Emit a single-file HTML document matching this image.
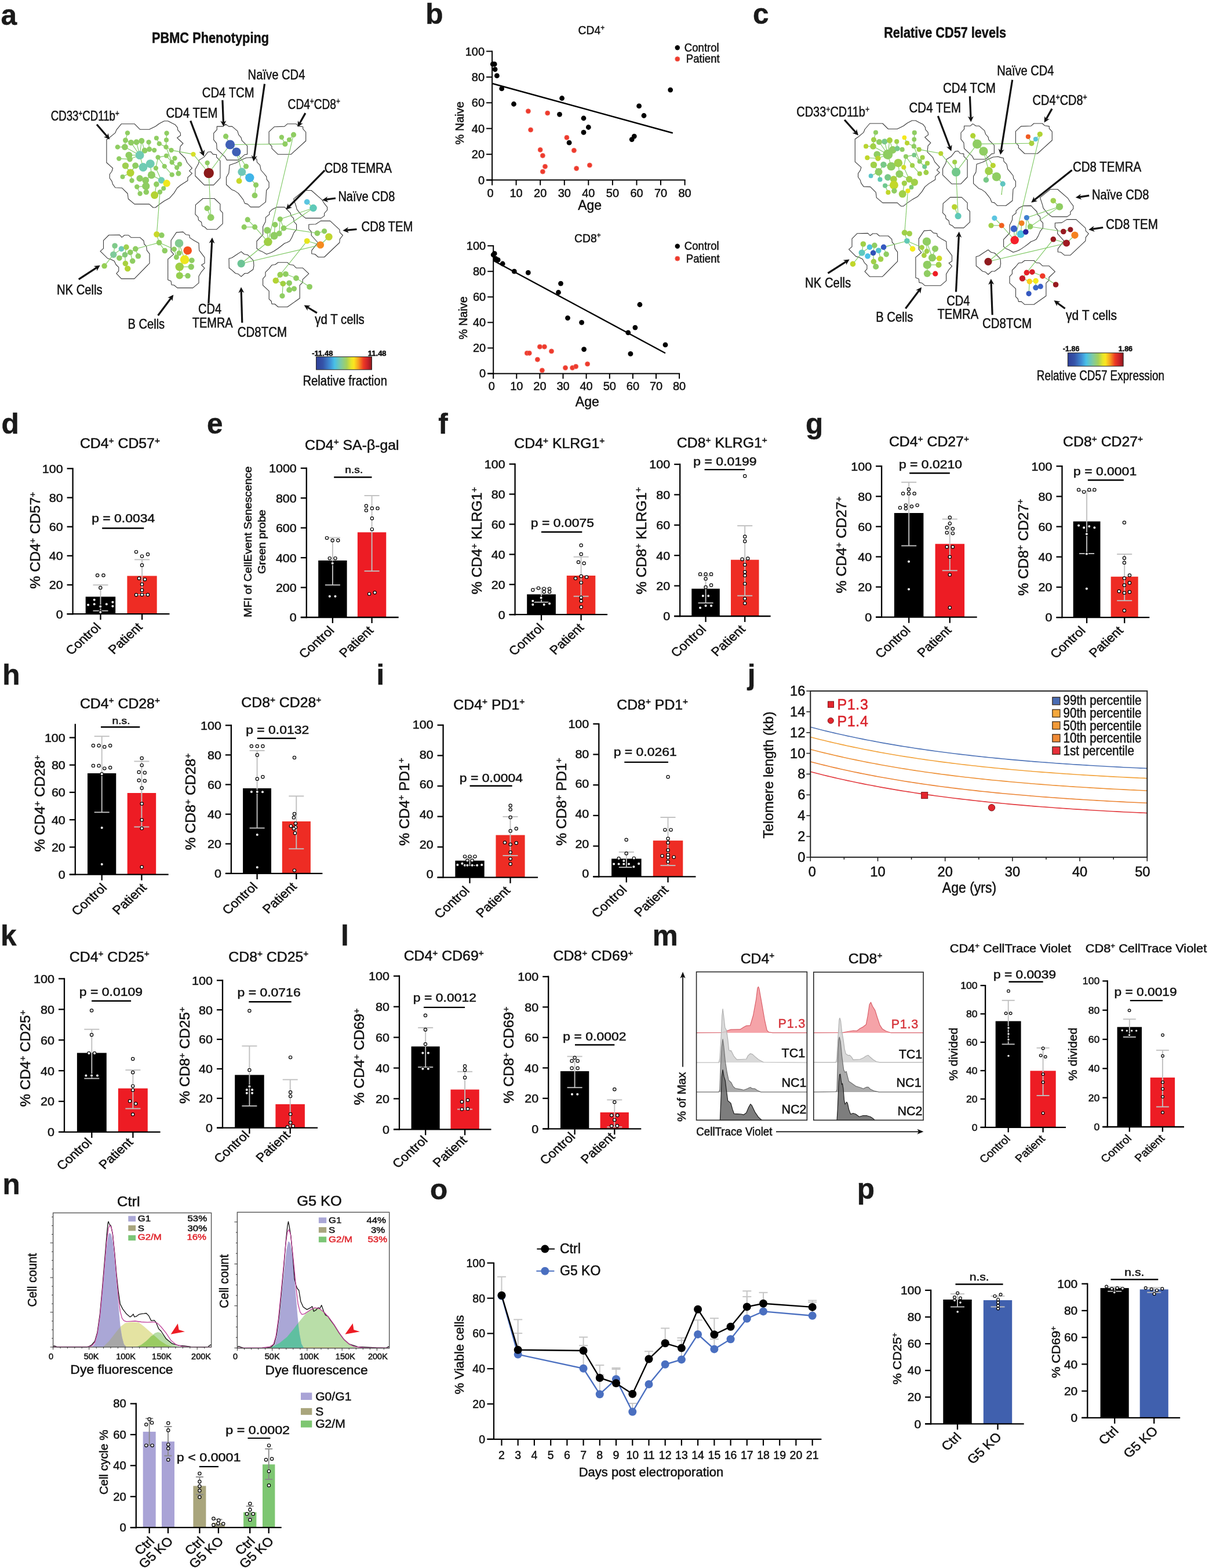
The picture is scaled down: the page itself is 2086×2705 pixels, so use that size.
<!DOCTYPE html>
<html><head><meta charset="utf-8"><title>Figure</title>
<style>
html,body{margin:0;padding:0;background:#fff}
svg{display:block}
text{font-family:"Liberation Sans",sans-serif;fill:#111;stroke:#111;stroke-width:0.5px}
</style></head><body>
<svg xmlns="http://www.w3.org/2000/svg" width="2086" height="2705" viewBox="0 0 2086 2705">
<rect width="2086" height="2705" fill="#fff"/>
<g fill="none" stroke="#3a3a3a" stroke-width="1.1" stroke-linejoin="round">
<path d="M183.9 241 L189.2 237.2 L198.9 229.2 L201 223.9 L209.5 213.7 L232 213.7 L241.6 223.3 L257.6 223.3 L268.3 218 L274.8 213.2 L283.3 208.7 L289.7 208.7 L296.1 212.1 L302.5 215.3 L306.3 220.1 L306.8 224.4 L311.1 229.2 L311.6 233.5 L305.7 237.8 L310 242 L315.9 247.4 L311.1 252.7 L310 263.4 L319.6 273 L322.9 280.5 L331.4 290.1 L326.6 294.9 L331.4 299.2 L323.9 306.2 L323.9 311.5 L312.2 319 L305.7 324.3 L300.4 332.9 L292.9 341.4 L283.3 346.8 L274.8 352.7 L268.3 358 L264.1 358 L257.6 352.1 L232 352.1 L221.3 343 L220.2 334 L210.6 324.3 L198.9 323.8 L194.6 317.9 L193 312.6 L189.2 307.2 L189.2 300.8 L193 295.5 L194.6 290.1 L183.9 280.5 Z"/>
<path d="M351.8 271.1 L358.7 262.3 L363.7 261.7 L367.4 266.1 L373.6 266.7 L373.6 271.1 L379.9 277.3 L379.9 307.2 L368.7 319.1 L352.4 319.1 L336.9 303.5 L336.9 292.3 L342.5 282.3 L343.7 276.1 Z"/>
<path d="M374.3 218.1 L384.9 218.1 L389.2 214.3 L394.8 218.1 L400.5 218.1 L409.8 226.2 L411.7 232.4 L416 237.4 L417.3 242.4 L426.6 251.7 L426.6 266.1 L422.3 266.7 L416 272.3 L411.1 276.1 L391.1 276.1 L388.6 271.1 L374.3 257.4 L373.6 247.4 L368.7 241.1 L368.7 229.9 L374.3 223.7 Z"/>
<path d="M396.1 284.8 L407.3 281 L416 276.1 L424.8 272.3 L433.5 271.7 L437.9 272.9 L442.9 274.2 L443.5 279.8 L448.5 284.8 L450.3 293.5 L454.7 298.5 L459.7 304.7 L460.3 309.7 L464.1 314.7 L464.1 323.4 L459.7 328.4 L458.4 348.4 L447.2 357.1 L432.3 357.1 L427.3 352.1 L422.3 350.9 L419.8 344.6 L416 339.7 L411.1 333.4 L404.8 329.1 L399.8 327.2 L390.5 318.5 L390.5 306 L394.8 298.5 Z"/>
<path d="M464.1 227.4 L473.4 218.7 L490.9 218.1 L495.9 213.7 L510.8 213.7 L514.6 217.4 L522.7 218.7 L522.7 222.4 L527.7 228 L527.7 243 L502.1 266.3 L479.6 266.3 L469 256.1 L469 252.4 L464.1 247.4 Z"/>
<path d="M337.5 353.4 L350 342.5 L369.9 342.5 L379.9 352.1 L379.9 362.7 L384.2 367.1 L384.2 385.8 L373.6 395.8 L357.4 395.8 L353.7 392 L348.7 389.5 L347.5 383.3 L342.5 379.6 L341.8 374.6 L336.9 369.6 Z"/>
<path d="M464.8 366.1 L469.8 361.2 L477.3 357.4 L491 357.2 L494.8 361.2 L501 367.4 L502.3 372.4 L506.6 376.7 L507.2 382.4 L511.6 387.3 L511.6 396.1 L507.2 401.1 L503.5 409.8 L499.8 416 L494.8 418.5 L491 419.8 L484.8 424.8 L479.8 428.5 L472.3 433.5 L467.3 436 L459.9 438.5 L452.4 434.1 L447.4 432.2 L443 428.5 L443 416 L453.6 404.8 L453.6 391.1 L458 382.4 L458.6 374.9 L464.8 369.9 Z"/>
<path d="M506.6 343.1 L524.7 328.5 L537.2 328.5 L555.3 344.3 L559.6 351.2 L564.6 357.4 L564.6 362.4 L559.6 368 L559.6 372.4 L554 376.4 L527.2 376.4 L519.1 369.9 L512.2 361.2 L511 356.2 Z"/>
<path d="M532.8 387.3 L544.7 386.7 L553.4 381.1 L569.6 381.1 L585.8 396.1 L586.4 401.1 L591.4 406 L586.4 412.3 L585.8 418.5 L559.6 443.5 L549 443.5 L543.4 438.5 L537.8 437.8 L537.8 432.2 L548.4 418.5 L537.2 406 L537.2 399.8 L532.8 394.8 Z"/>
<path d="M395 446 L400 444.7 L407.5 439.7 L416.2 434.1 L421.2 438.5 L427.4 439.7 L437.4 449.7 L438 458.4 L436.8 464.7 L427.4 471.5 L422.4 471.5 L416.2 477.1 L411.2 472.8 L406.2 471.5 L400 465.9 L395.3 462.2 Z"/>
<path d="M464.2 463.4 L469.2 457.2 L474.8 456.5 L479.8 452.8 L496 452.8 L499.8 456.5 L506 457.2 L511 462.2 L522.2 462.2 L532.8 472.1 L522.2 482.1 L522.2 487.1 L517.2 492.1 L517.2 514.5 L496 529.5 L479.8 529.5 L474.2 524.5 L469.2 524.5 L468 519.5 L464.2 515.8 L464.2 502.1 L453.6 492.1 L453.6 480.9 L458 475.9 L458 469.6 Z"/>
<path d="M173.1 433.3 L178.5 428.7 L178.5 414.8 L187.8 405.5 L206.3 405.2 L210.2 409.4 L214.8 405.8 L221.8 405.8 L226.4 409.8 L241.8 409.8 L248 415.5 L248.8 421 L252.6 424.8 L253.4 431.8 L258 437.9 L258 454.1 L231.8 480.9 L209.4 480.9 L200.9 471.9 L204.8 467.3 L204.8 461.1 L200.1 456.5 L197.1 450.3 L190.9 447.2 L185.5 445.7 Z"/>
<path d="M295.1 414.8 L304.4 400.9 L315.9 400.1 L320.6 404.7 L326.7 405.5 L327.5 410.1 L334.5 414.8 L343 419.4 L343.7 431.8 L353 444.1 L353 454.1 L347.6 457.2 L353 462.6 L347.6 468.8 L343 476.5 L343 488.1 L332.9 496.6 L305.9 496.6 L300.5 492 L295.9 491.2 L295.1 485 L289.7 482.7 L289.7 447.2 L299.7 438.7 L295.1 433.3 Z"/>
</g>
<g stroke="#7cc760" stroke-width="1.1">
<path d="M220 229.4 L216.5 242"/>
<path d="M216.5 242 L215.4 253.6"/>
<path d="M202.9 253.6 L215.4 253.6"/>
<path d="M216.5 242 L226.1 246.1"/>
<path d="M215.4 253.6 L241.1 267.7"/>
<path d="M226.1 246.1 L241.1 267.7"/>
<path d="M235.4 245.2 L241.1 267.7"/>
<path d="M244.3 243.1 L241.1 267.7"/>
<path d="M244.3 243.1 L249.6 259.7"/>
<path d="M256.6 245.2 L257.6 257.5"/>
<path d="M249.6 259.7 L241.1 267.7"/>
<path d="M257.6 257.5 L249.6 259.7"/>
<path d="M266.2 259.1 L257.6 257.5"/>
<path d="M222.4 267.7 L241.1 267.7"/>
<path d="M205.3 273.6 L224 274.6"/>
<path d="M224 274.6 L241.1 267.7"/>
<path d="M241.1 267.7 L247 288.5"/>
<path d="M247 288.5 L259.3 282.6"/>
<path d="M233.6 285.6 L247 288.5"/>
<path d="M216.5 285.9 L225 298.1"/>
<path d="M233.6 285.6 L225 298.1"/>
<path d="M225 298.1 L211.5 305.1"/>
<path d="M225 298.1 L227.5 311.5"/>
<path d="M259.3 282.6 L261.4 301.9"/>
<path d="M261.4 301.9 L251.2 311"/>
<path d="M251.2 311 L241.1 307.8"/>
<path d="M251.2 311 L251.8 321.1"/>
<path d="M251.8 321.1 L252.3 331.3"/>
<path d="M251.8 321.1 L236.3 322.2"/>
<path d="M236.3 322.2 L241.6 334"/>
<path d="M261.4 301.9 L278.5 311"/>
<path d="M278.5 311 L287.6 316.3"/>
<path d="M287.6 316.3 L282.2 324.9"/>
<path d="M282.2 324.9 L276 331.3"/>
<path d="M276 331.3 L266.7 336.6"/>
<path d="M269.9 317.9 L266.7 336.6"/>
<path d="M268.9 290.1 L272.6 271.4"/>
<path d="M268.9 290.1 L278.5 311"/>
<path d="M272.6 271.4 L287 268.8"/>
<path d="M272.6 271.4 L283.8 286.9"/>
<path d="M283.8 286.9 L296.7 301.4"/>
<path d="M287 268.8 L296.7 280"/>
<path d="M296.7 280 L301.5 273"/>
<path d="M296.7 280 L305.2 289.1"/>
<path d="M305.2 289.1 L310 283.2"/>
<path d="M305.2 289.1 L307.9 299.2"/>
<path d="M286.5 253.6 L295.6 259.1"/>
<path d="M286.5 253.6 L274.8 247.9"/>
<path d="M274.8 247.9 L269.9 238.3"/>
<path d="M286.5 253.6 L287 241.5"/>
<path d="M287 241.5 L287.6 229.7"/>
<path d="M286.5 253.6 L296.7 280"/>
<path d="M295.6 259.1 L333.5 266.1"/>
<path d="M333.5 266.1 L360.2 298.5"/>
<path d="M357.7 281 L360.2 298.5"/>
<path d="M360.2 298.5 L397 249.5"/>
<path d="M360.2 298.5 L363.7 375.2"/>
<path d="M389.6 235.2 L397 249.5"/>
<path d="M397 249.5 L407.9 262.1"/>
<path d="M397 249.5 L491.9 248.4"/>
<path d="M407.9 262.1 L424.5 287"/>
<path d="M407.9 262.1 L417.3 296.6"/>
<path d="M417.3 296.6 L430.8 306.6"/>
<path d="M417.3 296.6 L412.6 312.2"/>
<path d="M430.8 306.6 L441.6 319.1"/>
<path d="M441.6 319.1 L439.5 337.2"/>
<path d="M485.9 236.8 L491.9 248.4"/>
<path d="M491.9 248.4 L499 241.1"/>
<path d="M499 241.1 L506.5 232.4"/>
<path d="M357.4 359.4 L363.7 375.2"/>
<path d="M427.2 378.9 L439.7 391.7"/>
<path d="M421.2 391.7 L439.7 391.7"/>
<path d="M439.7 391.7 L462.4 417.3"/>
<path d="M462.4 417.3 L461.1 397.3"/>
<path d="M462.4 417.3 L473 406.7"/>
<path d="M473 406.7 L474.6 387.6"/>
<path d="M481.7 402.9 L483.3 378"/>
<path d="M483.3 378 L489.5 393.6"/>
<path d="M473 406.7 L481.7 402.9"/>
<path d="M481.7 402.9 L489.5 393.6"/>
<path d="M483.3 378 L540.5 358.9"/>
<path d="M489.5 393.6 L540.5 358.9"/>
<path d="M489.5 393.6 L547.4 402.3"/>
<path d="M506.5 232.4 L462.4 417.3"/>
<path d="M462.4 417.3 L416.2 454.7"/>
<path d="M547.4 402.3 L559.6 398.8"/>
<path d="M567.4 408.5 L552.8 422.5"/>
<path d="M529.7 415.8 L552.8 422.5"/>
<path d="M552.8 422.5 L416.2 454.7"/>
<path d="M529.7 415.8 L483.3 474"/>
<path d="M529.7 348.4 L540.5 358.9"/>
<path d="M483.3 474 L492.9 472.8"/>
<path d="M492.9 472.8 L511 479.9"/>
<path d="M511 479.9 L534.1 494.8"/>
<path d="M483.3 474 L475.8 484"/>
<path d="M475.8 484 L488.3 489.3"/>
<path d="M488.3 489.3 L499.1 488.3"/>
<path d="M499.1 488.3 L499.1 500.2"/>
<path d="M488.3 489.3 L487 510.5"/>
<path d="M276 331.3 L270.4 404.3"/>
<path d="M270.4 404.3 L278.9 405.8"/>
<path d="M270.4 404.3 L274.6 418.6"/>
<path d="M274.6 418.6 L233.8 429.4"/>
<path d="M274.6 418.6 L284.3 432.5"/>
<path d="M274.6 418.6 L300.5 429.9"/>
<path d="M233.8 429.4 L224.8 435.3"/>
<path d="M224.8 435.3 L215.6 439.5"/>
<path d="M215.6 439.5 L217.9 426.4"/>
<path d="M215.6 439.5 L205.9 445.2"/>
<path d="M215.6 439.5 L216.4 454.6"/>
<path d="M216.4 454.6 L220.2 463.4"/>
<path d="M224.8 435.3 L228.7 450.3"/>
<path d="M233.8 429.4 L238.4 441.8"/>
<path d="M209.4 429.4 L195.8 439.2"/>
<path d="M198.1 424 L195.8 439.2"/>
<path d="M195.8 439.2 L180.1 458.8"/>
<path d="M209.4 429.4 L217.9 426.4"/>
<path d="M300.5 429.9 L304.4 443.8"/>
<path d="M309 419.7 L309 436.7"/>
<path d="M309 419.7 L318.6 448"/>
<path d="M309 436.7 L304.4 443.8"/>
<path d="M318.6 448 L323.7 432.2"/>
<path d="M318.6 448 L309.8 460.3"/>
<path d="M318.6 448 L330.9 449.2"/>
<path d="M309.8 460.3 L329.8 460.3"/>
<path d="M309.8 460.3 L309.8 475.5"/>
<path d="M309.8 475.5 L324 475.8"/>
</g>
<g>
<circle cx="220" cy="229.4" r="4.2" fill="#8fcd62"/>
<circle cx="216.5" cy="242" r="4.5" fill="#8fcd62"/>
<circle cx="202.9" cy="253.6" r="4.2" fill="#8fcd62"/>
<circle cx="215.4" cy="253.6" r="5.4" fill="#8fcd62"/>
<circle cx="226.1" cy="246.1" r="5" fill="#8fcd62"/>
<circle cx="235.4" cy="245.2" r="5" fill="#8fcd62"/>
<circle cx="244.3" cy="243.1" r="5" fill="#8fcd62"/>
<circle cx="256.6" cy="245.2" r="4.2" fill="#8fcd62"/>
<circle cx="249.6" cy="259.7" r="5" fill="#8fcd62"/>
<circle cx="257.6" cy="257.5" r="4.5" fill="#8fcd62"/>
<circle cx="266.2" cy="259.1" r="4.2" fill="#8fcd62"/>
<circle cx="241.1" cy="267.7" r="7.4" fill="#6fcbb3"/>
<circle cx="222.4" cy="267.7" r="6" fill="#8fcd62"/>
<circle cx="205.3" cy="273.6" r="4.2" fill="#8fcd62"/>
<circle cx="224" cy="274.6" r="4.8" fill="#8fcd62"/>
<circle cx="216.5" cy="285.9" r="5.7" fill="#9fcf50"/>
<circle cx="233.6" cy="285.6" r="5.4" fill="#8fcd62"/>
<circle cx="247" cy="288.5" r="7.4" fill="#6fcbb3"/>
<circle cx="259.3" cy="282.6" r="7.4" fill="#6fcbb3"/>
<circle cx="225" cy="298.1" r="6.6" fill="#b3d334"/>
<circle cx="211.5" cy="305.1" r="4" fill="#8fcd62"/>
<circle cx="227.5" cy="311.5" r="4.2" fill="#8fcd62"/>
<circle cx="241.1" cy="307.8" r="5.7" fill="#8fcd62"/>
<circle cx="251.2" cy="311" r="6" fill="#8fcd62"/>
<circle cx="261.4" cy="301.9" r="6.6" fill="#8fcd62"/>
<circle cx="251.8" cy="321.1" r="6.6" fill="#8fcd62"/>
<circle cx="236.3" cy="322.2" r="4.2" fill="#8fcd62"/>
<circle cx="241.6" cy="334" r="4.2" fill="#8fcd62"/>
<circle cx="252.3" cy="331.3" r="4.8" fill="#8fcd62"/>
<circle cx="278.5" cy="311" r="5.7" fill="#6fcbb3"/>
<circle cx="287.6" cy="316.3" r="6.2" fill="#efe81c"/>
<circle cx="269.9" cy="317.9" r="4.8" fill="#8fcd62"/>
<circle cx="282.2" cy="324.9" r="4" fill="#8fcd62"/>
<circle cx="276" cy="331.3" r="4.2" fill="#8fcd62"/>
<circle cx="266.7" cy="336.6" r="6.6" fill="#b3d334"/>
<circle cx="268.9" cy="290.1" r="4.2" fill="#8fcd62"/>
<circle cx="272.6" cy="271.4" r="4.2" fill="#8fcd62"/>
<circle cx="287" cy="268.8" r="4" fill="#8fcd62"/>
<circle cx="283.8" cy="286.9" r="4.2" fill="#8fcd62"/>
<circle cx="296.7" cy="301.4" r="4.2" fill="#8fcd62"/>
<circle cx="307.9" cy="299.2" r="4.5" fill="#8fcd62"/>
<circle cx="305.2" cy="289.1" r="4.2" fill="#8fcd62"/>
<circle cx="310" cy="283.2" r="4.2" fill="#8fcd62"/>
<circle cx="296.7" cy="280" r="4.2" fill="#8fcd62"/>
<circle cx="301.5" cy="273" r="4.2" fill="#8fcd62"/>
<circle cx="295.6" cy="259.1" r="4.2" fill="#8fcd62"/>
<circle cx="286.5" cy="253.6" r="4.2" fill="#8fcd62"/>
<circle cx="274.8" cy="247.9" r="4.2" fill="#8fcd62"/>
<circle cx="269.9" cy="238.3" r="4" fill="#8fcd62"/>
<circle cx="287" cy="241.5" r="4" fill="#8fcd62"/>
<circle cx="287.6" cy="229.7" r="4.2" fill="#8fcd62"/>
<circle cx="333.5" cy="266.1" r="4.2" fill="#d6df2a"/>
<circle cx="357.7" cy="281" r="4.2" fill="#8fcd62"/>
<circle cx="360.2" cy="298.5" r="8.7" fill="#8b1a1a"/>
<circle cx="389.6" cy="235.2" r="4.6" fill="#8fcd62"/>
<circle cx="397" cy="249.5" r="8.1" fill="#3f5fb5"/>
<circle cx="407.9" cy="262.1" r="7.7" fill="#3f5fb5"/>
<circle cx="424.5" cy="287" r="4.6" fill="#8fcd62"/>
<circle cx="417.3" cy="296.6" r="7" fill="#6fc7b7"/>
<circle cx="430.8" cy="306.6" r="7.7" fill="#3fb4e8"/>
<circle cx="412.6" cy="312.2" r="4.9" fill="#c8d82a"/>
<circle cx="441.6" cy="319.1" r="4.6" fill="#8fcd62"/>
<circle cx="439.5" cy="337.2" r="4.9" fill="#8fcd62"/>
<circle cx="485.9" cy="236.8" r="4.2" fill="#8fcd62"/>
<circle cx="506.5" cy="232.4" r="4.6" fill="#8fcd62"/>
<circle cx="499" cy="241.1" r="4.2" fill="#8fcd62"/>
<circle cx="491.9" cy="248.4" r="4.6" fill="#8fcd62"/>
<circle cx="357.4" cy="359.4" r="4.9" fill="#8fcd62"/>
<circle cx="363.7" cy="375.2" r="5.9" fill="#8fcd62"/>
<circle cx="427.2" cy="378.9" r="4.6" fill="#8fcd62"/>
<circle cx="421.2" cy="391.7" r="4.6" fill="#8fcd62"/>
<circle cx="439.7" cy="391.7" r="4.6" fill="#8fcd62"/>
<circle cx="483.3" cy="378" r="4.6" fill="#8fcd62"/>
<circle cx="474.6" cy="387.6" r="4.9" fill="#8fcd62"/>
<circle cx="489.5" cy="393.6" r="4.9" fill="#8fcd62"/>
<circle cx="461.1" cy="397.3" r="5.9" fill="#8fcd62"/>
<circle cx="473" cy="406.7" r="6.7" fill="#8fcd62"/>
<circle cx="481.7" cy="402.9" r="4.9" fill="#8fcd62"/>
<circle cx="462.4" cy="417.3" r="7.3" fill="#9fcf45"/>
<circle cx="529.7" cy="348.4" r="4.9" fill="#5bc5e0"/>
<circle cx="540.5" cy="358.9" r="6.3" fill="#5fc9b8"/>
<circle cx="547.4" cy="402.3" r="4.9" fill="#8fcd62"/>
<circle cx="559.6" cy="398.8" r="4.6" fill="#8fcd62"/>
<circle cx="567.4" cy="408.5" r="6.3" fill="#c0d630"/>
<circle cx="529.7" cy="415.8" r="4.9" fill="#e6e61e"/>
<circle cx="552.8" cy="422.5" r="6.3" fill="#f58a1f"/>
<circle cx="416.2" cy="454.7" r="6.7" fill="#6cc495"/>
<circle cx="483.3" cy="474" r="4.9" fill="#98cf55"/>
<circle cx="492.9" cy="472.8" r="4.9" fill="#8fcd62"/>
<circle cx="511" cy="479.9" r="4.9" fill="#8fcd62"/>
<circle cx="475.8" cy="484" r="5.3" fill="#b3d334"/>
<circle cx="488.3" cy="489.3" r="4.9" fill="#a0d040"/>
<circle cx="499.1" cy="488.3" r="4.9" fill="#8fcd62"/>
<circle cx="499.1" cy="500.2" r="4.9" fill="#8fcd62"/>
<circle cx="507.5" cy="498.1" r="4.6" fill="#8fcd62"/>
<circle cx="487" cy="510.5" r="4.6" fill="#8fcd62"/>
<circle cx="534.1" cy="494.8" r="4.9" fill="#8fcd62"/>
<circle cx="270.4" cy="404.3" r="5.2" fill="#c8d82a"/>
<circle cx="278.9" cy="405.8" r="4.8" fill="#8fcd62"/>
<circle cx="274.6" cy="418.6" r="4.8" fill="#8fcd62"/>
<circle cx="284.3" cy="432.5" r="4.8" fill="#8fcd62"/>
<circle cx="198.1" cy="424" r="4.8" fill="#7fca8a"/>
<circle cx="209.4" cy="429.4" r="4.8" fill="#6fc9b5"/>
<circle cx="217.9" cy="426.4" r="4.8" fill="#9fd050"/>
<circle cx="233.8" cy="429.4" r="4.8" fill="#8fcd62"/>
<circle cx="195.8" cy="439.2" r="5.7" fill="#7fcb9a"/>
<circle cx="205.9" cy="445.2" r="4.8" fill="#8fcd62"/>
<circle cx="215.6" cy="439.5" r="4.8" fill="#85c878"/>
<circle cx="224.8" cy="435.3" r="4.8" fill="#8fcd62"/>
<circle cx="238.4" cy="441.8" r="4.8" fill="#8fcd62"/>
<circle cx="228.7" cy="450.3" r="4.8" fill="#8fcd62"/>
<circle cx="216.4" cy="454.6" r="4.8" fill="#a8d040"/>
<circle cx="220.2" cy="463.4" r="5.2" fill="#b3d334"/>
<circle cx="180.1" cy="458.8" r="4.8" fill="#95cf55"/>
<circle cx="309" cy="419.7" r="7.3" fill="#82c990"/>
<circle cx="323.7" cy="432.2" r="7.3" fill="#f4511e"/>
<circle cx="300.5" cy="429.9" r="4.5" fill="#8fcd62"/>
<circle cx="309" cy="436.7" r="4.5" fill="#8fcd62"/>
<circle cx="304.4" cy="443.8" r="4.5" fill="#8fcd62"/>
<circle cx="318.6" cy="448" r="7.8" fill="#ede61e"/>
<circle cx="330.9" cy="449.2" r="4.8" fill="#8fcd62"/>
<circle cx="309.8" cy="460.3" r="7.3" fill="#9fcf45"/>
<circle cx="329.8" cy="460.3" r="5.2" fill="#8fcd62"/>
<circle cx="309.8" cy="475.5" r="6.1" fill="#95cf50"/>
<circle cx="324" cy="475.8" r="4.8" fill="#8fcd62"/>
</g>
<text transform="translate(363,73.5) scale(0.872,1)" font-size="25" text-anchor="middle" font-weight="bold">PBMC Phenotyping</text>
<text transform="translate(427.6,137.2) scale(0.860,1)" font-size="23.5">Naïve CD4</text>
<text transform="translate(348.7,168.3) scale(0.865,1)" font-size="23.5">CD4 TCM</text>
<text transform="translate(286.4,202.6) scale(0.867,1)" font-size="23.5">CD4 TEM</text>
<text transform="translate(496.6,187.9) scale(0.814,1)" font-size="23.5">CD4<tspan dy="-8.5" font-size="14.6">+</tspan><tspan dy="8.5" font-size="1">&#8203;</tspan>CD8<tspan dy="-8.5" font-size="14.6">+</tspan><tspan dy="8.5" font-size="1">&#8203;</tspan></text>
<text transform="translate(87.7,208.4) scale(0.795,1)" font-size="23.5">CD33<tspan dy="-8.5" font-size="14.6">+</tspan><tspan dy="8.5" font-size="1">&#8203;</tspan>CD11b<tspan dy="-8.5" font-size="14.6">+</tspan><tspan dy="8.5" font-size="1">&#8203;</tspan></text>
<text transform="translate(559.8,297.5) scale(0.859,1)" font-size="23.5">CD8 TEMRA</text>
<text transform="translate(583.4,346.5) scale(0.853,1)" font-size="23.5">Naïve CD8</text>
<text transform="translate(623.5,398.6) scale(0.867,1)" font-size="23.5">CD8 TEM</text>
<text transform="translate(98,507.7) scale(0.862,1)" font-size="23.5">NK Cells</text>
<text transform="translate(220.5,566.5) scale(0.856,1)" font-size="23.5">B Cells</text>
<text transform="translate(342,541.1) scale(0.853,1)" font-size="23.5">CD4</text>
<text transform="translate(331.8,564.7) scale(0.850,1)" font-size="23.5">TEMRA</text>
<text transform="translate(409.7,581.2) scale(0.873,1)" font-size="23.5">CD8TCM</text>
<text transform="translate(543.3,558.9) scale(0.869,1)" font-size="23.5">γd T cells</text>
<line x1="456.5" y1="144.7" x2="438.3" y2="271.4" stroke="#111" stroke-width="3.2"/>
<polygon points="437.4,278.4 433.8,267.7 438.3,271.4 443.7,269.2" fill="#111"/>
<line x1="383.9" y1="172.8" x2="385.4" y2="211.2" stroke="#111" stroke-width="3.2"/>
<polygon points="385.7,218.2 380.3,208.4 385.4,211.2 390.3,208" fill="#111"/>
<line x1="328.7" y1="208.4" x2="349.4" y2="262.9" stroke="#111" stroke-width="3.2"/>
<polygon points="351.8,269.4 343.6,261.9 349.4,262.9 353,258.3" fill="#111"/>
<line x1="526.9" y1="195.1" x2="516.9" y2="213" stroke="#111" stroke-width="3.2"/>
<polygon points="513.5,219.1 514,208 516.9,213 522.7,212.8" fill="#111"/>
<line x1="167" y1="214.7" x2="184.7" y2="235.2" stroke="#111" stroke-width="3.2"/>
<polygon points="189.3,240.5 179,236.2 184.7,235.2 186.5,229.7" fill="#111"/>
<line x1="560.3" y1="293.9" x2="498.4" y2="356.7" stroke="#111" stroke-width="3.2"/>
<polygon points="493.5,361.6 496.9,351 498.4,356.7 504.1,358" fill="#111"/>
<line x1="579" y1="342" x2="562.8" y2="344.2" stroke="#111" stroke-width="3.2"/>
<polygon points="555.8,345.2 565.1,338.9 562.8,344.2 566.4,348.8" fill="#111"/>
<line x1="615.5" y1="395.5" x2="598.4" y2="397.1" stroke="#111" stroke-width="3.2"/>
<polygon points="591.4,397.7 600.9,391.8 598.4,397.1 601.9,401.8" fill="#111"/>
<line x1="135.8" y1="481.9" x2="166.9" y2="461.7" stroke="#111" stroke-width="3.2"/>
<polygon points="172.8,457.8 167.1,467.5 166.9,461.7 161.7,459.1" fill="#111"/>
<line x1="272.6" y1="544.2" x2="295.1" y2="514.2" stroke="#111" stroke-width="3.2"/>
<polygon points="299.3,508.6 297.3,519.6 295.1,514.2 289.3,513.6" fill="#111"/>
<line x1="359.9" y1="523.3" x2="365.7" y2="416.7" stroke="#111" stroke-width="3.2"/>
<polygon points="366.1,409.7 370.5,420 365.7,416.7 360.6,419.4" fill="#111"/>
<line x1="417.8" y1="556.7" x2="416.2" y2="502.2" stroke="#111" stroke-width="3.2"/>
<polygon points="416,495.2 421.3,505.1 416.2,502.2 411.3,505.4" fill="#111"/>
<line x1="546.9" y1="539.8" x2="530.6" y2="530" stroke="#111" stroke-width="3.2"/>
<polygon points="524.6,526.4 535.8,527.3 530.6,530 530.6,535.9" fill="#111"/>
<defs><linearGradient id="cba" x1="0" x2="1" y1="0" y2="0">
<stop offset="0" stop-color="#2f3f98"/>
<stop offset="0.12" stop-color="#3553a8"/>
<stop offset="0.25" stop-color="#3f8fd6"/>
<stop offset="0.33" stop-color="#48c0e8"/>
<stop offset="0.45" stop-color="#7fcaa0"/>
<stop offset="0.55" stop-color="#a6d05a"/>
<stop offset="0.63" stop-color="#e6e52a"/>
<stop offset="0.68" stop-color="#fbe51f"/>
<stop offset="0.76" stop-color="#f7a020"/>
<stop offset="0.85" stop-color="#ee3a24"/>
<stop offset="0.93" stop-color="#c8202a"/>
<stop offset="1" stop-color="#8b1a1c"/>
</linearGradient></defs>
<rect x="545.6" y="615.5" width="95.8" height="22.3" fill="url(#cba)" stroke="#222" stroke-width="1"/>
<text x="556.3" y="613.7" font-size="13" text-anchor="middle" font-weight="bold">-11.48</text>
<text x="650.7" y="613.7" font-size="13" text-anchor="middle" font-weight="bold">11.48</text>
<text transform="translate(522.4,664.5) scale(0.864,1)" font-size="23.5">Relative fraction</text>
<g fill="none" stroke="#3a3a3a" stroke-width="1.1" stroke-linejoin="round">
<path d="M1475.3 240 L1480.6 236.3 L1490.1 228.3 L1492.2 223 L1500.7 213 L1522.9 213 L1532.4 222.5 L1548.2 222.5 L1558.8 217.2 L1565.1 212.5 L1573.6 208 L1579.9 208 L1586.3 211.4 L1592.6 214.6 L1596.3 219.3 L1596.9 223.6 L1601.1 228.3 L1601.6 232.6 L1595.8 236.8 L1600 241 L1605.8 246.3 L1601.1 251.6 L1600 262.2 L1609.5 271.7 L1612.7 279.1 L1621.2 288.6 L1616.4 293.3 L1621.2 297.6 L1613.8 304.4 L1613.8 309.7 L1602.1 317.1 L1595.8 322.4 L1590.5 330.9 L1583.1 339.3 L1573.6 344.6 L1565.1 350.4 L1558.8 355.7 L1554.6 355.7 L1548.2 349.9 L1522.9 349.9 L1512.3 340.9 L1511.2 331.9 L1501.7 322.4 L1490.1 321.9 L1485.9 316.1 L1484.3 310.8 L1480.6 305.5 L1480.6 299.2 L1484.3 293.9 L1485.9 288.6 L1475.3 279.1 Z"/>
<path d="M1641.4 269.7 L1648.1 261.1 L1653.1 260.5 L1656.8 264.8 L1662.9 265.4 L1662.9 269.7 L1669.1 275.9 L1669.1 305.5 L1658 317.2 L1642 317.2 L1626.6 301.8 L1626.6 290.7 L1632.1 280.8 L1633.3 274.7 Z"/>
<path d="M1663.6 217.3 L1674 217.3 L1678.4 213.6 L1683.9 217.3 L1689.5 217.3 L1698.7 225.3 L1700.6 231.5 L1704.9 236.4 L1706.1 241.4 L1715.4 250.6 L1715.4 264.8 L1711 265.4 L1704.9 271 L1699.9 274.7 L1680.2 274.7 L1677.7 269.7 L1663.6 256.2 L1662.9 246.3 L1658 240.1 L1658 229 L1663.6 222.9 Z"/>
<path d="M1685.1 283.3 L1696.2 279.6 L1704.9 274.7 L1713.5 271 L1722.1 270.3 L1726.5 271.6 L1731.4 272.8 L1732 278.4 L1736.9 283.3 L1738.8 291.9 L1743.1 296.9 L1748 303 L1748.7 308 L1752.4 312.9 L1752.4 321.5 L1748 326.5 L1746.8 346.2 L1735.7 354.8 L1720.9 354.8 L1716 349.9 L1711 348.7 L1708.6 342.5 L1704.9 337.6 L1699.9 331.4 L1693.8 327.1 L1688.8 325.2 L1679.6 316.6 L1679.6 304.3 L1683.9 296.9 Z"/>
<path d="M1752.4 226.6 L1761.6 217.9 L1778.9 217.3 L1783.8 213 L1798.6 213 L1802.3 216.7 L1810.3 217.9 L1810.3 221.6 L1815.3 227.2 L1815.3 242 L1790 265 L1767.8 265 L1757.3 254.9 L1757.3 251.2 L1752.4 246.3 Z"/>
<path d="M1627.2 351.1 L1639.5 340.4 L1659.2 340.4 L1669.1 349.9 L1669.1 360.4 L1673.4 364.7 L1673.4 383.2 L1662.9 393.1 L1646.9 393.1 L1643.2 389.4 L1638.3 386.9 L1637 380.7 L1632.1 377 L1631.5 372.1 L1626.6 367.2 Z"/>
<path d="M1753.1 363.8 L1758.1 358.8 L1765.5 355.1 L1779 354.9 L1782.7 358.8 L1788.9 365 L1790.1 369.9 L1794.5 374.2 L1795.1 379.8 L1799.4 384.7 L1799.4 393.4 L1795.1 398.3 L1791.4 406.9 L1787.7 413.1 L1782.7 415.6 L1779 416.8 L1772.9 421.7 L1767.9 425.4 L1760.5 430.4 L1755.6 432.8 L1748.2 435.3 L1740.8 431 L1735.9 429.1 L1731.6 425.4 L1731.6 413.1 L1742 402 L1742 388.4 L1746.4 379.8 L1747 372.4 L1753.1 367.5 Z"/>
<path d="M1794.5 340.9 L1812.3 326.5 L1824.7 326.5 L1842.6 342.2 L1846.9 349 L1851.8 355.1 L1851.8 360.1 L1846.9 365.6 L1846.9 369.9 L1841.3 373.9 L1814.8 373.9 L1806.8 367.5 L1800 358.8 L1798.8 353.9 Z"/>
<path d="M1820.4 384.7 L1832.1 384.1 L1840.7 378.6 L1856.7 378.6 L1872.8 393.4 L1873.4 398.3 L1878.3 403.2 L1873.4 409.4 L1872.8 415.6 L1846.9 440.2 L1836.4 440.2 L1830.8 435.3 L1825.3 434.7 L1825.3 429.1 L1835.8 415.6 L1824.7 403.2 L1824.7 397.1 L1820.4 392.1 Z"/>
<path d="M1684.1 442.7 L1689 441.5 L1696.4 436.5 L1705 431 L1710 435.3 L1716.1 436.5 L1726 446.4 L1726.6 455 L1725.4 461.2 L1716.1 468 L1711.2 468 L1705 473.5 L1700.1 469.2 L1695.2 468 L1689 462.4 L1684.3 458.7 Z"/>
<path d="M1752.5 460 L1757.5 453.8 L1763 453.2 L1767.9 449.5 L1784 449.5 L1787.7 453.2 L1793.8 453.8 L1798.8 458.7 L1809.9 458.7 L1820.4 468.6 L1809.9 478.5 L1809.9 483.4 L1804.9 488.3 L1804.9 510.5 L1784 525.3 L1767.9 525.3 L1762.4 520.4 L1757.5 520.4 L1756.2 515.5 L1752.5 511.8 L1752.5 498.2 L1742 488.3 L1742 477.2 L1746.4 472.3 L1746.4 466.1 Z"/>
<path d="M1464.6 430.2 L1470 425.6 L1470 411.9 L1479.1 402.7 L1497.5 402.4 L1501.3 406.5 L1505.9 403 L1512.7 403 L1517.3 407 L1532.6 407 L1538.7 412.6 L1539.4 418 L1543.3 421.8 L1544 428.7 L1548.6 434.8 L1548.6 450.8 L1522.7 477.2 L1500.5 477.2 L1492.1 468.4 L1495.9 463.8 L1495.9 457.7 L1491.3 453.1 L1488.3 447 L1482.2 443.9 L1476.8 442.4 Z"/>
<path d="M1585.3 411.9 L1594.4 398.1 L1605.9 397.3 L1610.5 401.9 L1616.6 402.7 L1617.3 407.3 L1624.2 411.9 L1632.6 416.4 L1633.4 428.7 L1642.5 440.9 L1642.5 450.8 L1637.2 453.8 L1642.5 459.2 L1637.2 465.3 L1632.6 472.9 L1632.6 484.4 L1622.7 492.8 L1595.9 492.8 L1590.6 488.2 L1586 487.4 L1585.3 481.3 L1579.9 479 L1579.9 443.9 L1589.8 435.5 L1585.3 430.2 Z"/>
</g>
<g stroke="#7cc760" stroke-width="1.1">
<path d="M1511 228.5 L1507.5 241"/>
<path d="M1507.5 241 L1506.5 252.4"/>
<path d="M1494.1 252.4 L1506.5 252.4"/>
<path d="M1507.5 241 L1517 245"/>
<path d="M1506.5 252.4 L1531.8 266.4"/>
<path d="M1517 245 L1531.8 266.4"/>
<path d="M1526.2 244.2 L1531.8 266.4"/>
<path d="M1535 242.1 L1531.8 266.4"/>
<path d="M1535 242.1 L1540.3 258.5"/>
<path d="M1547.2 244.2 L1548.2 256.3"/>
<path d="M1540.3 258.5 L1531.8 266.4"/>
<path d="M1548.2 256.3 L1540.3 258.5"/>
<path d="M1556.7 257.9 L1548.2 256.3"/>
<path d="M1513.3 266.4 L1531.8 266.4"/>
<path d="M1496.4 272.2 L1514.9 273.3"/>
<path d="M1514.9 273.3 L1531.8 266.4"/>
<path d="M1531.8 266.4 L1537.7 287"/>
<path d="M1537.7 287 L1549.8 281.2"/>
<path d="M1524.4 284.1 L1537.7 287"/>
<path d="M1507.5 284.4 L1516 296.5"/>
<path d="M1524.4 284.1 L1516 296.5"/>
<path d="M1516 296.5 L1502.6 303.4"/>
<path d="M1516 296.5 L1518.4 309.7"/>
<path d="M1549.8 281.2 L1551.9 300.2"/>
<path d="M1551.9 300.2 L1541.9 309.2"/>
<path d="M1541.9 309.2 L1531.8 306"/>
<path d="M1541.9 309.2 L1542.4 319.2"/>
<path d="M1542.4 319.2 L1542.9 329.3"/>
<path d="M1542.4 319.2 L1527.1 320.3"/>
<path d="M1527.1 320.3 L1532.4 331.9"/>
<path d="M1551.9 300.2 L1568.8 309.2"/>
<path d="M1568.8 309.2 L1577.8 314.5"/>
<path d="M1577.8 314.5 L1572.5 322.9"/>
<path d="M1572.5 322.9 L1566.4 329.3"/>
<path d="M1566.4 329.3 L1557.2 334.6"/>
<path d="M1560.4 316.1 L1557.2 334.6"/>
<path d="M1559.3 288.6 L1563 270.1"/>
<path d="M1559.3 288.6 L1568.8 309.2"/>
<path d="M1563 270.1 L1577.3 267.4"/>
<path d="M1563 270.1 L1574.1 285.4"/>
<path d="M1574.1 285.4 L1586.8 299.7"/>
<path d="M1577.3 267.4 L1586.8 278.5"/>
<path d="M1586.8 278.5 L1591.6 271.7"/>
<path d="M1586.8 278.5 L1595.3 287.5"/>
<path d="M1595.3 287.5 L1600 281.7"/>
<path d="M1595.3 287.5 L1597.9 297.6"/>
<path d="M1576.8 252.4 L1585.8 257.9"/>
<path d="M1576.8 252.4 L1565.1 246.8"/>
<path d="M1565.1 246.8 L1560.4 237.3"/>
<path d="M1576.8 252.4 L1577.3 240.5"/>
<path d="M1577.3 240.5 L1577.8 228.9"/>
<path d="M1576.8 252.4 L1586.8 278.5"/>
<path d="M1585.8 257.9 L1623.3 264.8"/>
<path d="M1623.3 264.8 L1649.6 296.9"/>
<path d="M1647.2 279.6 L1649.6 296.9"/>
<path d="M1649.6 296.9 L1686 248.4"/>
<path d="M1649.6 296.9 L1653.1 372.7"/>
<path d="M1678.7 234.2 L1686 248.4"/>
<path d="M1686 248.4 L1696.9 260.9"/>
<path d="M1686 248.4 L1779.9 247.3"/>
<path d="M1696.9 260.9 L1713.3 285.5"/>
<path d="M1696.9 260.9 L1706.1 295"/>
<path d="M1706.1 295 L1719.4 304.9"/>
<path d="M1706.1 295 L1701.4 310.4"/>
<path d="M1719.4 304.9 L1730.2 317.2"/>
<path d="M1730.2 317.2 L1728.1 335.1"/>
<path d="M1773.9 235.8 L1779.9 247.3"/>
<path d="M1779.9 247.3 L1786.9 240.1"/>
<path d="M1786.9 240.1 L1794.3 231.5"/>
<path d="M1646.9 357 L1653.1 372.7"/>
<path d="M1715.9 376.3 L1728.2 389"/>
<path d="M1710 389 L1728.2 389"/>
<path d="M1728.2 389 L1750.7 414.3"/>
<path d="M1750.7 414.3 L1749.4 394.6"/>
<path d="M1750.7 414.3 L1761.2 403.8"/>
<path d="M1761.2 403.8 L1762.8 385"/>
<path d="M1769.8 400.1 L1771.4 375.5"/>
<path d="M1771.4 375.5 L1777.6 390.9"/>
<path d="M1761.2 403.8 L1769.8 400.1"/>
<path d="M1769.8 400.1 L1777.6 390.9"/>
<path d="M1771.4 375.5 L1828 356.6"/>
<path d="M1777.6 390.9 L1828 356.6"/>
<path d="M1777.6 390.9 L1834.8 399.5"/>
<path d="M1794.3 231.5 L1750.7 414.3"/>
<path d="M1750.7 414.3 L1705 451.3"/>
<path d="M1834.8 399.5 L1846.9 396.1"/>
<path d="M1854.5 405.7 L1840.1 419.5"/>
<path d="M1817.3 412.8 L1840.1 419.5"/>
<path d="M1840.1 419.5 L1705 451.3"/>
<path d="M1817.3 412.8 L1771.4 470.4"/>
<path d="M1817.3 346.2 L1828 356.6"/>
<path d="M1771.4 470.4 L1780.9 469.2"/>
<path d="M1780.9 469.2 L1798.8 476.2"/>
<path d="M1798.8 476.2 L1821.6 491"/>
<path d="M1771.4 470.4 L1764 480.3"/>
<path d="M1764 480.3 L1776.3 485.6"/>
<path d="M1776.3 485.6 L1787.1 484.6"/>
<path d="M1787.1 484.6 L1787.1 496.3"/>
<path d="M1776.3 485.6 L1775.1 506.6"/>
<path d="M1566.4 329.3 L1560.8 401.5"/>
<path d="M1560.8 401.5 L1569.2 403"/>
<path d="M1560.8 401.5 L1564.9 415.7"/>
<path d="M1564.9 415.7 L1524.6 426.4"/>
<path d="M1564.9 415.7 L1574.6 429.4"/>
<path d="M1564.9 415.7 L1590.6 426.8"/>
<path d="M1524.6 426.4 L1515.8 432.2"/>
<path d="M1515.8 432.2 L1506.6 436.3"/>
<path d="M1506.6 436.3 L1508.9 423.3"/>
<path d="M1506.6 436.3 L1497 441.9"/>
<path d="M1506.6 436.3 L1507.4 451.3"/>
<path d="M1507.4 451.3 L1511.2 460"/>
<path d="M1515.8 432.2 L1519.6 447"/>
<path d="M1524.6 426.4 L1529.2 438.6"/>
<path d="M1500.5 426.4 L1487.1 436"/>
<path d="M1489.4 421 L1487.1 436"/>
<path d="M1487.1 436 L1471.5 455.4"/>
<path d="M1500.5 426.4 L1508.9 423.3"/>
<path d="M1590.6 426.8 L1594.4 440.6"/>
<path d="M1599 416.7 L1599 433.5"/>
<path d="M1599 416.7 L1608.5 444.7"/>
<path d="M1599 433.5 L1594.4 440.6"/>
<path d="M1608.5 444.7 L1613.5 429.1"/>
<path d="M1608.5 444.7 L1599.8 456.9"/>
<path d="M1608.5 444.7 L1620.7 445.9"/>
<path d="M1599.8 456.9 L1619.6 456.9"/>
<path d="M1599.8 456.9 L1599.8 471.9"/>
<path d="M1599.8 471.9 L1613.8 472.2"/>
</g>
<g>
<circle cx="1511" cy="228.5" r="4.1" fill="#8fcd62"/>
<circle cx="1507.5" cy="241" r="4.5" fill="#a0d048"/>
<circle cx="1494.1" cy="252.4" r="4.1" fill="#b8d430"/>
<circle cx="1506.5" cy="252.4" r="5.3" fill="#a0d048"/>
<circle cx="1517" cy="245" r="5" fill="#8fcd62"/>
<circle cx="1526.2" cy="244.2" r="5" fill="#78c888"/>
<circle cx="1535" cy="242.1" r="5" fill="#a8d040"/>
<circle cx="1547.2" cy="244.2" r="4.1" fill="#a0d048"/>
<circle cx="1540.3" cy="258.5" r="6.5" fill="#8fcd62"/>
<circle cx="1548.2" cy="256.3" r="4.5" fill="#78c888"/>
<circle cx="1556.7" cy="257.9" r="4.1" fill="#8fcd62"/>
<circle cx="1531.8" cy="266.4" r="8.5" fill="#8fcd62"/>
<circle cx="1513.3" cy="266.4" r="5.9" fill="#8fcd62"/>
<circle cx="1496.4" cy="272.2" r="4.1" fill="#c0d62a"/>
<circle cx="1514.9" cy="273.3" r="4.7" fill="#b8d430"/>
<circle cx="1507.5" cy="284.4" r="5.7" fill="#a0d048"/>
<circle cx="1524.4" cy="284.1" r="5.3" fill="#78c888"/>
<circle cx="1537.7" cy="287" r="7.3" fill="#8fcd62"/>
<circle cx="1549.8" cy="281.2" r="7.3" fill="#a0d048"/>
<circle cx="1516" cy="296.5" r="6.5" fill="#8fcd62"/>
<circle cx="1502.6" cy="303.4" r="3.9" fill="#5cc5c8"/>
<circle cx="1518.4" cy="309.7" r="4.1" fill="#5fc9b4"/>
<circle cx="1531.8" cy="306" r="5.7" fill="#78c888"/>
<circle cx="1541.9" cy="309.2" r="5.9" fill="#a8d040"/>
<circle cx="1551.9" cy="300.2" r="6.5" fill="#8fcd62"/>
<circle cx="1542.4" cy="319.2" r="7.5" fill="#c3d82a"/>
<circle cx="1527.1" cy="320.3" r="4.1" fill="#6fc890"/>
<circle cx="1532.4" cy="331.9" r="4.1" fill="#c0d62a"/>
<circle cx="1542.9" cy="329.3" r="4.7" fill="#8fcd62"/>
<circle cx="1568.8" cy="309.2" r="5.7" fill="#a0d048"/>
<circle cx="1577.8" cy="314.5" r="6.2" fill="#a0d048"/>
<circle cx="1560.4" cy="316.1" r="4.7" fill="#a0d048"/>
<circle cx="1572.5" cy="322.9" r="3.9" fill="#7fca70"/>
<circle cx="1566.4" cy="329.3" r="4.1" fill="#e8e61e"/>
<circle cx="1557.2" cy="334.6" r="6.5" fill="#a0d048"/>
<circle cx="1559.3" cy="288.6" r="4.1" fill="#d0dc28"/>
<circle cx="1563" cy="270.1" r="4.1" fill="#8fcd62"/>
<circle cx="1577.3" cy="267.4" r="3.9" fill="#78c888"/>
<circle cx="1574.1" cy="285.4" r="4.1" fill="#a0d048"/>
<circle cx="1586.8" cy="299.7" r="4.1" fill="#a0d048"/>
<circle cx="1597.9" cy="297.6" r="4.5" fill="#a0d048"/>
<circle cx="1595.3" cy="287.5" r="4.1" fill="#6fc890"/>
<circle cx="1600" cy="281.7" r="4.1" fill="#a0d048"/>
<circle cx="1586.8" cy="278.5" r="4.1" fill="#8fcd62"/>
<circle cx="1591.6" cy="271.7" r="4.1" fill="#a0d048"/>
<circle cx="1585.8" cy="257.9" r="4.1" fill="#a0d048"/>
<circle cx="1576.8" cy="252.4" r="4.1" fill="#8fcd62"/>
<circle cx="1565.1" cy="246.8" r="4.1" fill="#b8d430"/>
<circle cx="1560.4" cy="237.3" r="3.9" fill="#f5e81c"/>
<circle cx="1577.3" cy="240.5" r="3.9" fill="#8fcd62"/>
<circle cx="1577.8" cy="228.9" r="4.1" fill="#8fcd62"/>
<circle cx="1623.3" cy="264.8" r="4.1" fill="#b8d430"/>
<circle cx="1647.2" cy="279.6" r="4.1" fill="#a0d048"/>
<circle cx="1649.6" cy="296.9" r="7.6" fill="#72c88a"/>
<circle cx="1678.7" cy="234.2" r="4.6" fill="#b0d334"/>
<circle cx="1686" cy="248.4" r="8" fill="#8fcd62"/>
<circle cx="1696.9" cy="260.9" r="7.6" fill="#8fcd62"/>
<circle cx="1713.3" cy="285.5" r="4.6" fill="#b8d430"/>
<circle cx="1706.1" cy="295" r="6.9" fill="#a0d048"/>
<circle cx="1719.4" cy="304.9" r="7.6" fill="#8fcd62"/>
<circle cx="1701.4" cy="310.4" r="4.8" fill="#78c888"/>
<circle cx="1730.2" cy="317.2" r="4.6" fill="#5fc5c0"/>
<circle cx="1728.1" cy="335.1" r="1" fill="#8fcd62"/>
<circle cx="1773.9" cy="235.8" r="4.1" fill="#f05a22"/>
<circle cx="1794.3" cy="231.5" r="4.6" fill="#b0d334"/>
<circle cx="1786.9" cy="240.1" r="4.1" fill="#5cc5d8"/>
<circle cx="1779.9" cy="247.3" r="4.6" fill="#a8d040"/>
<circle cx="1646.9" cy="357" r="4.8" fill="#b8d430"/>
<circle cx="1653.1" cy="372.7" r="5.6" fill="#5fc9b8"/>
<circle cx="1715.9" cy="376.3" r="4.6" fill="#5cc5e0"/>
<circle cx="1710" cy="389" r="4.6" fill="#a0d048"/>
<circle cx="1728.2" cy="389" r="4.6" fill="#f0601e"/>
<circle cx="1771.4" cy="375.5" r="4.6" fill="#3f80d0"/>
<circle cx="1762.8" cy="385" r="4.8" fill="#f08020"/>
<circle cx="1777.6" cy="390.9" r="4.8" fill="#8fcd62"/>
<circle cx="1749.4" cy="394.6" r="5.8" fill="#3a60c8"/>
<circle cx="1761.2" cy="403.8" r="6.6" fill="#4cc0e0"/>
<circle cx="1769.8" cy="400.1" r="4.8" fill="#2525a0"/>
<circle cx="1750.7" cy="414.3" r="7.2" fill="#f5202a"/>
<circle cx="1817.3" cy="346.2" r="4.8" fill="#a0d050"/>
<circle cx="1828" cy="356.6" r="6.2" fill="#8fcd62"/>
<circle cx="1834.8" cy="399.5" r="4.8" fill="#961a20"/>
<circle cx="1846.9" cy="396.1" r="4.6" fill="#901a20"/>
<circle cx="1854.5" cy="405.7" r="6.2" fill="#f58220"/>
<circle cx="1817.3" cy="412.8" r="4.8" fill="#961a20"/>
<circle cx="1840.1" cy="419.5" r="6" fill="#a01a22"/>
<circle cx="1705" cy="451.3" r="6.6" fill="#901a1e"/>
<circle cx="1771.4" cy="470.4" r="4.8" fill="#e82028"/>
<circle cx="1780.9" cy="469.2" r="4.8" fill="#d82028"/>
<circle cx="1798.8" cy="476.2" r="4.8" fill="#f03a28"/>
<circle cx="1764" cy="480.3" r="5.2" fill="#c81e28"/>
<circle cx="1776.3" cy="485.6" r="4.8" fill="#fcd01e"/>
<circle cx="1787.1" cy="484.6" r="4.8" fill="#f5ea1e"/>
<circle cx="1787.1" cy="496.3" r="4.8" fill="#3a68c8"/>
<circle cx="1795.3" cy="494.2" r="4.6" fill="#3a60c8"/>
<circle cx="1775.1" cy="506.6" r="4.6" fill="#3558c0"/>
<circle cx="1821.6" cy="491" r="4.8" fill="#961a20"/>
<circle cx="1560.8" cy="401.5" r="5.1" fill="#a0d048"/>
<circle cx="1569.2" cy="403" r="4.8" fill="#a0d048"/>
<circle cx="1564.9" cy="415.7" r="4.8" fill="#5fc9b4"/>
<circle cx="1574.6" cy="429.4" r="4.8" fill="#f5ea1e"/>
<circle cx="1489.4" cy="421" r="4.8" fill="#a0d048"/>
<circle cx="1500.5" cy="426.4" r="4.8" fill="#4cc0e0"/>
<circle cx="1508.9" cy="423.3" r="4.8" fill="#8fcd62"/>
<circle cx="1524.6" cy="426.4" r="4.8" fill="#3558c0"/>
<circle cx="1487.1" cy="436" r="5.6" fill="#5fc9c0"/>
<circle cx="1497" cy="441.9" r="4.8" fill="#4cc0e8"/>
<circle cx="1506.6" cy="436.3" r="4.8" fill="#3050b8"/>
<circle cx="1515.8" cy="432.2" r="4.8" fill="#50c0d0"/>
<circle cx="1529.2" cy="438.6" r="4.8" fill="#8fcd62"/>
<circle cx="1519.6" cy="447" r="4.8" fill="#a0d048"/>
<circle cx="1507.4" cy="451.3" r="4.8" fill="#a0d048"/>
<circle cx="1511.2" cy="460" r="5.1" fill="#8fcd62"/>
<circle cx="1471.5" cy="455.4" r="4.8" fill="#c0d62a"/>
<circle cx="1599" cy="416.7" r="7.2" fill="#8fcd62"/>
<circle cx="1613.5" cy="429.1" r="5.6" fill="#8fcd62"/>
<circle cx="1590.6" cy="426.8" r="4.4" fill="#a0d048"/>
<circle cx="1599" cy="433.5" r="4.4" fill="#a0d048"/>
<circle cx="1594.4" cy="440.6" r="4.4" fill="#a8d040"/>
<circle cx="1608.5" cy="444.7" r="6.6" fill="#8fcd62"/>
<circle cx="1620.7" cy="445.9" r="4.8" fill="#d0dc28"/>
<circle cx="1599.8" cy="456.9" r="7.2" fill="#8fcd62"/>
<circle cx="1619.6" cy="456.9" r="5.1" fill="#a0d048"/>
<circle cx="1599.8" cy="471.9" r="6" fill="#8fcd62"/>
<circle cx="1613.8" cy="472.2" r="4.6" fill="#ee1c24"/>
</g>
<text transform="translate(1630.6,64.6) scale(0.868,1)" font-size="25" text-anchor="middle" font-weight="bold">Relative CD57 levels</text>
<text transform="translate(1720.3,130.2) scale(0.854,1)" font-size="23.5">Naïve CD4</text>
<text transform="translate(1627,160.3) scale(0.874,1)" font-size="23.5">CD4 TCM</text>
<text transform="translate(1568.6,193.8) scale(0.871,1)" font-size="23.5">CD4 TEM</text>
<text transform="translate(1781.6,180.9) scale(0.849,1)" font-size="23.5">CD4<tspan dy="-8.5" font-size="14.6">+</tspan><tspan dy="8.5" font-size="1">&#8203;</tspan>CD8<tspan dy="-8.5" font-size="14.6">+</tspan><tspan dy="8.5" font-size="1">&#8203;</tspan></text>
<text transform="translate(1374.3,201) scale(0.848,1)" font-size="23.5">CD33<tspan dy="-8.5" font-size="14.6">+</tspan><tspan dy="8.5" font-size="1">&#8203;</tspan>CD11b<tspan dy="-8.5" font-size="14.6">+</tspan><tspan dy="8.5" font-size="1">&#8203;</tspan></text>
<text transform="translate(1851,295.8) scale(0.873,1)" font-size="23.5">CD8 TEMRA</text>
<text transform="translate(1884,343.7) scale(0.858,1)" font-size="23.5">Naïve CD8</text>
<text transform="translate(1908,394.9) scale(0.876,1)" font-size="23.5">CD8 TEM</text>
<text transform="translate(1389.1,496.3) scale(0.864,1)" font-size="23.5">NK Cells</text>
<text transform="translate(1511.2,555.2) scale(0.862,1)" font-size="23.5">B Cells</text>
<text transform="translate(1633.2,526.5) scale(0.855,1)" font-size="23.5">CD4</text>
<text transform="translate(1617.4,550.4) scale(0.861,1)" font-size="23.5">TEMRA</text>
<text transform="translate(1695,566.2) scale(0.870,1)" font-size="23.5">CD8TCM</text>
<text transform="translate(1839,551.9) scale(0.895,1)" font-size="23.5">γd T cells</text>
<line x1="1746.7" y1="137.8" x2="1727.2" y2="260.2" stroke="#111" stroke-width="3.2"/>
<polygon points="1726.1,267.1 1722.7,256.4 1727.2,260.2 1732.6,258" fill="#111"/>
<line x1="1673.4" y1="166.1" x2="1675" y2="203.6" stroke="#111" stroke-width="3.2"/>
<polygon points="1675.3,210.6 1669.9,200.8 1675,203.6 1679.9,200.4" fill="#111"/>
<line x1="1618.4" y1="200.1" x2="1638.9" y2="254.3" stroke="#111" stroke-width="3.2"/>
<polygon points="1641.4,260.8 1633.1,253.3 1638.9,254.3 1642.5,249.7" fill="#111"/>
<line x1="1815.1" y1="187.6" x2="1805.1" y2="205.4" stroke="#111" stroke-width="3.2"/>
<polygon points="1801.7,211.6 1802.2,200.4 1805.1,205.4 1810.9,205.3" fill="#111"/>
<line x1="1457.1" y1="206.8" x2="1476.4" y2="228.3" stroke="#111" stroke-width="3.2"/>
<polygon points="1481,233.6 1470.6,229.4 1476.4,228.3 1478.1,222.8" fill="#111"/>
<line x1="1849.6" y1="293.4" x2="1784.7" y2="345" stroke="#111" stroke-width="3.2"/>
<polygon points="1779.2,349.4 1783.9,339.3 1784.7,345 1790.1,347.1" fill="#111"/>
<line x1="1879.2" y1="337.4" x2="1862.7" y2="339.8" stroke="#111" stroke-width="3.2"/>
<polygon points="1855.8,340.8 1865,334.4 1862.7,339.8 1866.4,344.3" fill="#111"/>
<line x1="1903.2" y1="392.5" x2="1885.2" y2="395.2" stroke="#111" stroke-width="3.2"/>
<polygon points="1878.3,396.3 1887.4,389.8 1885.2,395.2 1888.9,399.7" fill="#111"/>
<line x1="1428.4" y1="471.4" x2="1459.8" y2="451.3" stroke="#111" stroke-width="3.2"/>
<polygon points="1465.7,447.5 1460,457.1 1459.8,451.3 1454.6,448.7" fill="#111"/>
<line x1="1562.4" y1="532.2" x2="1585.9" y2="501" stroke="#111" stroke-width="3.2"/>
<polygon points="1590.1,495.4 1588.1,506.4 1585.9,501 1580.1,500.4" fill="#111"/>
<line x1="1649.5" y1="503.5" x2="1654.4" y2="406.6" stroke="#111" stroke-width="3.2"/>
<polygon points="1654.8,399.6 1659.2,409.9 1654.4,406.6 1649.3,409.4" fill="#111"/>
<line x1="1712.2" y1="543.2" x2="1710.1" y2="488" stroke="#111" stroke-width="3.2"/>
<polygon points="1709.8,481 1715.2,490.8 1710.1,488 1705.2,491.2" fill="#111"/>
<line x1="1837.6" y1="532.2" x2="1824.1" y2="522.5" stroke="#111" stroke-width="3.2"/>
<polygon points="1818.5,518.3 1829.5,520.2 1824.1,522.5 1823.6,528.3" fill="#111"/>
<defs><linearGradient id="cbc" x1="0" x2="1" y1="0" y2="0">
<stop offset="0" stop-color="#2f3f98"/>
<stop offset="0.12" stop-color="#3553a8"/>
<stop offset="0.25" stop-color="#3f8fd6"/>
<stop offset="0.33" stop-color="#48c0e8"/>
<stop offset="0.45" stop-color="#7fcaa0"/>
<stop offset="0.55" stop-color="#a6d05a"/>
<stop offset="0.63" stop-color="#e6e52a"/>
<stop offset="0.68" stop-color="#fbe51f"/>
<stop offset="0.76" stop-color="#f7a020"/>
<stop offset="0.85" stop-color="#ee3a24"/>
<stop offset="0.93" stop-color="#c8202a"/>
<stop offset="1" stop-color="#8b1a1c"/>
</linearGradient></defs>
<rect x="1842.4" y="608.8" width="95.7" height="23" fill="url(#cbc)" stroke="#222" stroke-width="1"/>
<text x="1848.1" y="605.5" font-size="12.5" text-anchor="middle" font-weight="bold">-1.86</text>
<text x="1941.9" y="605.5" font-size="12.5" text-anchor="middle" font-weight="bold">1.86</text>
<text transform="translate(1788.8,655.7) scale(0.803,1)" font-size="23.5">Relative CD57 Expression</text>
<line x1="849.1" y1="87.5" x2="849.1" y2="311.6" stroke="#000" stroke-width="2"/>
<line x1="839.1" y1="310.6" x2="1182.6" y2="310.6" stroke="#000" stroke-width="2"/>
<line x1="839.1" y1="310.6" x2="849.1" y2="310.6" stroke="#000" stroke-width="2"/>
<text x="836.1" y="317.6" font-size="20" text-anchor="end">0</text>
<line x1="839.1" y1="266.2" x2="849.1" y2="266.2" stroke="#000" stroke-width="2"/>
<text x="836.1" y="273.2" font-size="20" text-anchor="end">20</text>
<line x1="839.1" y1="221.7" x2="849.1" y2="221.7" stroke="#000" stroke-width="2"/>
<text x="836.1" y="228.7" font-size="20" text-anchor="end">40</text>
<line x1="839.1" y1="177.3" x2="849.1" y2="177.3" stroke="#000" stroke-width="2"/>
<text x="836.1" y="184.3" font-size="20" text-anchor="end">60</text>
<line x1="839.1" y1="132.9" x2="849.1" y2="132.9" stroke="#000" stroke-width="2"/>
<text x="836.1" y="139.9" font-size="20" text-anchor="end">80</text>
<line x1="839.1" y1="88.5" x2="849.1" y2="88.5" stroke="#000" stroke-width="2"/>
<text x="836.1" y="95.5" font-size="20" text-anchor="end">100</text>
<line x1="849.1" y1="310.6" x2="849.1" y2="319.6" stroke="#000" stroke-width="2"/>
<text x="846.1" y="339.6" font-size="20" text-anchor="middle">0</text>
<line x1="890.6" y1="310.6" x2="890.6" y2="319.6" stroke="#000" stroke-width="2"/>
<text x="890.6" y="339.6" font-size="20" text-anchor="middle">10</text>
<line x1="932.2" y1="310.6" x2="932.2" y2="319.6" stroke="#000" stroke-width="2"/>
<text x="932.2" y="339.6" font-size="20" text-anchor="middle">20</text>
<line x1="973.8" y1="310.6" x2="973.8" y2="319.6" stroke="#000" stroke-width="2"/>
<text x="973.8" y="339.6" font-size="20" text-anchor="middle">30</text>
<line x1="1015.3" y1="310.6" x2="1015.3" y2="319.6" stroke="#000" stroke-width="2"/>
<text x="1015.3" y="339.6" font-size="20" text-anchor="middle">40</text>
<line x1="1056.9" y1="310.6" x2="1056.9" y2="319.6" stroke="#000" stroke-width="2"/>
<text x="1056.9" y="339.6" font-size="20" text-anchor="middle">50</text>
<line x1="1098.5" y1="310.6" x2="1098.5" y2="319.6" stroke="#000" stroke-width="2"/>
<text x="1098.5" y="339.6" font-size="20" text-anchor="middle">60</text>
<line x1="1140" y1="310.6" x2="1140" y2="319.6" stroke="#000" stroke-width="2"/>
<text x="1140" y="339.6" font-size="20" text-anchor="middle">70</text>
<line x1="1181.6" y1="310.6" x2="1181.6" y2="319.6" stroke="#000" stroke-width="2"/>
<text x="1181.6" y="339.6" font-size="20" text-anchor="middle">80</text>
<line x1="849.1" y1="144" x2="1160.8" y2="229.5" stroke="#000" stroke-width="2.4"/>
<circle cx="850.3" cy="110.7" r="4.4" fill="#000"/>
<circle cx="853.2" cy="110.7" r="4.4" fill="#000"/>
<circle cx="854.1" cy="119.6" r="4.4" fill="#000"/>
<circle cx="857.4" cy="130.7" r="4.4" fill="#000"/>
<circle cx="865.7" cy="152.9" r="4.4" fill="#000"/>
<circle cx="886.5" cy="179.5" r="4.4" fill="#000"/>
<circle cx="965.5" cy="197.3" r="4.4" fill="#000"/>
<circle cx="969.6" cy="169.5" r="4.4" fill="#000"/>
<circle cx="982.1" cy="246.2" r="4.4" fill="#000"/>
<circle cx="1007" cy="204" r="4.4" fill="#000"/>
<circle cx="1007" cy="228.4" r="4.4" fill="#000"/>
<circle cx="1015.3" cy="219.5" r="4.4" fill="#000"/>
<circle cx="1090.2" cy="240.6" r="4.4" fill="#000"/>
<circle cx="1094.3" cy="235.1" r="4.4" fill="#000"/>
<circle cx="1102.6" cy="182.9" r="4.4" fill="#000"/>
<circle cx="1111" cy="199.5" r="4.4" fill="#000"/>
<circle cx="1156.7" cy="155.1" r="4.4" fill="#000"/>
<circle cx="911.4" cy="191.8" r="4" fill="#ee3a2c" stroke="#f0655a" stroke-width="1"/>
<circle cx="915.6" cy="224" r="4" fill="#ee3a2c" stroke="#f0655a" stroke-width="1"/>
<circle cx="932.2" cy="258.4" r="4" fill="#ee3a2c" stroke="#f0655a" stroke-width="1"/>
<circle cx="936.4" cy="268.4" r="4" fill="#ee3a2c" stroke="#f0655a" stroke-width="1"/>
<circle cx="940.5" cy="287.3" r="4" fill="#ee3a2c" stroke="#f0655a" stroke-width="1"/>
<circle cx="936.4" cy="296.1" r="4" fill="#ee3a2c" stroke="#f0655a" stroke-width="1"/>
<circle cx="944.7" cy="195.1" r="4" fill="#ee3a2c" stroke="#f0655a" stroke-width="1"/>
<circle cx="977.9" cy="237.3" r="4" fill="#ee3a2c" stroke="#f0655a" stroke-width="1"/>
<circle cx="990.4" cy="259.5" r="4" fill="#ee3a2c" stroke="#f0655a" stroke-width="1"/>
<circle cx="994.6" cy="290.6" r="4" fill="#ee3a2c" stroke="#f0655a" stroke-width="1"/>
<circle cx="1017.4" cy="285" r="4" fill="#ee3a2c" stroke="#f0655a" stroke-width="1"/>
<text transform="translate(1020.4,59.4) scale(0.920,1)" font-size="21" text-anchor="middle">CD4<tspan dy="-7.6" font-size="13">+</tspan><tspan dy="7.6" font-size="1">&#8203;</tspan></text>
<text transform="translate(799.5,212.3) rotate(-90) scale(0.950,1)" font-size="21" text-anchor="middle">% Naive</text>
<text x="1017.7" y="361.6" font-size="23" text-anchor="middle">Age</text>
<circle cx="1168.8" cy="82.2" r="4.2" fill="#000"/>
<text transform="translate(1180.8,88.7) scale(0.930,1)" font-size="20">Control</text>
<circle cx="1168.8" cy="101.8" r="4" fill="#ee3a2c" stroke="#f0655a" stroke-width="1"/>
<text transform="translate(1183.8,108.3) scale(0.930,1)" font-size="20">Patient</text>
<line x1="851.2" y1="423.1" x2="851.2" y2="645.4" stroke="#000" stroke-width="2"/>
<line x1="841.2" y1="644.4" x2="1173.1" y2="644.4" stroke="#000" stroke-width="2"/>
<line x1="841.2" y1="644.4" x2="851.2" y2="644.4" stroke="#000" stroke-width="2"/>
<text x="838.2" y="651.4" font-size="20" text-anchor="end">0</text>
<line x1="841.2" y1="600.4" x2="851.2" y2="600.4" stroke="#000" stroke-width="2"/>
<text x="838.2" y="607.4" font-size="20" text-anchor="end">20</text>
<line x1="841.2" y1="556.3" x2="851.2" y2="556.3" stroke="#000" stroke-width="2"/>
<text x="838.2" y="563.3" font-size="20" text-anchor="end">40</text>
<line x1="841.2" y1="512.3" x2="851.2" y2="512.3" stroke="#000" stroke-width="2"/>
<text x="838.2" y="519.3" font-size="20" text-anchor="end">60</text>
<line x1="841.2" y1="468.2" x2="851.2" y2="468.2" stroke="#000" stroke-width="2"/>
<text x="838.2" y="475.2" font-size="20" text-anchor="end">80</text>
<line x1="841.2" y1="424.1" x2="851.2" y2="424.1" stroke="#000" stroke-width="2"/>
<text x="838.2" y="431.1" font-size="20" text-anchor="end">100</text>
<line x1="851.2" y1="644.4" x2="851.2" y2="653.4" stroke="#000" stroke-width="2"/>
<text x="848.2" y="673.4" font-size="20" text-anchor="middle">0</text>
<line x1="891.3" y1="644.4" x2="891.3" y2="653.4" stroke="#000" stroke-width="2"/>
<text x="891.3" y="673.4" font-size="20" text-anchor="middle">10</text>
<line x1="931.4" y1="644.4" x2="931.4" y2="653.4" stroke="#000" stroke-width="2"/>
<text x="931.4" y="673.4" font-size="20" text-anchor="middle">20</text>
<line x1="971.5" y1="644.4" x2="971.5" y2="653.4" stroke="#000" stroke-width="2"/>
<text x="971.5" y="673.4" font-size="20" text-anchor="middle">30</text>
<line x1="1011.6" y1="644.4" x2="1011.6" y2="653.4" stroke="#000" stroke-width="2"/>
<text x="1011.6" y="673.4" font-size="20" text-anchor="middle">40</text>
<line x1="1051.8" y1="644.4" x2="1051.8" y2="653.4" stroke="#000" stroke-width="2"/>
<text x="1051.8" y="673.4" font-size="20" text-anchor="middle">50</text>
<line x1="1091.9" y1="644.4" x2="1091.9" y2="653.4" stroke="#000" stroke-width="2"/>
<text x="1091.9" y="673.4" font-size="20" text-anchor="middle">60</text>
<line x1="1132" y1="644.4" x2="1132" y2="653.4" stroke="#000" stroke-width="2"/>
<text x="1132" y="673.4" font-size="20" text-anchor="middle">70</text>
<line x1="1172.1" y1="644.4" x2="1172.1" y2="653.4" stroke="#000" stroke-width="2"/>
<text x="1172.1" y="673.4" font-size="20" text-anchor="middle">80</text>
<line x1="851.2" y1="449.5" x2="1148" y2="609.2" stroke="#000" stroke-width="2.4"/>
<circle cx="851.2" cy="439.6" r="4.4" fill="#000"/>
<circle cx="853.2" cy="437.4" r="4.4" fill="#000"/>
<circle cx="855.2" cy="446.2" r="4.4" fill="#000"/>
<circle cx="859.2" cy="448.4" r="4.4" fill="#000"/>
<circle cx="867.2" cy="455" r="4.4" fill="#000"/>
<circle cx="887.3" cy="468.2" r="4.4" fill="#000"/>
<circle cx="911.3" cy="470.4" r="4.4" fill="#000"/>
<circle cx="963.5" cy="504.5" r="4.4" fill="#000"/>
<circle cx="967.5" cy="489.1" r="4.4" fill="#000"/>
<circle cx="979.5" cy="548.6" r="4.4" fill="#000"/>
<circle cx="1003.6" cy="556.3" r="4.4" fill="#000"/>
<circle cx="1007.6" cy="602.6" r="4.4" fill="#000"/>
<circle cx="1083.8" cy="573.9" r="4.4" fill="#000"/>
<circle cx="1087.9" cy="610.3" r="4.4" fill="#000"/>
<circle cx="1095.9" cy="565.1" r="4.4" fill="#000"/>
<circle cx="1103.9" cy="525.5" r="4.4" fill="#000"/>
<circle cx="1148" cy="594.9" r="4.4" fill="#000"/>
<circle cx="909.3" cy="609.2" r="4" fill="#ee3a2c" stroke="#f0655a" stroke-width="1"/>
<circle cx="913.3" cy="609.2" r="4" fill="#ee3a2c" stroke="#f0655a" stroke-width="1"/>
<circle cx="927.4" cy="620.2" r="4" fill="#ee3a2c" stroke="#f0655a" stroke-width="1"/>
<circle cx="931.4" cy="598.2" r="4" fill="#ee3a2c" stroke="#f0655a" stroke-width="1"/>
<circle cx="939.4" cy="598.2" r="4" fill="#ee3a2c" stroke="#f0655a" stroke-width="1"/>
<circle cx="935.4" cy="638.9" r="4" fill="#ee3a2c" stroke="#f0655a" stroke-width="1"/>
<circle cx="951.5" cy="605.9" r="4" fill="#ee3a2c" stroke="#f0655a" stroke-width="1"/>
<circle cx="975.5" cy="634.5" r="4" fill="#ee3a2c" stroke="#f0655a" stroke-width="1"/>
<circle cx="987.6" cy="634.5" r="4" fill="#ee3a2c" stroke="#f0655a" stroke-width="1"/>
<circle cx="993.6" cy="632.3" r="4" fill="#ee3a2c" stroke="#f0655a" stroke-width="1"/>
<circle cx="1013.6" cy="627.9" r="4" fill="#ee3a2c" stroke="#f0655a" stroke-width="1"/>
<text transform="translate(1013.9,417.9) scale(0.920,1)" font-size="21" text-anchor="middle">CD8<tspan dy="-7.6" font-size="13">+</tspan><tspan dy="7.6" font-size="1">&#8203;</tspan></text>
<text transform="translate(806,548.5) rotate(-90) scale(0.950,1)" font-size="21" text-anchor="middle">% Naive</text>
<text x="1013.3" y="701.4" font-size="23" text-anchor="middle">Age</text>
<circle cx="1168.8" cy="424.7" r="4.2" fill="#000"/>
<text transform="translate(1180.8,431.2) scale(0.930,1)" font-size="20">Control</text>
<circle cx="1168.8" cy="446.1" r="4" fill="#ee3a2c" stroke="#f0655a" stroke-width="1"/>
<text transform="translate(1183.8,452.6) scale(0.930,1)" font-size="20">Patient</text>
<rect x="147.7" y="1029.4" width="51.5" height="29.8" fill="#000"/>
<rect x="219.4" y="993.5" width="51.3" height="65.8" fill="#ee2c24"/>
<line x1="173.5" y1="1009.2" x2="173.5" y2="1053.7" stroke="#c0c0c0" stroke-width="1.9"/>
<line x1="160.5" y1="1009.2" x2="186.5" y2="1009.2" stroke="#c0c0c0" stroke-width="1.9"/>
<line x1="160.5" y1="1053.7" x2="186.5" y2="1053.7" stroke="#c0c0c0" stroke-width="1.9"/>
<line x1="245.1" y1="965.4" x2="245.1" y2="1026" stroke="#c0c0c0" stroke-width="1.9"/>
<line x1="232.1" y1="965.4" x2="258.1" y2="965.4" stroke="#c0c0c0" stroke-width="1.9"/>
<line x1="232.1" y1="1026" x2="258.1" y2="1026" stroke="#c0c0c0" stroke-width="1.9"/>
<line x1="125.6" y1="807.1" x2="125.6" y2="1060.4" stroke="#000" stroke-width="2.3"/>
<line x1="115.6" y1="1059.2" x2="292.5" y2="1059.2" stroke="#000" stroke-width="2.3"/>
<line x1="115.6" y1="1059.2" x2="125.6" y2="1059.2" stroke="#000" stroke-width="2.3"/>
<text transform="translate(108.6,1066.6) scale(1.050,1)" font-size="20.5" text-anchor="end">0</text>
<line x1="115.6" y1="1009" x2="125.6" y2="1009" stroke="#000" stroke-width="2.3"/>
<text transform="translate(108.6,1016.4) scale(1.050,1)" font-size="20.5" text-anchor="end">20</text>
<line x1="115.6" y1="958.8" x2="125.6" y2="958.8" stroke="#000" stroke-width="2.3"/>
<text transform="translate(108.6,966.2) scale(1.050,1)" font-size="20.5" text-anchor="end">40</text>
<line x1="115.6" y1="908.7" x2="125.6" y2="908.7" stroke="#000" stroke-width="2.3"/>
<text transform="translate(108.6,916) scale(1.050,1)" font-size="20.5" text-anchor="end">60</text>
<line x1="115.6" y1="858.5" x2="125.6" y2="858.5" stroke="#000" stroke-width="2.3"/>
<text transform="translate(108.6,865.8) scale(1.050,1)" font-size="20.5" text-anchor="end">80</text>
<line x1="115.6" y1="808.3" x2="125.6" y2="808.3" stroke="#000" stroke-width="2.3"/>
<text transform="translate(108.6,815.6) scale(1.050,1)" font-size="20.5" text-anchor="end">100</text>
<line x1="173.5" y1="1059.2" x2="173.5" y2="1069.2" stroke="#000" stroke-width="2.3"/>
<text transform="translate(175.5,1083.2) scale(1.100,1) rotate(-45) scale(1.000,1)" font-size="21" text-anchor="end">Control</text>
<line x1="245.1" y1="1059.2" x2="245.1" y2="1069.2" stroke="#000" stroke-width="2.3"/>
<text transform="translate(247.1,1083.2) scale(1.100,1) rotate(-45) scale(1.000,1)" font-size="21" text-anchor="end">Patient</text>
<circle cx="168.1" cy="992.5" r="2.6" fill="#fff" stroke="#000" stroke-width="1.2"/>
<circle cx="178.5" cy="992.5" r="2.6" fill="#fff" stroke="#000" stroke-width="1.2"/>
<circle cx="173.3" cy="1014" r="2.6" fill="#fff" stroke="#000" stroke-width="1.2"/>
<circle cx="162.7" cy="1034.8" r="2.6" fill="#fff" stroke="#000" stroke-width="1.2"/>
<circle cx="162.7" cy="1042.3" r="2.6" fill="#fff" stroke="#000" stroke-width="1.2"/>
<circle cx="152.1" cy="1043.5" r="2.6" fill="#fff" stroke="#000" stroke-width="1.2"/>
<circle cx="173.3" cy="1046.2" r="2.6" fill="#fff" stroke="#000" stroke-width="1.2"/>
<circle cx="183.8" cy="1042.3" r="2.6" fill="#fff" stroke="#000" stroke-width="1.2"/>
<circle cx="194.4" cy="1038.7" r="2.6" fill="#fff" stroke="#000" stroke-width="1.2"/>
<circle cx="194.4" cy="1045.8" r="2.6" fill="#fff" stroke="#000" stroke-width="1.2"/>
<circle cx="173.3" cy="1056" r="2.6" fill="#fff" stroke="#000" stroke-width="1.2"/>
<circle cx="235" cy="952.1" r="2.6" fill="#fff" stroke="#000" stroke-width="1.2"/>
<circle cx="245" cy="959.6" r="2.6" fill="#fff" stroke="#000" stroke-width="1.2"/>
<circle cx="255" cy="956.3" r="2.6" fill="#fff" stroke="#000" stroke-width="1.2"/>
<circle cx="245" cy="975" r="2.6" fill="#fff" stroke="#000" stroke-width="1.2"/>
<circle cx="240" cy="997.7" r="2.6" fill="#fff" stroke="#000" stroke-width="1.2"/>
<circle cx="250" cy="999.6" r="2.6" fill="#fff" stroke="#000" stroke-width="1.2"/>
<circle cx="245" cy="1007.9" r="2.6" fill="#fff" stroke="#000" stroke-width="1.2"/>
<circle cx="245" cy="1017.9" r="2.6" fill="#fff" stroke="#000" stroke-width="1.2"/>
<circle cx="235" cy="1026.3" r="2.6" fill="#fff" stroke="#000" stroke-width="1.2"/>
<circle cx="245" cy="1026" r="2.6" fill="#fff" stroke="#000" stroke-width="1.2"/>
<circle cx="255" cy="1026" r="2.6" fill="#fff" stroke="#000" stroke-width="1.2"/>
<text transform="translate(206.9,773.1) scale(1.080,1)" font-size="23" text-anchor="middle">CD4<tspan dy="-8.3" font-size="14.3">+</tspan><tspan dy="8.3" font-size="1">&#8203;</tspan> CD57<tspan dy="-8.3" font-size="14.3">+</tspan><tspan dy="8.3" font-size="1">&#8203;</tspan></text>
<text transform="translate(69,932.3) rotate(-90) scale(1.080,1)" font-size="23" text-anchor="middle">% CD4<tspan dy="-8.3" font-size="14.3">+</tspan><tspan dy="8.3" font-size="1">&#8203;</tspan> CD57<tspan dy="-8.3" font-size="14.3">+</tspan><tspan dy="8.3" font-size="1">&#8203;</tspan></text>
<text transform="translate(212.7,900.6) scale(1.120,1)" font-size="20.5" text-anchor="middle">p = 0.0034</text>
<line x1="176.2" y1="911.2" x2="248.3" y2="911.2" stroke="#000" stroke-width="2.4"/>
<rect x="549.2" y="966.9" width="49.4" height="98.1" fill="#000"/>
<rect x="616.9" y="918.3" width="49.4" height="146.7" fill="#ed1c24"/>
<line x1="573.9" y1="927.5" x2="573.9" y2="1009.2" stroke="#c0c0c0" stroke-width="1.9"/>
<line x1="560.9" y1="927.5" x2="586.9" y2="927.5" stroke="#c0c0c0" stroke-width="1.9"/>
<line x1="560.9" y1="1009.2" x2="586.9" y2="1009.2" stroke="#c0c0c0" stroke-width="1.9"/>
<line x1="641.6" y1="855" x2="641.6" y2="985.2" stroke="#c0c0c0" stroke-width="1.9"/>
<line x1="628.6" y1="855" x2="654.6" y2="855" stroke="#c0c0c0" stroke-width="1.9"/>
<line x1="628.6" y1="985.2" x2="654.6" y2="985.2" stroke="#c0c0c0" stroke-width="1.9"/>
<line x1="528.8" y1="806.5" x2="528.8" y2="1066.2" stroke="#000" stroke-width="2.3"/>
<line x1="518.8" y1="1065" x2="687.7" y2="1065" stroke="#000" stroke-width="2.3"/>
<line x1="518.8" y1="1065" x2="528.8" y2="1065" stroke="#000" stroke-width="2.3"/>
<text transform="translate(511.8,1072.4) scale(1.050,1)" font-size="20.5" text-anchor="end">0</text>
<line x1="518.8" y1="1013.5" x2="528.8" y2="1013.5" stroke="#000" stroke-width="2.3"/>
<text transform="translate(511.8,1020.9) scale(1.050,1)" font-size="20.5" text-anchor="end">200</text>
<line x1="518.8" y1="962.1" x2="528.8" y2="962.1" stroke="#000" stroke-width="2.3"/>
<text transform="translate(511.8,969.5) scale(1.050,1)" font-size="20.5" text-anchor="end">400</text>
<line x1="518.8" y1="910.6" x2="528.8" y2="910.6" stroke="#000" stroke-width="2.3"/>
<text transform="translate(511.8,918) scale(1.050,1)" font-size="20.5" text-anchor="end">600</text>
<line x1="518.8" y1="859.2" x2="528.8" y2="859.2" stroke="#000" stroke-width="2.3"/>
<text transform="translate(511.8,866.5) scale(1.050,1)" font-size="20.5" text-anchor="end">800</text>
<line x1="518.8" y1="807.7" x2="528.8" y2="807.7" stroke="#000" stroke-width="2.3"/>
<text transform="translate(511.8,815.1) scale(1.050,1)" font-size="20.5" text-anchor="end">1000</text>
<line x1="573.9" y1="1065" x2="573.9" y2="1075" stroke="#000" stroke-width="2.3"/>
<text transform="translate(577.9,1089) scale(1.100,1) rotate(-45) scale(1.000,1)" font-size="21" text-anchor="end">Control</text>
<line x1="641.6" y1="1065" x2="641.6" y2="1075" stroke="#000" stroke-width="2.3"/>
<text transform="translate(645.6,1089) scale(1.100,1) rotate(-45) scale(1.000,1)" font-size="21" text-anchor="end">Patient</text>
<circle cx="564" cy="928.1" r="2.6" fill="#fff" stroke="#000" stroke-width="1.2"/>
<circle cx="573.7" cy="932.3" r="2.6" fill="#fff" stroke="#000" stroke-width="1.2"/>
<circle cx="583.3" cy="932.3" r="2.6" fill="#fff" stroke="#000" stroke-width="1.2"/>
<circle cx="568.8" cy="963.1" r="2.6" fill="#fff" stroke="#000" stroke-width="1.2"/>
<circle cx="578.5" cy="963.1" r="2.6" fill="#fff" stroke="#000" stroke-width="1.2"/>
<circle cx="573.7" cy="971.7" r="2.6" fill="#fff" stroke="#000" stroke-width="1.2"/>
<circle cx="568.8" cy="1028.8" r="2.6" fill="#fff" stroke="#000" stroke-width="1.2"/>
<circle cx="578.5" cy="1028.8" r="2.6" fill="#fff" stroke="#000" stroke-width="1.2"/>
<circle cx="631.9" cy="872.7" r="2.6" fill="#fff" stroke="#000" stroke-width="1.2"/>
<circle cx="631.9" cy="880.4" r="2.6" fill="#fff" stroke="#000" stroke-width="1.2"/>
<circle cx="641.9" cy="876.9" r="2.6" fill="#fff" stroke="#000" stroke-width="1.2"/>
<circle cx="651.5" cy="876.9" r="2.6" fill="#fff" stroke="#000" stroke-width="1.2"/>
<circle cx="641.9" cy="894.2" r="2.6" fill="#fff" stroke="#000" stroke-width="1.2"/>
<circle cx="641.9" cy="913.1" r="2.6" fill="#fff" stroke="#000" stroke-width="1.2"/>
<circle cx="637.1" cy="1024.6" r="2.6" fill="#fff" stroke="#000" stroke-width="1.2"/>
<circle cx="646.7" cy="1022.3" r="2.6" fill="#fff" stroke="#000" stroke-width="1.2"/>
<text transform="translate(607.3,775.6) scale(1.080,1)" font-size="23" text-anchor="middle">CD4<tspan dy="-8.3" font-size="14.3">+</tspan><tspan dy="8.3" font-size="1">&#8203;</tspan> SA-β-gal</text>
<text transform="translate(433.8,934.6) rotate(-90) scale(1.080,1)" font-size="18.3" text-anchor="middle">MFI of CellEvent Senescence</text>
<text transform="translate(457.7,934.6) rotate(-90) scale(1.080,1)" font-size="18.3" text-anchor="middle">Green probe</text>
<text transform="translate(610.8,816) scale(1.120,1)" font-size="17.2" text-anchor="middle">n.s.</text>
<line x1="576.2" y1="823.3" x2="641.5" y2="823.3" stroke="#000" stroke-width="2.4"/>
<rect x="909.2" y="1025.3" width="49.7" height="34.9" fill="#000"/>
<rect x="977.8" y="993" width="49.5" height="67.2" fill="#ee2c24"/>
<line x1="934" y1="1015" x2="934" y2="1038.8" stroke="#c0c0c0" stroke-width="1.9"/>
<line x1="921" y1="1015" x2="947" y2="1015" stroke="#c0c0c0" stroke-width="1.9"/>
<line x1="921" y1="1038.8" x2="947" y2="1038.8" stroke="#c0c0c0" stroke-width="1.9"/>
<line x1="1002.6" y1="960.7" x2="1002.6" y2="1028.7" stroke="#c0c0c0" stroke-width="1.9"/>
<line x1="989.6" y1="960.7" x2="1015.6" y2="960.7" stroke="#c0c0c0" stroke-width="1.9"/>
<line x1="989.6" y1="1028.7" x2="1015.6" y2="1028.7" stroke="#c0c0c0" stroke-width="1.9"/>
<line x1="888.6" y1="799.4" x2="888.6" y2="1061.4" stroke="#000" stroke-width="2.3"/>
<line x1="878.6" y1="1060.2" x2="1048.1" y2="1060.2" stroke="#000" stroke-width="2.3"/>
<line x1="878.6" y1="1060.2" x2="888.6" y2="1060.2" stroke="#000" stroke-width="2.3"/>
<text transform="translate(871.6,1067.6) scale(1.050,1)" font-size="20.5" text-anchor="end">0</text>
<line x1="878.6" y1="1008.3" x2="888.6" y2="1008.3" stroke="#000" stroke-width="2.3"/>
<text transform="translate(871.6,1015.7) scale(1.050,1)" font-size="20.5" text-anchor="end">20</text>
<line x1="878.6" y1="956.4" x2="888.6" y2="956.4" stroke="#000" stroke-width="2.3"/>
<text transform="translate(871.6,963.7) scale(1.050,1)" font-size="20.5" text-anchor="end">40</text>
<line x1="878.6" y1="904.4" x2="888.6" y2="904.4" stroke="#000" stroke-width="2.3"/>
<text transform="translate(871.6,911.8) scale(1.050,1)" font-size="20.5" text-anchor="end">60</text>
<line x1="878.6" y1="852.5" x2="888.6" y2="852.5" stroke="#000" stroke-width="2.3"/>
<text transform="translate(871.6,859.9) scale(1.050,1)" font-size="20.5" text-anchor="end">80</text>
<line x1="878.6" y1="800.6" x2="888.6" y2="800.6" stroke="#000" stroke-width="2.3"/>
<text transform="translate(871.6,808) scale(1.050,1)" font-size="20.5" text-anchor="end">100</text>
<line x1="934" y1="1060.2" x2="934" y2="1070.2" stroke="#000" stroke-width="2.3"/>
<text transform="translate(940,1084.2) scale(1.100,1) rotate(-45) scale(1.000,1)" font-size="21" text-anchor="end">Control</text>
<line x1="1002.6" y1="1060.2" x2="1002.6" y2="1070.2" stroke="#000" stroke-width="2.3"/>
<text transform="translate(1008.6,1084.2) scale(1.100,1) rotate(-45) scale(1.000,1)" font-size="21" text-anchor="end">Patient</text>
<circle cx="919.3" cy="1017.8" r="2.6" fill="#fff" stroke="#000" stroke-width="1.2"/>
<circle cx="929" cy="1014.6" r="2.6" fill="#fff" stroke="#000" stroke-width="1.2"/>
<circle cx="938.7" cy="1015.6" r="2.6" fill="#fff" stroke="#000" stroke-width="1.2"/>
<circle cx="948.1" cy="1015.6" r="2.6" fill="#fff" stroke="#000" stroke-width="1.2"/>
<circle cx="938.7" cy="1021" r="2.6" fill="#fff" stroke="#000" stroke-width="1.2"/>
<circle cx="948.1" cy="1021" r="2.6" fill="#fff" stroke="#000" stroke-width="1.2"/>
<circle cx="933.6" cy="1031.3" r="2.6" fill="#fff" stroke="#000" stroke-width="1.2"/>
<circle cx="919.3" cy="1036.8" r="2.6" fill="#fff" stroke="#000" stroke-width="1.2"/>
<circle cx="919.3" cy="1042.9" r="2.6" fill="#fff" stroke="#000" stroke-width="1.2"/>
<circle cx="938.7" cy="1042.9" r="2.6" fill="#fff" stroke="#000" stroke-width="1.2"/>
<circle cx="948.1" cy="1041.2" r="2.6" fill="#fff" stroke="#000" stroke-width="1.2"/>
<circle cx="1002.7" cy="940.7" r="2.6" fill="#fff" stroke="#000" stroke-width="1.2"/>
<circle cx="1002.7" cy="956" r="2.6" fill="#fff" stroke="#000" stroke-width="1.2"/>
<circle cx="998" cy="969.8" r="2.6" fill="#fff" stroke="#000" stroke-width="1.2"/>
<circle cx="1007.7" cy="971.8" r="2.6" fill="#fff" stroke="#000" stroke-width="1.2"/>
<circle cx="1002.7" cy="994" r="2.6" fill="#fff" stroke="#000" stroke-width="1.2"/>
<circle cx="993" cy="997.8" r="2.6" fill="#fff" stroke="#000" stroke-width="1.2"/>
<circle cx="1012.1" cy="995.4" r="2.6" fill="#fff" stroke="#000" stroke-width="1.2"/>
<circle cx="1002.7" cy="1005.1" r="2.6" fill="#fff" stroke="#000" stroke-width="1.2"/>
<circle cx="1002.7" cy="1030.7" r="2.6" fill="#fff" stroke="#000" stroke-width="1.2"/>
<circle cx="1002.7" cy="1036.8" r="2.6" fill="#fff" stroke="#000" stroke-width="1.2"/>
<circle cx="1002.7" cy="1047.3" r="2.6" fill="#fff" stroke="#000" stroke-width="1.2"/>
<text transform="translate(965.3,773.3) scale(1.080,1)" font-size="23" text-anchor="middle">CD4<tspan dy="-8.3" font-size="14.3">+</tspan><tspan dy="8.3" font-size="1">&#8203;</tspan> KLRG1<tspan dy="-8.3" font-size="14.3">+</tspan><tspan dy="8.3" font-size="1">&#8203;</tspan></text>
<text transform="translate(831,932.8) rotate(-90) scale(1.080,1)" font-size="23" text-anchor="middle">% CD4<tspan dy="-8.3" font-size="14.3">+</tspan><tspan dy="8.3" font-size="1">&#8203;</tspan> KLRG1<tspan dy="-8.3" font-size="14.3">+</tspan><tspan dy="8.3" font-size="1">&#8203;</tspan></text>
<text transform="translate(970.4,908.6) scale(1.120,1)" font-size="20.5" text-anchor="middle">p = 0.0075</text>
<line x1="934" y1="917.7" x2="1004.3" y2="917.7" stroke="#000" stroke-width="2.4"/>
<rect x="1193.3" y="1015.6" width="48.5" height="47.4" fill="#000"/>
<rect x="1261" y="965.7" width="48.5" height="97.3" fill="#ee2c24"/>
<line x1="1217.6" y1="993.4" x2="1217.6" y2="1040.2" stroke="#c0c0c0" stroke-width="1.9"/>
<line x1="1204.6" y1="993.4" x2="1230.6" y2="993.4" stroke="#c0c0c0" stroke-width="1.9"/>
<line x1="1204.6" y1="1040.2" x2="1230.6" y2="1040.2" stroke="#c0c0c0" stroke-width="1.9"/>
<line x1="1285.2" y1="907" x2="1285.2" y2="1027.7" stroke="#c0c0c0" stroke-width="1.9"/>
<line x1="1272.2" y1="907" x2="1298.2" y2="907" stroke="#c0c0c0" stroke-width="1.9"/>
<line x1="1272.2" y1="1027.7" x2="1298.2" y2="1027.7" stroke="#c0c0c0" stroke-width="1.9"/>
<line x1="1173.2" y1="799.8" x2="1173.2" y2="1064.2" stroke="#000" stroke-width="2.3"/>
<line x1="1163.2" y1="1063" x2="1329.6" y2="1063" stroke="#000" stroke-width="2.3"/>
<line x1="1163.2" y1="1063" x2="1173.2" y2="1063" stroke="#000" stroke-width="2.3"/>
<text transform="translate(1156.2,1070.4) scale(1.050,1)" font-size="20.5" text-anchor="end">0</text>
<line x1="1163.2" y1="1010.6" x2="1173.2" y2="1010.6" stroke="#000" stroke-width="2.3"/>
<text transform="translate(1156.2,1018) scale(1.050,1)" font-size="20.5" text-anchor="end">20</text>
<line x1="1163.2" y1="958.2" x2="1173.2" y2="958.2" stroke="#000" stroke-width="2.3"/>
<text transform="translate(1156.2,965.6) scale(1.050,1)" font-size="20.5" text-anchor="end">40</text>
<line x1="1163.2" y1="905.8" x2="1173.2" y2="905.8" stroke="#000" stroke-width="2.3"/>
<text transform="translate(1156.2,913.2) scale(1.050,1)" font-size="20.5" text-anchor="end">60</text>
<line x1="1163.2" y1="853.4" x2="1173.2" y2="853.4" stroke="#000" stroke-width="2.3"/>
<text transform="translate(1156.2,860.8) scale(1.050,1)" font-size="20.5" text-anchor="end">80</text>
<line x1="1163.2" y1="801" x2="1173.2" y2="801" stroke="#000" stroke-width="2.3"/>
<text transform="translate(1156.2,808.4) scale(1.050,1)" font-size="20.5" text-anchor="end">100</text>
<line x1="1217.6" y1="1063" x2="1217.6" y2="1073" stroke="#000" stroke-width="2.3"/>
<text transform="translate(1219.6,1087) scale(1.100,1) rotate(-45) scale(1.000,1)" font-size="21" text-anchor="end">Control</text>
<line x1="1285.2" y1="1063" x2="1285.2" y2="1073" stroke="#000" stroke-width="2.3"/>
<text transform="translate(1287.2,1087) scale(1.100,1) rotate(-45) scale(1.000,1)" font-size="21" text-anchor="end">Patient</text>
<circle cx="1208.1" cy="990.4" r="2.6" fill="#fff" stroke="#000" stroke-width="1.2"/>
<circle cx="1217.6" cy="990.4" r="2.6" fill="#fff" stroke="#000" stroke-width="1.2"/>
<circle cx="1227.1" cy="990.4" r="2.6" fill="#fff" stroke="#000" stroke-width="1.2"/>
<circle cx="1217.6" cy="998.4" r="2.6" fill="#fff" stroke="#000" stroke-width="1.2"/>
<circle cx="1227.1" cy="1009.5" r="2.6" fill="#fff" stroke="#000" stroke-width="1.2"/>
<circle cx="1217.6" cy="1013" r="2.6" fill="#fff" stroke="#000" stroke-width="1.2"/>
<circle cx="1212.9" cy="1028.1" r="2.6" fill="#fff" stroke="#000" stroke-width="1.2"/>
<circle cx="1222.2" cy="1028.1" r="2.6" fill="#fff" stroke="#000" stroke-width="1.2"/>
<circle cx="1208.1" cy="1048.5" r="2.6" fill="#fff" stroke="#000" stroke-width="1.2"/>
<circle cx="1217.6" cy="1044.9" r="2.6" fill="#fff" stroke="#000" stroke-width="1.2"/>
<circle cx="1227.1" cy="1044.9" r="2.6" fill="#fff" stroke="#000" stroke-width="1.2"/>
<circle cx="1285.2" cy="821.2" r="2.6" fill="#fff" stroke="#000" stroke-width="1.2"/>
<circle cx="1285.2" cy="925.7" r="2.6" fill="#fff" stroke="#000" stroke-width="1.2"/>
<circle cx="1285.2" cy="933.8" r="2.6" fill="#fff" stroke="#000" stroke-width="1.2"/>
<circle cx="1280.6" cy="964.7" r="2.6" fill="#fff" stroke="#000" stroke-width="1.2"/>
<circle cx="1290.3" cy="963.5" r="2.6" fill="#fff" stroke="#000" stroke-width="1.2"/>
<circle cx="1285.2" cy="974.2" r="2.6" fill="#fff" stroke="#000" stroke-width="1.2"/>
<circle cx="1285.2" cy="986.7" r="2.6" fill="#fff" stroke="#000" stroke-width="1.2"/>
<circle cx="1285.2" cy="992.8" r="2.6" fill="#fff" stroke="#000" stroke-width="1.2"/>
<circle cx="1285.2" cy="1006.9" r="2.6" fill="#fff" stroke="#000" stroke-width="1.2"/>
<circle cx="1285.2" cy="1032.8" r="2.6" fill="#fff" stroke="#000" stroke-width="1.2"/>
<circle cx="1285.2" cy="1040.8" r="2.6" fill="#fff" stroke="#000" stroke-width="1.2"/>
<text transform="translate(1245.8,772.3) scale(1.080,1)" font-size="23" text-anchor="middle">CD8<tspan dy="-8.3" font-size="14.3">+</tspan><tspan dy="8.3" font-size="1">&#8203;</tspan> KLRG1<tspan dy="-8.3" font-size="14.3">+</tspan><tspan dy="8.3" font-size="1">&#8203;</tspan></text>
<text transform="translate(1114.6,932.8) rotate(-90) scale(1.080,1)" font-size="23" text-anchor="middle">% CD8<tspan dy="-8.3" font-size="14.3">+</tspan><tspan dy="8.3" font-size="1">&#8203;</tspan> KLRG1<tspan dy="-8.3" font-size="14.3">+</tspan><tspan dy="8.3" font-size="1">&#8203;</tspan></text>
<text transform="translate(1250.9,802.6) scale(1.120,1)" font-size="20.5" text-anchor="middle">p = 0.0199</text>
<line x1="1215.6" y1="810.1" x2="1285.2" y2="810.1" stroke="#000" stroke-width="2.4"/>
<rect x="1542.9" y="885" width="50.5" height="179.7" fill="#000"/>
<rect x="1613.6" y="938.3" width="50.5" height="126.4" fill="#ed1c24"/>
<line x1="1568.2" y1="831.9" x2="1568.2" y2="941.5" stroke="#c0c0c0" stroke-width="1.9"/>
<line x1="1555.2" y1="831.9" x2="1581.2" y2="831.9" stroke="#c0c0c0" stroke-width="1.9"/>
<line x1="1555.2" y1="941.5" x2="1581.2" y2="941.5" stroke="#c0c0c0" stroke-width="1.9"/>
<line x1="1638.8" y1="895.5" x2="1638.8" y2="984.3" stroke="#c0c0c0" stroke-width="1.9"/>
<line x1="1625.8" y1="895.5" x2="1651.8" y2="895.5" stroke="#c0c0c0" stroke-width="1.9"/>
<line x1="1625.8" y1="984.3" x2="1651.8" y2="984.3" stroke="#c0c0c0" stroke-width="1.9"/>
<line x1="1521.1" y1="803.1" x2="1521.1" y2="1065.8" stroke="#000" stroke-width="2.3"/>
<line x1="1511.1" y1="1064.7" x2="1685.7" y2="1064.7" stroke="#000" stroke-width="2.3"/>
<line x1="1511.1" y1="1064.7" x2="1521.1" y2="1064.7" stroke="#000" stroke-width="2.3"/>
<text transform="translate(1504.1,1072) scale(1.050,1)" font-size="20.5" text-anchor="end">0</text>
<line x1="1511.1" y1="1012.6" x2="1521.1" y2="1012.6" stroke="#000" stroke-width="2.3"/>
<text transform="translate(1504.1,1019.9) scale(1.050,1)" font-size="20.5" text-anchor="end">20</text>
<line x1="1511.1" y1="960.5" x2="1521.1" y2="960.5" stroke="#000" stroke-width="2.3"/>
<text transform="translate(1504.1,967.9) scale(1.050,1)" font-size="20.5" text-anchor="end">40</text>
<line x1="1511.1" y1="908.4" x2="1521.1" y2="908.4" stroke="#000" stroke-width="2.3"/>
<text transform="translate(1504.1,915.8) scale(1.050,1)" font-size="20.5" text-anchor="end">60</text>
<line x1="1511.1" y1="856.3" x2="1521.1" y2="856.3" stroke="#000" stroke-width="2.3"/>
<text transform="translate(1504.1,863.7) scale(1.050,1)" font-size="20.5" text-anchor="end">80</text>
<line x1="1511.1" y1="804.2" x2="1521.1" y2="804.2" stroke="#000" stroke-width="2.3"/>
<text transform="translate(1504.1,811.6) scale(1.050,1)" font-size="20.5" text-anchor="end">100</text>
<line x1="1568.2" y1="1064.7" x2="1568.2" y2="1074.7" stroke="#000" stroke-width="2.3"/>
<text transform="translate(1572.2,1088.7) scale(1.100,1) rotate(-45) scale(1.000,1)" font-size="21" text-anchor="end">Control</text>
<line x1="1638.8" y1="1064.7" x2="1638.8" y2="1074.7" stroke="#000" stroke-width="2.3"/>
<text transform="translate(1642.8,1088.7) scale(1.100,1) rotate(-45) scale(1.000,1)" font-size="21" text-anchor="end">Patient</text>
<circle cx="1568" cy="844.2" r="2.6" fill="#fff" stroke="#000" stroke-width="1.2"/>
<circle cx="1558.1" cy="851.4" r="2.6" fill="#fff" stroke="#000" stroke-width="1.2"/>
<circle cx="1568" cy="851.4" r="2.6" fill="#fff" stroke="#000" stroke-width="1.2"/>
<circle cx="1577.7" cy="851.4" r="2.6" fill="#fff" stroke="#000" stroke-width="1.2"/>
<circle cx="1553" cy="875.9" r="2.6" fill="#fff" stroke="#000" stroke-width="1.2"/>
<circle cx="1562.9" cy="871.6" r="2.6" fill="#fff" stroke="#000" stroke-width="1.2"/>
<circle cx="1562.9" cy="877.3" r="2.6" fill="#fff" stroke="#000" stroke-width="1.2"/>
<circle cx="1573" cy="873.7" r="2.6" fill="#fff" stroke="#000" stroke-width="1.2"/>
<circle cx="1582.7" cy="871.6" r="2.6" fill="#fff" stroke="#000" stroke-width="1.2"/>
<circle cx="1568" cy="968.8" r="2.6" fill="#fff" stroke="#000" stroke-width="1.2"/>
<circle cx="1568" cy="1016.6" r="2.6" fill="#fff" stroke="#000" stroke-width="1.2"/>
<circle cx="1638.8" cy="892.8" r="2.6" fill="#fff" stroke="#000" stroke-width="1.2"/>
<circle cx="1638.8" cy="903.1" r="2.6" fill="#fff" stroke="#000" stroke-width="1.2"/>
<circle cx="1633.8" cy="910.2" r="2.6" fill="#fff" stroke="#000" stroke-width="1.2"/>
<circle cx="1643.9" cy="912.2" r="2.6" fill="#fff" stroke="#000" stroke-width="1.2"/>
<circle cx="1633.8" cy="918.9" r="2.6" fill="#fff" stroke="#000" stroke-width="1.2"/>
<circle cx="1643.9" cy="920.1" r="2.6" fill="#fff" stroke="#000" stroke-width="1.2"/>
<circle cx="1633.8" cy="943.5" r="2.6" fill="#fff" stroke="#000" stroke-width="1.2"/>
<circle cx="1643.9" cy="943.5" r="2.6" fill="#fff" stroke="#000" stroke-width="1.2"/>
<circle cx="1638.8" cy="960.7" r="2.6" fill="#fff" stroke="#000" stroke-width="1.2"/>
<circle cx="1638.8" cy="991.4" r="2.6" fill="#fff" stroke="#000" stroke-width="1.2"/>
<circle cx="1638.8" cy="1048.3" r="2.6" fill="#fff" stroke="#000" stroke-width="1.2"/>
<text transform="translate(1602.9,770.3) scale(1.080,1)" font-size="23" text-anchor="middle">CD4<tspan dy="-8.3" font-size="14.3">+</tspan><tspan dy="8.3" font-size="1">&#8203;</tspan> CD27<tspan dy="-8.3" font-size="14.3">+</tspan><tspan dy="8.3" font-size="1">&#8203;</tspan></text>
<text transform="translate(1460.2,939.9) rotate(-90) scale(1.080,1)" font-size="23" text-anchor="middle">% CD4<tspan dy="-8.3" font-size="14.3">+</tspan><tspan dy="8.3" font-size="1">&#8203;</tspan> CD27<tspan dy="-8.3" font-size="14.3">+</tspan><tspan dy="8.3" font-size="1">&#8203;</tspan></text>
<text transform="translate(1605.5,807.6) scale(1.120,1)" font-size="20.5" text-anchor="middle">p = 0.0210</text>
<line x1="1569.2" y1="816.3" x2="1638.8" y2="816.3" stroke="#000" stroke-width="2.4"/>
<rect x="1851.7" y="899.5" width="46.8" height="165.6" fill="#000"/>
<rect x="1916.7" y="994.8" width="47" height="70.3" fill="#ee2c24"/>
<line x1="1875.1" y1="847" x2="1875.1" y2="955" stroke="#c0c0c0" stroke-width="1.9"/>
<line x1="1862.1" y1="847" x2="1888.1" y2="847" stroke="#c0c0c0" stroke-width="1.9"/>
<line x1="1862.1" y1="955" x2="1888.1" y2="955" stroke="#c0c0c0" stroke-width="1.9"/>
<line x1="1940.2" y1="956" x2="1940.2" y2="1036.2" stroke="#c0c0c0" stroke-width="1.9"/>
<line x1="1927.2" y1="956" x2="1953.2" y2="956" stroke="#c0c0c0" stroke-width="1.9"/>
<line x1="1927.2" y1="1036.2" x2="1953.2" y2="1036.2" stroke="#c0c0c0" stroke-width="1.9"/>
<line x1="1832.5" y1="803.1" x2="1832.5" y2="1066.2" stroke="#000" stroke-width="2.3"/>
<line x1="1822.5" y1="1065.1" x2="1983.3" y2="1065.1" stroke="#000" stroke-width="2.3"/>
<line x1="1822.5" y1="1065.1" x2="1832.5" y2="1065.1" stroke="#000" stroke-width="2.3"/>
<text transform="translate(1815.5,1072.4) scale(1.050,1)" font-size="20.5" text-anchor="end">0</text>
<line x1="1822.5" y1="1012.9" x2="1832.5" y2="1012.9" stroke="#000" stroke-width="2.3"/>
<text transform="translate(1815.5,1020.3) scale(1.050,1)" font-size="20.5" text-anchor="end">20</text>
<line x1="1822.5" y1="960.7" x2="1832.5" y2="960.7" stroke="#000" stroke-width="2.3"/>
<text transform="translate(1815.5,968.1) scale(1.050,1)" font-size="20.5" text-anchor="end">40</text>
<line x1="1822.5" y1="908.5" x2="1832.5" y2="908.5" stroke="#000" stroke-width="2.3"/>
<text transform="translate(1815.5,915.9) scale(1.050,1)" font-size="20.5" text-anchor="end">60</text>
<line x1="1822.5" y1="856.4" x2="1832.5" y2="856.4" stroke="#000" stroke-width="2.3"/>
<text transform="translate(1815.5,863.8) scale(1.050,1)" font-size="20.5" text-anchor="end">80</text>
<line x1="1822.5" y1="804.2" x2="1832.5" y2="804.2" stroke="#000" stroke-width="2.3"/>
<text transform="translate(1815.5,811.6) scale(1.050,1)" font-size="20.5" text-anchor="end">100</text>
<line x1="1875.1" y1="1065.1" x2="1875.1" y2="1075.1" stroke="#000" stroke-width="2.3"/>
<text transform="translate(1874.1,1089.1) scale(1.100,1) rotate(-45) scale(1.000,1)" font-size="21" text-anchor="end">Control</text>
<line x1="1940.2" y1="1065.1" x2="1940.2" y2="1075.1" stroke="#000" stroke-width="2.3"/>
<text transform="translate(1939.2,1089.1) scale(1.100,1) rotate(-45) scale(1.000,1)" font-size="21" text-anchor="end">Patient</text>
<circle cx="1861.1" cy="845" r="2.6" fill="#fff" stroke="#000" stroke-width="1.2"/>
<circle cx="1870.2" cy="848.6" r="2.6" fill="#fff" stroke="#000" stroke-width="1.2"/>
<circle cx="1879.3" cy="845" r="2.6" fill="#fff" stroke="#000" stroke-width="1.2"/>
<circle cx="1888.4" cy="845" r="2.6" fill="#fff" stroke="#000" stroke-width="1.2"/>
<circle cx="1861.1" cy="906.6" r="2.6" fill="#fff" stroke="#000" stroke-width="1.2"/>
<circle cx="1870.2" cy="910.2" r="2.6" fill="#fff" stroke="#000" stroke-width="1.2"/>
<circle cx="1879.3" cy="908" r="2.6" fill="#fff" stroke="#000" stroke-width="1.2"/>
<circle cx="1888.4" cy="910.2" r="2.6" fill="#fff" stroke="#000" stroke-width="1.2"/>
<circle cx="1874.9" cy="921.3" r="2.6" fill="#fff" stroke="#000" stroke-width="1.2"/>
<circle cx="1874.9" cy="955.4" r="2.6" fill="#fff" stroke="#000" stroke-width="1.2"/>
<circle cx="1874.9" cy="1015.6" r="2.6" fill="#fff" stroke="#000" stroke-width="1.2"/>
<circle cx="1939.9" cy="901.5" r="2.6" fill="#fff" stroke="#000" stroke-width="1.2"/>
<circle cx="1939.9" cy="962.7" r="2.6" fill="#fff" stroke="#000" stroke-width="1.2"/>
<circle cx="1939.9" cy="970.8" r="2.6" fill="#fff" stroke="#000" stroke-width="1.2"/>
<circle cx="1949" cy="992.4" r="2.6" fill="#fff" stroke="#000" stroke-width="1.2"/>
<circle cx="1939.9" cy="997.4" r="2.6" fill="#fff" stroke="#000" stroke-width="1.2"/>
<circle cx="1949" cy="1005.5" r="2.6" fill="#fff" stroke="#000" stroke-width="1.2"/>
<circle cx="1939.9" cy="1009.5" r="2.6" fill="#fff" stroke="#000" stroke-width="1.2"/>
<circle cx="1930.8" cy="1020" r="2.6" fill="#fff" stroke="#000" stroke-width="1.2"/>
<circle cx="1939.9" cy="1022.7" r="2.6" fill="#fff" stroke="#000" stroke-width="1.2"/>
<circle cx="1949" cy="1021.2" r="2.6" fill="#fff" stroke="#000" stroke-width="1.2"/>
<circle cx="1939.9" cy="1053.3" r="2.6" fill="#fff" stroke="#000" stroke-width="1.2"/>
<text transform="translate(1903.1,770.3) scale(1.080,1)" font-size="23" text-anchor="middle">CD8<tspan dy="-8.3" font-size="14.3">+</tspan><tspan dy="8.3" font-size="1">&#8203;</tspan> CD27<tspan dy="-8.3" font-size="14.3">+</tspan><tspan dy="8.3" font-size="1">&#8203;</tspan></text>
<text transform="translate(1773.5,944.3) rotate(-90) scale(1.080,1)" font-size="23" text-anchor="middle">% CD8<tspan dy="-8.3" font-size="14.3">+</tspan><tspan dy="8.3" font-size="1">&#8203;</tspan> CD27<tspan dy="-8.3" font-size="14.3">+</tspan><tspan dy="8.3" font-size="1">&#8203;</tspan></text>
<text transform="translate(1906.6,819.8) scale(1.120,1)" font-size="20.5" text-anchor="middle">p = 0.0001</text>
<line x1="1876.9" y1="828.2" x2="1938.9" y2="828.2" stroke="#000" stroke-width="2.4"/>
<rect x="151" y="1334" width="49.3" height="174.6" fill="#000"/>
<rect x="219.7" y="1368" width="49.5" height="140.7" fill="#ed1c24"/>
<line x1="175.7" y1="1270.2" x2="175.7" y2="1401.3" stroke="#c0c0c0" stroke-width="1.9"/>
<line x1="162.7" y1="1270.2" x2="188.7" y2="1270.2" stroke="#c0c0c0" stroke-width="1.9"/>
<line x1="162.7" y1="1401.3" x2="188.7" y2="1401.3" stroke="#c0c0c0" stroke-width="1.9"/>
<line x1="244.4" y1="1313.4" x2="244.4" y2="1426.5" stroke="#c0c0c0" stroke-width="1.9"/>
<line x1="231.4" y1="1313.4" x2="257.4" y2="1313.4" stroke="#c0c0c0" stroke-width="1.9"/>
<line x1="231.4" y1="1426.5" x2="257.4" y2="1426.5" stroke="#c0c0c0" stroke-width="1.9"/>
<line x1="129.8" y1="1248.8" x2="129.8" y2="1509.8" stroke="#000" stroke-width="2.3"/>
<line x1="119.8" y1="1508.7" x2="290.7" y2="1508.7" stroke="#000" stroke-width="2.3"/>
<line x1="119.8" y1="1508.7" x2="129.8" y2="1508.7" stroke="#000" stroke-width="2.3"/>
<text transform="translate(112.8,1516.1) scale(1.050,1)" font-size="20.5" text-anchor="end">0</text>
<line x1="119.8" y1="1461.4" x2="129.8" y2="1461.4" stroke="#000" stroke-width="2.3"/>
<text transform="translate(112.8,1468.8) scale(1.050,1)" font-size="20.5" text-anchor="end">20</text>
<line x1="119.8" y1="1414.2" x2="129.8" y2="1414.2" stroke="#000" stroke-width="2.3"/>
<text transform="translate(112.8,1421.6) scale(1.050,1)" font-size="20.5" text-anchor="end">40</text>
<line x1="119.8" y1="1366.9" x2="129.8" y2="1366.9" stroke="#000" stroke-width="2.3"/>
<text transform="translate(112.8,1374.3) scale(1.050,1)" font-size="20.5" text-anchor="end">60</text>
<line x1="119.8" y1="1319.7" x2="129.8" y2="1319.7" stroke="#000" stroke-width="2.3"/>
<text transform="translate(112.8,1327.1) scale(1.050,1)" font-size="20.5" text-anchor="end">80</text>
<line x1="119.8" y1="1272.5" x2="129.8" y2="1272.5" stroke="#000" stroke-width="2.3"/>
<text transform="translate(112.8,1279.8) scale(1.050,1)" font-size="20.5" text-anchor="end">100</text>
<line x1="175.7" y1="1508.7" x2="175.7" y2="1518.7" stroke="#000" stroke-width="2.3"/>
<text transform="translate(185.7,1532.7) scale(1.100,1) rotate(-45) scale(1.000,1)" font-size="21" text-anchor="end">Control</text>
<line x1="244.4" y1="1508.7" x2="244.4" y2="1518.7" stroke="#000" stroke-width="2.3"/>
<text transform="translate(254.4,1532.7) scale(1.100,1) rotate(-45) scale(1.000,1)" font-size="21" text-anchor="end">Patient</text>
<circle cx="160.9" cy="1286.2" r="2.6" fill="#fff" stroke="#000" stroke-width="1.2"/>
<circle cx="170.6" cy="1286.2" r="2.6" fill="#fff" stroke="#000" stroke-width="1.2"/>
<circle cx="180.3" cy="1288.4" r="2.6" fill="#fff" stroke="#000" stroke-width="1.2"/>
<circle cx="190.2" cy="1286.2" r="2.6" fill="#fff" stroke="#000" stroke-width="1.2"/>
<circle cx="160.9" cy="1320.9" r="2.6" fill="#fff" stroke="#000" stroke-width="1.2"/>
<circle cx="170.6" cy="1320.9" r="2.6" fill="#fff" stroke="#000" stroke-width="1.2"/>
<circle cx="180.3" cy="1325.6" r="2.6" fill="#fff" stroke="#000" stroke-width="1.2"/>
<circle cx="190.2" cy="1324.3" r="2.6" fill="#fff" stroke="#000" stroke-width="1.2"/>
<circle cx="175.7" cy="1335.2" r="2.6" fill="#fff" stroke="#000" stroke-width="1.2"/>
<circle cx="175.7" cy="1427.9" r="2.6" fill="#fff" stroke="#000" stroke-width="1.2"/>
<circle cx="175.7" cy="1491.1" r="2.6" fill="#fff" stroke="#000" stroke-width="1.2"/>
<circle cx="244.7" cy="1308" r="2.6" fill="#fff" stroke="#000" stroke-width="1.2"/>
<circle cx="244.7" cy="1320.1" r="2.6" fill="#fff" stroke="#000" stroke-width="1.2"/>
<circle cx="239.7" cy="1332" r="2.6" fill="#fff" stroke="#000" stroke-width="1.2"/>
<circle cx="249.8" cy="1333" r="2.6" fill="#fff" stroke="#000" stroke-width="1.2"/>
<circle cx="239.7" cy="1346.2" r="2.6" fill="#fff" stroke="#000" stroke-width="1.2"/>
<circle cx="249.8" cy="1347" r="2.6" fill="#fff" stroke="#000" stroke-width="1.2"/>
<circle cx="244.7" cy="1359.5" r="2.6" fill="#fff" stroke="#000" stroke-width="1.2"/>
<circle cx="244.7" cy="1386.5" r="2.6" fill="#fff" stroke="#000" stroke-width="1.2"/>
<circle cx="244.7" cy="1414.4" r="2.6" fill="#fff" stroke="#000" stroke-width="1.2"/>
<circle cx="244.7" cy="1428.9" r="2.6" fill="#fff" stroke="#000" stroke-width="1.2"/>
<circle cx="244.7" cy="1495.8" r="2.6" fill="#fff" stroke="#000" stroke-width="1.2"/>
<text transform="translate(206.9,1221.6) scale(1.080,1)" font-size="23" text-anchor="middle">CD4<tspan dy="-8.3" font-size="14.3">+</tspan><tspan dy="8.3" font-size="1">&#8203;</tspan> CD28<tspan dy="-8.3" font-size="14.3">+</tspan><tspan dy="8.3" font-size="1">&#8203;</tspan></text>
<text transform="translate(77.3,1386.1) rotate(-90) scale(1.080,1)" font-size="23" text-anchor="middle">% CD4<tspan dy="-8.3" font-size="14.3">+</tspan><tspan dy="8.3" font-size="1">&#8203;</tspan> CD28<tspan dy="-8.3" font-size="14.3">+</tspan><tspan dy="8.3" font-size="1">&#8203;</tspan></text>
<text transform="translate(209,1248.8) scale(1.120,1)" font-size="17.2" text-anchor="middle">n.s.</text>
<line x1="174" y1="1254.3" x2="241.3" y2="1254.3" stroke="#000" stroke-width="2.4"/>
<rect x="419.1" y="1359.9" width="48.9" height="147" fill="#000"/>
<rect x="486.8" y="1417" width="49.1" height="89.8" fill="#ee2c24"/>
<line x1="443.6" y1="1294.9" x2="443.6" y2="1428.5" stroke="#c0c0c0" stroke-width="1.9"/>
<line x1="430.6" y1="1294.9" x2="456.6" y2="1294.9" stroke="#c0c0c0" stroke-width="1.9"/>
<line x1="430.6" y1="1428.5" x2="456.6" y2="1428.5" stroke="#c0c0c0" stroke-width="1.9"/>
<line x1="511.3" y1="1373.4" x2="511.3" y2="1464.3" stroke="#c0c0c0" stroke-width="1.9"/>
<line x1="498.3" y1="1373.4" x2="524.3" y2="1373.4" stroke="#c0c0c0" stroke-width="1.9"/>
<line x1="498.3" y1="1464.3" x2="524.3" y2="1464.3" stroke="#c0c0c0" stroke-width="1.9"/>
<line x1="398.9" y1="1250.1" x2="398.9" y2="1508" stroke="#000" stroke-width="2.3"/>
<line x1="388.9" y1="1506.9" x2="556.4" y2="1506.9" stroke="#000" stroke-width="2.3"/>
<line x1="388.9" y1="1506.9" x2="398.9" y2="1506.9" stroke="#000" stroke-width="2.3"/>
<text transform="translate(381.9,1514.2) scale(1.050,1)" font-size="20.5" text-anchor="end">0</text>
<line x1="388.9" y1="1455.7" x2="398.9" y2="1455.7" stroke="#000" stroke-width="2.3"/>
<text transform="translate(381.9,1463.1) scale(1.050,1)" font-size="20.5" text-anchor="end">20</text>
<line x1="388.9" y1="1404.6" x2="398.9" y2="1404.6" stroke="#000" stroke-width="2.3"/>
<text transform="translate(381.9,1412) scale(1.050,1)" font-size="20.5" text-anchor="end">40</text>
<line x1="388.9" y1="1353.5" x2="398.9" y2="1353.5" stroke="#000" stroke-width="2.3"/>
<text transform="translate(381.9,1360.9) scale(1.050,1)" font-size="20.5" text-anchor="end">60</text>
<line x1="388.9" y1="1302.4" x2="398.9" y2="1302.4" stroke="#000" stroke-width="2.3"/>
<text transform="translate(381.9,1309.8) scale(1.050,1)" font-size="20.5" text-anchor="end">80</text>
<line x1="388.9" y1="1251.3" x2="398.9" y2="1251.3" stroke="#000" stroke-width="2.3"/>
<text transform="translate(381.9,1258.6) scale(1.050,1)" font-size="20.5" text-anchor="end">100</text>
<line x1="443.6" y1="1506.9" x2="443.6" y2="1516.9" stroke="#000" stroke-width="2.3"/>
<text transform="translate(445.6,1530.9) scale(1.100,1) rotate(-45) scale(1.000,1)" font-size="21" text-anchor="end">Control</text>
<line x1="511.3" y1="1506.9" x2="511.3" y2="1516.9" stroke="#000" stroke-width="2.3"/>
<text transform="translate(513.3,1530.9) scale(1.100,1) rotate(-45) scale(1.000,1)" font-size="21" text-anchor="end">Patient</text>
<circle cx="433.9" cy="1287.2" r="2.6" fill="#fff" stroke="#000" stroke-width="1.2"/>
<circle cx="443.8" cy="1287.2" r="2.6" fill="#fff" stroke="#000" stroke-width="1.2"/>
<circle cx="453.4" cy="1287.2" r="2.6" fill="#fff" stroke="#000" stroke-width="1.2"/>
<circle cx="443.8" cy="1302.5" r="2.6" fill="#fff" stroke="#000" stroke-width="1.2"/>
<circle cx="443.8" cy="1343.7" r="2.6" fill="#fff" stroke="#000" stroke-width="1.2"/>
<circle cx="453.4" cy="1340.3" r="2.6" fill="#fff" stroke="#000" stroke-width="1.2"/>
<circle cx="433.9" cy="1365.9" r="2.6" fill="#fff" stroke="#000" stroke-width="1.2"/>
<circle cx="443.8" cy="1365.9" r="2.6" fill="#fff" stroke="#000" stroke-width="1.2"/>
<circle cx="453" cy="1366.3" r="2.6" fill="#fff" stroke="#000" stroke-width="1.2"/>
<circle cx="443.8" cy="1440" r="2.6" fill="#fff" stroke="#000" stroke-width="1.2"/>
<circle cx="443.8" cy="1496.2" r="2.6" fill="#fff" stroke="#000" stroke-width="1.2"/>
<circle cx="508" cy="1307" r="2.6" fill="#fff" stroke="#000" stroke-width="1.2"/>
<circle cx="508" cy="1403.9" r="2.6" fill="#fff" stroke="#000" stroke-width="1.2"/>
<circle cx="506.9" cy="1410.4" r="2.6" fill="#fff" stroke="#000" stroke-width="1.2"/>
<circle cx="510" cy="1420.5" r="2.6" fill="#fff" stroke="#000" stroke-width="1.2"/>
<circle cx="501.9" cy="1425.1" r="2.6" fill="#fff" stroke="#000" stroke-width="1.2"/>
<circle cx="510" cy="1427.1" r="2.6" fill="#fff" stroke="#000" stroke-width="1.2"/>
<circle cx="506.9" cy="1429.5" r="2.6" fill="#fff" stroke="#000" stroke-width="1.2"/>
<circle cx="509" cy="1437.2" r="2.6" fill="#fff" stroke="#000" stroke-width="1.2"/>
<circle cx="508" cy="1501.6" r="2.6" fill="#fff" stroke="#000" stroke-width="1.2"/>
<text transform="translate(485.3,1220.2) scale(1.080,1)" font-size="23" text-anchor="middle">CD8<tspan dy="-8.3" font-size="14.3">+</tspan><tspan dy="8.3" font-size="1">&#8203;</tspan> CD28<tspan dy="-8.3" font-size="14.3">+</tspan><tspan dy="8.3" font-size="1">&#8203;</tspan></text>
<text transform="translate(336.9,1383.1) rotate(-90) scale(1.080,1)" font-size="23" text-anchor="middle">% CD8<tspan dy="-8.3" font-size="14.3">+</tspan><tspan dy="8.3" font-size="1">&#8203;</tspan> CD28<tspan dy="-8.3" font-size="14.3">+</tspan><tspan dy="8.3" font-size="1">&#8203;</tspan></text>
<text transform="translate(478.7,1266) scale(1.120,1)" font-size="20.5" text-anchor="middle">p = 0.0132</text>
<line x1="443.8" y1="1273.7" x2="510.6" y2="1273.7" stroke="#000" stroke-width="2.4"/>
<rect x="785.4" y="1484.7" width="50.3" height="29.1" fill="#000"/>
<rect x="855.5" y="1440.6" width="50.1" height="73.1" fill="#ee2c24"/>
<line x1="810.5" y1="1478.6" x2="810.5" y2="1493.1" stroke="#c0c0c0" stroke-width="1.9"/>
<line x1="801.5" y1="1478.6" x2="819.5" y2="1478.6" stroke="#c0c0c0" stroke-width="1.9"/>
<line x1="801.5" y1="1493.1" x2="819.5" y2="1493.1" stroke="#c0c0c0" stroke-width="1.9"/>
<line x1="880.5" y1="1408.9" x2="880.5" y2="1476" stroke="#c0c0c0" stroke-width="1.9"/>
<line x1="867.5" y1="1408.9" x2="893.5" y2="1408.9" stroke="#c0c0c0" stroke-width="1.9"/>
<line x1="867.5" y1="1476" x2="893.5" y2="1476" stroke="#c0c0c0" stroke-width="1.9"/>
<line x1="764.6" y1="1249.7" x2="764.6" y2="1514.9" stroke="#000" stroke-width="2.3"/>
<line x1="754.6" y1="1513.7" x2="928.1" y2="1513.7" stroke="#000" stroke-width="2.3"/>
<line x1="754.6" y1="1513.7" x2="764.6" y2="1513.7" stroke="#000" stroke-width="2.3"/>
<text transform="translate(747.6,1515.1) scale(1.050,1)" font-size="20.5" text-anchor="end">0</text>
<line x1="754.6" y1="1461.2" x2="764.6" y2="1461.2" stroke="#000" stroke-width="2.3"/>
<text transform="translate(747.6,1463.5) scale(1.050,1)" font-size="20.5" text-anchor="end">20</text>
<line x1="754.6" y1="1408.6" x2="764.6" y2="1408.6" stroke="#000" stroke-width="2.3"/>
<text transform="translate(747.6,1411.9) scale(1.050,1)" font-size="20.5" text-anchor="end">40</text>
<line x1="754.6" y1="1356" x2="764.6" y2="1356" stroke="#000" stroke-width="2.3"/>
<text transform="translate(747.6,1360.4) scale(1.050,1)" font-size="20.5" text-anchor="end">60</text>
<line x1="754.6" y1="1303.4" x2="764.6" y2="1303.4" stroke="#000" stroke-width="2.3"/>
<text transform="translate(747.6,1308.8) scale(1.050,1)" font-size="20.5" text-anchor="end">80</text>
<line x1="754.6" y1="1250.9" x2="764.6" y2="1250.9" stroke="#000" stroke-width="2.3"/>
<text transform="translate(747.6,1257.2) scale(1.050,1)" font-size="20.5" text-anchor="end">100</text>
<line x1="810.5" y1="1513.7" x2="810.5" y2="1523.7" stroke="#000" stroke-width="2.3"/>
<text transform="translate(811.5,1537.7) scale(1.100,1) rotate(-45) scale(1.000,1)" font-size="21" text-anchor="end">Control</text>
<line x1="880.5" y1="1513.7" x2="880.5" y2="1523.7" stroke="#000" stroke-width="2.3"/>
<text transform="translate(881.5,1537.7) scale(1.100,1) rotate(-45) scale(1.000,1)" font-size="21" text-anchor="end">Patient</text>
<circle cx="802" cy="1477.6" r="2.6" fill="#fff" stroke="#000" stroke-width="1.2"/>
<circle cx="810.6" cy="1477.6" r="2.6" fill="#fff" stroke="#000" stroke-width="1.2"/>
<circle cx="819.5" cy="1477.6" r="2.6" fill="#fff" stroke="#000" stroke-width="1.2"/>
<circle cx="806.4" cy="1484.5" r="2.6" fill="#fff" stroke="#000" stroke-width="1.2"/>
<circle cx="814.7" cy="1484.5" r="2.6" fill="#fff" stroke="#000" stroke-width="1.2"/>
<circle cx="797.5" cy="1489.7" r="2.6" fill="#fff" stroke="#000" stroke-width="1.2"/>
<circle cx="789.4" cy="1492.1" r="2.6" fill="#fff" stroke="#000" stroke-width="1.2"/>
<circle cx="802" cy="1492.7" r="2.6" fill="#fff" stroke="#000" stroke-width="1.2"/>
<circle cx="806.4" cy="1492.7" r="2.6" fill="#fff" stroke="#000" stroke-width="1.2"/>
<circle cx="814.7" cy="1492.7" r="2.6" fill="#fff" stroke="#000" stroke-width="1.2"/>
<circle cx="823.2" cy="1492.7" r="2.6" fill="#fff" stroke="#000" stroke-width="1.2"/>
<circle cx="831.2" cy="1492.1" r="2.6" fill="#fff" stroke="#000" stroke-width="1.2"/>
<circle cx="880.7" cy="1389.8" r="2.6" fill="#fff" stroke="#000" stroke-width="1.2"/>
<circle cx="880.7" cy="1396.6" r="2.6" fill="#fff" stroke="#000" stroke-width="1.2"/>
<circle cx="880.7" cy="1410" r="2.6" fill="#fff" stroke="#000" stroke-width="1.2"/>
<circle cx="890.8" cy="1429.5" r="2.6" fill="#fff" stroke="#000" stroke-width="1.2"/>
<circle cx="880.7" cy="1433.4" r="2.6" fill="#fff" stroke="#000" stroke-width="1.2"/>
<circle cx="871" cy="1453.4" r="2.6" fill="#fff" stroke="#000" stroke-width="1.2"/>
<circle cx="890.8" cy="1454.2" r="2.6" fill="#fff" stroke="#000" stroke-width="1.2"/>
<circle cx="880.7" cy="1456.8" r="2.6" fill="#fff" stroke="#000" stroke-width="1.2"/>
<circle cx="880.7" cy="1470.3" r="2.6" fill="#fff" stroke="#000" stroke-width="1.2"/>
<circle cx="880.7" cy="1481.6" r="2.6" fill="#fff" stroke="#000" stroke-width="1.2"/>
<circle cx="880.7" cy="1490.5" r="2.6" fill="#fff" stroke="#000" stroke-width="1.2"/>
<text transform="translate(843.8,1223.6) scale(1.080,1)" font-size="23" text-anchor="middle">CD4<tspan dy="-8.3" font-size="14.3">+</tspan><tspan dy="8.3" font-size="1">&#8203;</tspan> PD1<tspan dy="-8.3" font-size="14.3">+</tspan><tspan dy="8.3" font-size="1">&#8203;</tspan></text>
<text transform="translate(705.7,1383.1) rotate(-90) scale(1.080,1)" font-size="23" text-anchor="middle">% CD4<tspan dy="-8.3" font-size="14.3">+</tspan><tspan dy="8.3" font-size="1">&#8203;</tspan> PD1<tspan dy="-8.3" font-size="14.3">+</tspan><tspan dy="8.3" font-size="1">&#8203;</tspan></text>
<text transform="translate(847.4,1348.8) scale(1.120,1)" font-size="20.5" text-anchor="middle">p = 0.0004</text>
<line x1="810.6" y1="1355.8" x2="883.7" y2="1355.8" stroke="#000" stroke-width="2.4"/>
<rect x="1055.1" y="1481.4" width="51.5" height="30.9" fill="#000"/>
<rect x="1126.8" y="1450.1" width="51.5" height="62.2" fill="#ee2c24"/>
<line x1="1080.8" y1="1469.9" x2="1080.8" y2="1496.2" stroke="#c0c0c0" stroke-width="1.9"/>
<line x1="1067.8" y1="1469.9" x2="1093.8" y2="1469.9" stroke="#c0c0c0" stroke-width="1.9"/>
<line x1="1067.8" y1="1496.2" x2="1093.8" y2="1496.2" stroke="#c0c0c0" stroke-width="1.9"/>
<line x1="1152.5" y1="1410" x2="1152.5" y2="1493.1" stroke="#c0c0c0" stroke-width="1.9"/>
<line x1="1139.5" y1="1410" x2="1165.5" y2="1410" stroke="#c0c0c0" stroke-width="1.9"/>
<line x1="1139.5" y1="1493.1" x2="1165.5" y2="1493.1" stroke="#c0c0c0" stroke-width="1.9"/>
<line x1="1033.3" y1="1247.7" x2="1033.3" y2="1513.5" stroke="#000" stroke-width="2.3"/>
<line x1="1023.3" y1="1512.3" x2="1200.5" y2="1512.3" stroke="#000" stroke-width="2.3"/>
<line x1="1023.3" y1="1512.3" x2="1033.3" y2="1512.3" stroke="#000" stroke-width="2.3"/>
<text transform="translate(1016.3,1514) scale(1.050,1)" font-size="20.5" text-anchor="end">0</text>
<line x1="1023.3" y1="1459.6" x2="1033.3" y2="1459.6" stroke="#000" stroke-width="2.3"/>
<text transform="translate(1016.3,1462.5) scale(1.050,1)" font-size="20.5" text-anchor="end">20</text>
<line x1="1023.3" y1="1406.9" x2="1033.3" y2="1406.9" stroke="#000" stroke-width="2.3"/>
<text transform="translate(1016.3,1410.9) scale(1.050,1)" font-size="20.5" text-anchor="end">40</text>
<line x1="1023.3" y1="1354.2" x2="1033.3" y2="1354.2" stroke="#000" stroke-width="2.3"/>
<text transform="translate(1016.3,1359.3) scale(1.050,1)" font-size="20.5" text-anchor="end">60</text>
<line x1="1023.3" y1="1301.5" x2="1033.3" y2="1301.5" stroke="#000" stroke-width="2.3"/>
<text transform="translate(1016.3,1307.8) scale(1.050,1)" font-size="20.5" text-anchor="end">80</text>
<line x1="1023.3" y1="1248.8" x2="1033.3" y2="1248.8" stroke="#000" stroke-width="2.3"/>
<text transform="translate(1016.3,1256.2) scale(1.050,1)" font-size="20.5" text-anchor="end">100</text>
<line x1="1080.8" y1="1512.3" x2="1080.8" y2="1522.3" stroke="#000" stroke-width="2.3"/>
<text transform="translate(1082.8,1536.3) scale(1.100,1) rotate(-45) scale(1.000,1)" font-size="21" text-anchor="end">Control</text>
<line x1="1152.5" y1="1512.3" x2="1152.5" y2="1522.3" stroke="#000" stroke-width="2.3"/>
<text transform="translate(1154.5,1536.3) scale(1.100,1) rotate(-45) scale(1.000,1)" font-size="21" text-anchor="end">Patient</text>
<circle cx="1080.7" cy="1448.7" r="2.6" fill="#fff" stroke="#000" stroke-width="1.2"/>
<circle cx="1080.7" cy="1472.3" r="2.6" fill="#fff" stroke="#000" stroke-width="1.2"/>
<circle cx="1067.6" cy="1481" r="2.6" fill="#fff" stroke="#000" stroke-width="1.2"/>
<circle cx="1093.8" cy="1480.6" r="2.6" fill="#fff" stroke="#000" stroke-width="1.2"/>
<circle cx="1076.3" cy="1485.1" r="2.6" fill="#fff" stroke="#000" stroke-width="1.2"/>
<circle cx="1059.1" cy="1490.5" r="2.6" fill="#fff" stroke="#000" stroke-width="1.2"/>
<circle cx="1067.6" cy="1490.5" r="2.6" fill="#fff" stroke="#000" stroke-width="1.2"/>
<circle cx="1076.3" cy="1490.5" r="2.6" fill="#fff" stroke="#000" stroke-width="1.2"/>
<circle cx="1085" cy="1490.5" r="2.6" fill="#fff" stroke="#000" stroke-width="1.2"/>
<circle cx="1102.1" cy="1490.1" r="2.6" fill="#fff" stroke="#000" stroke-width="1.2"/>
<circle cx="1093.4" cy="1495.2" r="2.6" fill="#fff" stroke="#000" stroke-width="1.2"/>
<circle cx="1152.6" cy="1340.3" r="2.6" fill="#fff" stroke="#000" stroke-width="1.2"/>
<circle cx="1147.4" cy="1431.6" r="2.6" fill="#fff" stroke="#000" stroke-width="1.2"/>
<circle cx="1157.6" cy="1431.6" r="2.6" fill="#fff" stroke="#000" stroke-width="1.2"/>
<circle cx="1152.6" cy="1446.7" r="2.6" fill="#fff" stroke="#000" stroke-width="1.2"/>
<circle cx="1152.6" cy="1453.8" r="2.6" fill="#fff" stroke="#000" stroke-width="1.2"/>
<circle cx="1152.6" cy="1466.5" r="2.6" fill="#fff" stroke="#000" stroke-width="1.2"/>
<circle cx="1142.5" cy="1476.6" r="2.6" fill="#fff" stroke="#000" stroke-width="1.2"/>
<circle cx="1152.6" cy="1474.4" r="2.6" fill="#fff" stroke="#000" stroke-width="1.2"/>
<circle cx="1162.7" cy="1478.6" r="2.6" fill="#fff" stroke="#000" stroke-width="1.2"/>
<circle cx="1152.6" cy="1479.6" r="2.6" fill="#fff" stroke="#000" stroke-width="1.2"/>
<circle cx="1152.6" cy="1486.7" r="2.6" fill="#fff" stroke="#000" stroke-width="1.2"/>
<text transform="translate(1125.7,1223.6) scale(1.080,1)" font-size="23" text-anchor="middle">CD8<tspan dy="-8.3" font-size="14.3">+</tspan><tspan dy="8.3" font-size="1">&#8203;</tspan> PD1<tspan dy="-8.3" font-size="14.3">+</tspan><tspan dy="8.3" font-size="1">&#8203;</tspan></text>
<text transform="translate(976.9,1383.1) rotate(-90) scale(1.080,1)" font-size="23" text-anchor="middle">% CD8<tspan dy="-8.3" font-size="14.3">+</tspan><tspan dy="8.3" font-size="1">&#8203;</tspan> PD1<tspan dy="-8.3" font-size="14.3">+</tspan><tspan dy="8.3" font-size="1">&#8203;</tspan></text>
<text transform="translate(1113.2,1304.4) scale(1.120,1)" font-size="20.5" text-anchor="middle">p = 0.0261</text>
<line x1="1077.3" y1="1314.9" x2="1153" y2="1314.9" stroke="#000" stroke-width="2.4"/>
<path d="M1398.3 1254.3 L1404.1 1255.8 L1409.9 1257.3 L1415.7 1258.8 L1421.5 1260.2 L1427.3 1261.6 L1433.2 1263 L1439 1264.4 L1444.8 1265.7 L1450.6 1267 L1456.4 1268.3 L1462.2 1269.6 L1468 1270.8 L1473.8 1272 L1479.6 1273.2 L1485.5 1274.4 L1491.3 1275.6 L1497.1 1276.7 L1502.9 1277.8 L1508.7 1278.9 L1514.5 1280 L1520.3 1281.1 L1526.1 1282.1 L1531.9 1283.1 L1537.7 1284.1 L1543.5 1285.1 L1549.4 1286.1 L1555.2 1287.1 L1561 1288 L1566.8 1288.9 L1572.6 1289.8 L1578.4 1290.7 L1584.2 1291.6 L1590 1292.4 L1595.8 1293.3 L1601.6 1294.1 L1607.5 1294.9 L1613.3 1295.7 L1619.1 1296.5 L1624.9 1297.3 L1630.7 1298 L1636.5 1298.7 L1642.3 1299.5 L1648.1 1300.2 L1653.9 1300.9 L1659.8 1301.6 L1665.6 1302.3 L1671.4 1302.9 L1677.2 1303.6 L1683 1304.2 L1688.8 1304.9 L1694.6 1305.5 L1700.4 1306.1 L1706.2 1306.7 L1712 1307.3 L1717.8 1307.9 L1723.7 1308.4 L1729.5 1309 L1735.3 1309.5 L1741.1 1310.1 L1746.9 1310.6 L1752.7 1311.1 L1758.5 1311.6 L1764.3 1312.1 L1770.1 1312.6 L1775.9 1313.1 L1781.8 1313.6 L1787.6 1314.1 L1793.4 1314.5 L1799.2 1315 L1805 1315.4 L1810.8 1315.8 L1816.6 1316.3 L1822.4 1316.7 L1828.2 1317.1 L1834 1317.5 L1839.9 1317.9 L1845.7 1318.3 L1851.5 1318.7 L1857.3 1319.1 L1863.1 1319.4 L1868.9 1319.8 L1874.7 1320.1 L1880.5 1320.5 L1886.3 1320.8 L1892.2 1321.2 L1898 1321.5 L1903.8 1321.8 L1909.6 1322.2 L1915.4 1322.5 L1921.2 1322.8 L1927 1323.1 L1932.8 1323.4 L1938.6 1323.7 L1944.4 1324 L1950.2 1324.3 L1956.1 1324.5 L1961.9 1324.8 L1967.7 1325.1 L1973.5 1325.3 L1979.3 1325.6" fill="none" stroke="#4f74b8" stroke-width="1.6"/>
<path d="M1398.3 1271.4 L1404.1 1272.9 L1409.9 1274.4 L1415.7 1275.9 L1421.5 1277.3 L1427.3 1278.7 L1433.2 1280.1 L1439 1281.5 L1444.8 1282.8 L1450.6 1284.1 L1456.4 1285.4 L1462.2 1286.7 L1468 1287.9 L1473.8 1289.1 L1479.6 1290.3 L1485.5 1291.5 L1491.3 1292.7 L1497.1 1293.8 L1502.9 1294.9 L1508.7 1296 L1514.5 1297.1 L1520.3 1298.2 L1526.1 1299.2 L1531.9 1300.2 L1537.7 1301.2 L1543.5 1302.2 L1549.4 1303.2 L1555.2 1304.2 L1561 1305.1 L1566.8 1306 L1572.6 1306.9 L1578.4 1307.8 L1584.2 1308.7 L1590 1309.5 L1595.8 1310.4 L1601.6 1311.2 L1607.5 1312 L1613.3 1312.8 L1619.1 1313.6 L1624.9 1314.4 L1630.7 1315.1 L1636.5 1315.8 L1642.3 1316.6 L1648.1 1317.3 L1653.9 1318 L1659.8 1318.7 L1665.6 1319.4 L1671.4 1320 L1677.2 1320.7 L1683 1321.3 L1688.8 1322 L1694.6 1322.6 L1700.4 1323.2 L1706.2 1323.8 L1712 1324.4 L1717.8 1325 L1723.7 1325.5 L1729.5 1326.1 L1735.3 1326.6 L1741.1 1327.2 L1746.9 1327.7 L1752.7 1328.2 L1758.5 1328.7 L1764.3 1329.2 L1770.1 1329.7 L1775.9 1330.2 L1781.8 1330.7 L1787.6 1331.2 L1793.4 1331.6 L1799.2 1332.1 L1805 1332.5 L1810.8 1332.9 L1816.6 1333.4 L1822.4 1333.8 L1828.2 1334.2 L1834 1334.6 L1839.9 1335 L1845.7 1335.4 L1851.5 1335.8 L1857.3 1336.2 L1863.1 1336.5 L1868.9 1336.9 L1874.7 1337.2 L1880.5 1337.6 L1886.3 1337.9 L1892.2 1338.3 L1898 1338.6 L1903.8 1338.9 L1909.6 1339.3 L1915.4 1339.6 L1921.2 1339.9 L1927 1340.2 L1932.8 1340.5 L1938.6 1340.8 L1944.4 1341.1 L1950.2 1341.4 L1956.1 1341.6 L1961.9 1341.9 L1967.7 1342.2 L1973.5 1342.4 L1979.3 1342.7" fill="none" stroke="#f2a23a" stroke-width="1.6"/>
<path d="M1398.3 1292.7 L1404.1 1294.2 L1409.9 1295.7 L1415.7 1297.2 L1421.5 1298.6 L1427.3 1300 L1433.2 1301.4 L1439 1302.8 L1444.8 1304.1 L1450.6 1305.4 L1456.4 1306.7 L1462.2 1308 L1468 1309.2 L1473.8 1310.4 L1479.6 1311.6 L1485.5 1312.8 L1491.3 1314 L1497.1 1315.1 L1502.9 1316.2 L1508.7 1317.3 L1514.5 1318.4 L1520.3 1319.5 L1526.1 1320.5 L1531.9 1321.5 L1537.7 1322.5 L1543.5 1323.5 L1549.4 1324.5 L1555.2 1325.5 L1561 1326.4 L1566.8 1327.3 L1572.6 1328.2 L1578.4 1329.1 L1584.2 1330 L1590 1330.8 L1595.8 1331.7 L1601.6 1332.5 L1607.5 1333.3 L1613.3 1334.1 L1619.1 1334.9 L1624.9 1335.7 L1630.7 1336.4 L1636.5 1337.1 L1642.3 1337.9 L1648.1 1338.6 L1653.9 1339.3 L1659.8 1340 L1665.6 1340.7 L1671.4 1341.3 L1677.2 1342 L1683 1342.6 L1688.8 1343.3 L1694.6 1343.9 L1700.4 1344.5 L1706.2 1345.1 L1712 1345.7 L1717.8 1346.3 L1723.7 1346.8 L1729.5 1347.4 L1735.3 1347.9 L1741.1 1348.5 L1746.9 1349 L1752.7 1349.5 L1758.5 1350 L1764.3 1350.5 L1770.1 1351 L1775.9 1351.5 L1781.8 1352 L1787.6 1352.5 L1793.4 1352.9 L1799.2 1353.4 L1805 1353.8 L1810.8 1354.2 L1816.6 1354.7 L1822.4 1355.1 L1828.2 1355.5 L1834 1355.9 L1839.9 1356.3 L1845.7 1356.7 L1851.5 1357.1 L1857.3 1357.5 L1863.1 1357.8 L1868.9 1358.2 L1874.7 1358.5 L1880.5 1358.9 L1886.3 1359.2 L1892.2 1359.6 L1898 1359.9 L1903.8 1360.2 L1909.6 1360.6 L1915.4 1360.9 L1921.2 1361.2 L1927 1361.5 L1932.8 1361.8 L1938.6 1362.1 L1944.4 1362.4 L1950.2 1362.7 L1956.1 1362.9 L1961.9 1363.2 L1967.7 1363.5 L1973.5 1363.7 L1979.3 1364" fill="none" stroke="#ee9136" stroke-width="1.6"/>
<path d="M1398.3 1314 L1404.1 1315.5 L1409.9 1317 L1415.7 1318.5 L1421.5 1319.9 L1427.3 1321.3 L1433.2 1322.7 L1439 1324.1 L1444.8 1325.4 L1450.6 1326.7 L1456.4 1328 L1462.2 1329.3 L1468 1330.5 L1473.8 1331.7 L1479.6 1332.9 L1485.5 1334.1 L1491.3 1335.3 L1497.1 1336.4 L1502.9 1337.5 L1508.7 1338.6 L1514.5 1339.7 L1520.3 1340.8 L1526.1 1341.8 L1531.9 1342.8 L1537.7 1343.8 L1543.5 1344.8 L1549.4 1345.8 L1555.2 1346.8 L1561 1347.7 L1566.8 1348.6 L1572.6 1349.5 L1578.4 1350.4 L1584.2 1351.3 L1590 1352.1 L1595.8 1353 L1601.6 1353.8 L1607.5 1354.6 L1613.3 1355.4 L1619.1 1356.2 L1624.9 1357 L1630.7 1357.7 L1636.5 1358.4 L1642.3 1359.2 L1648.1 1359.9 L1653.9 1360.6 L1659.8 1361.3 L1665.6 1362 L1671.4 1362.6 L1677.2 1363.3 L1683 1363.9 L1688.8 1364.6 L1694.6 1365.2 L1700.4 1365.8 L1706.2 1366.4 L1712 1367 L1717.8 1367.6 L1723.7 1368.1 L1729.5 1368.7 L1735.3 1369.2 L1741.1 1369.8 L1746.9 1370.3 L1752.7 1370.8 L1758.5 1371.3 L1764.3 1371.8 L1770.1 1372.3 L1775.9 1372.8 L1781.8 1373.3 L1787.6 1373.8 L1793.4 1374.2 L1799.2 1374.7 L1805 1375.1 L1810.8 1375.5 L1816.6 1376 L1822.4 1376.4 L1828.2 1376.8 L1834 1377.2 L1839.9 1377.6 L1845.7 1378 L1851.5 1378.4 L1857.3 1378.8 L1863.1 1379.1 L1868.9 1379.5 L1874.7 1379.8 L1880.5 1380.2 L1886.3 1380.5 L1892.2 1380.9 L1898 1381.2 L1903.8 1381.5 L1909.6 1381.9 L1915.4 1382.2 L1921.2 1382.5 L1927 1382.8 L1932.8 1383.1 L1938.6 1383.4 L1944.4 1383.7 L1950.2 1384 L1956.1 1384.2 L1961.9 1384.5 L1967.7 1384.8 L1973.5 1385 L1979.3 1385.3" fill="none" stroke="#ec8434" stroke-width="1.6"/>
<path d="M1398.3 1331.3 L1404.1 1332.8 L1409.9 1334.3 L1415.7 1335.8 L1421.5 1337.2 L1427.3 1338.6 L1433.2 1340 L1439 1341.4 L1444.8 1342.7 L1450.6 1344 L1456.4 1345.3 L1462.2 1346.6 L1468 1347.8 L1473.8 1349 L1479.6 1350.2 L1485.5 1351.4 L1491.3 1352.6 L1497.1 1353.7 L1502.9 1354.8 L1508.7 1355.9 L1514.5 1357 L1520.3 1358.1 L1526.1 1359.1 L1531.9 1360.1 L1537.7 1361.1 L1543.5 1362.1 L1549.4 1363.1 L1555.2 1364.1 L1561 1365 L1566.8 1365.9 L1572.6 1366.8 L1578.4 1367.7 L1584.2 1368.6 L1590 1369.4 L1595.8 1370.3 L1601.6 1371.1 L1607.5 1371.9 L1613.3 1372.7 L1619.1 1373.5 L1624.9 1374.3 L1630.7 1375 L1636.5 1375.7 L1642.3 1376.5 L1648.1 1377.2 L1653.9 1377.9 L1659.8 1378.6 L1665.6 1379.3 L1671.4 1379.9 L1677.2 1380.6 L1683 1381.2 L1688.8 1381.9 L1694.6 1382.5 L1700.4 1383.1 L1706.2 1383.7 L1712 1384.3 L1717.8 1384.9 L1723.7 1385.4 L1729.5 1386 L1735.3 1386.5 L1741.1 1387.1 L1746.9 1387.6 L1752.7 1388.1 L1758.5 1388.6 L1764.3 1389.1 L1770.1 1389.6 L1775.9 1390.1 L1781.8 1390.6 L1787.6 1391.1 L1793.4 1391.5 L1799.2 1392 L1805 1392.4 L1810.8 1392.8 L1816.6 1393.3 L1822.4 1393.7 L1828.2 1394.1 L1834 1394.5 L1839.9 1394.9 L1845.7 1395.3 L1851.5 1395.7 L1857.3 1396.1 L1863.1 1396.4 L1868.9 1396.8 L1874.7 1397.1 L1880.5 1397.5 L1886.3 1397.8 L1892.2 1398.2 L1898 1398.5 L1903.8 1398.8 L1909.6 1399.2 L1915.4 1399.5 L1921.2 1399.8 L1927 1400.1 L1932.8 1400.4 L1938.6 1400.7 L1944.4 1401 L1950.2 1401.3 L1956.1 1401.5 L1961.9 1401.8 L1967.7 1402.1 L1973.5 1402.3 L1979.3 1402.6" fill="none" stroke="#e23a3e" stroke-width="1.6"/>
<rect x="1398.3" y="1192.1" width="581" height="286.7" fill="none" stroke="#222" stroke-width="2"/>
<line x1="1391.3" y1="1478.8" x2="1398.3" y2="1478.8" stroke="#222" stroke-width="1.6"/>
<text transform="translate(1389.3,1486.8) scale(1.030,1)" font-size="23" text-anchor="end">0</text>
<line x1="1391.3" y1="1443" x2="1398.3" y2="1443" stroke="#222" stroke-width="1.6"/>
<text transform="translate(1389.3,1451) scale(1.030,1)" font-size="23" text-anchor="end">2</text>
<line x1="1391.3" y1="1407.1" x2="1398.3" y2="1407.1" stroke="#222" stroke-width="1.6"/>
<text transform="translate(1389.3,1415.1) scale(1.030,1)" font-size="23" text-anchor="end">4</text>
<line x1="1391.3" y1="1371.3" x2="1398.3" y2="1371.3" stroke="#222" stroke-width="1.6"/>
<text transform="translate(1389.3,1379.3) scale(1.030,1)" font-size="23" text-anchor="end">6</text>
<line x1="1391.3" y1="1335.4" x2="1398.3" y2="1335.4" stroke="#222" stroke-width="1.6"/>
<text transform="translate(1389.3,1343.4) scale(1.030,1)" font-size="23" text-anchor="end">8</text>
<line x1="1391.3" y1="1299.6" x2="1398.3" y2="1299.6" stroke="#222" stroke-width="1.6"/>
<text transform="translate(1389.3,1307.6) scale(1.030,1)" font-size="23" text-anchor="end">10</text>
<line x1="1391.3" y1="1263.8" x2="1398.3" y2="1263.8" stroke="#222" stroke-width="1.6"/>
<text transform="translate(1389.3,1271.8) scale(1.030,1)" font-size="23" text-anchor="end">12</text>
<line x1="1391.3" y1="1227.9" x2="1398.3" y2="1227.9" stroke="#222" stroke-width="1.6"/>
<text transform="translate(1389.3,1235.9) scale(1.030,1)" font-size="23" text-anchor="end">14</text>
<line x1="1391.3" y1="1192.1" x2="1398.3" y2="1192.1" stroke="#222" stroke-width="1.6"/>
<text transform="translate(1389.3,1200.1) scale(1.030,1)" font-size="23" text-anchor="end">16</text>
<line x1="1398.3" y1="1478.8" x2="1398.3" y2="1485.8" stroke="#222" stroke-width="1.6"/>
<line x1="1456.4" y1="1478.8" x2="1456.4" y2="1482.8" stroke="#222" stroke-width="1.6"/>
<line x1="1514.5" y1="1478.8" x2="1514.5" y2="1485.8" stroke="#222" stroke-width="1.6"/>
<line x1="1572.6" y1="1478.8" x2="1572.6" y2="1482.8" stroke="#222" stroke-width="1.6"/>
<line x1="1630.7" y1="1478.8" x2="1630.7" y2="1485.8" stroke="#222" stroke-width="1.6"/>
<line x1="1688.8" y1="1478.8" x2="1688.8" y2="1482.8" stroke="#222" stroke-width="1.6"/>
<line x1="1746.9" y1="1478.8" x2="1746.9" y2="1485.8" stroke="#222" stroke-width="1.6"/>
<line x1="1805" y1="1478.8" x2="1805" y2="1482.8" stroke="#222" stroke-width="1.6"/>
<line x1="1863.1" y1="1478.8" x2="1863.1" y2="1485.8" stroke="#222" stroke-width="1.6"/>
<line x1="1921.2" y1="1478.8" x2="1921.2" y2="1482.8" stroke="#222" stroke-width="1.6"/>
<line x1="1979.3" y1="1478.8" x2="1979.3" y2="1485.8" stroke="#222" stroke-width="1.6"/>
<text transform="translate(1401.3,1511.5) scale(1.030,1)" font-size="23" text-anchor="middle">0</text>
<text transform="translate(1514.5,1511.5) scale(1.030,1)" font-size="23" text-anchor="middle">10</text>
<text transform="translate(1630.7,1511.5) scale(1.030,1)" font-size="23" text-anchor="middle">20</text>
<text transform="translate(1746.9,1511.5) scale(1.030,1)" font-size="23" text-anchor="middle">30</text>
<text transform="translate(1863.1,1511.5) scale(1.030,1)" font-size="23" text-anchor="middle">40</text>
<text transform="translate(1971.3,1511.5) scale(1.030,1)" font-size="23" text-anchor="middle">50</text>
<text transform="translate(1325.5,1337) rotate(-90)" font-size="24" text-anchor="middle" dominant-baseline="central">Telomere length (kb)</text>
<text transform="translate(1672.5,1540) scale(0.920,1)" font-size="25" text-anchor="middle">Age (yrs)</text>
<rect x="1428.5" y="1210" width="10" height="10.5" fill="#e3262e" stroke="#7a1418" stroke-width="1"/>
<text x="1444.4" y="1223.7" font-size="25" style="fill:#d9222a;stroke:#d9222a" letter-spacing="0.7">P1.3</text>
<circle cx="1433.3" cy="1243.2" r="5" fill="#e3262e" stroke="#7a1418" stroke-width="1"/>
<text x="1444.4" y="1253.3" font-size="25" style="fill:#d9222a;stroke:#d9222a" letter-spacing="0.7">P1.4</text>
<rect x="1589.7" y="1366.6" width="11" height="11" fill="#e3262e" stroke="#7a1418" stroke-width="1"/>
<circle cx="1711" cy="1393.3" r="5.7" fill="#e3262e" stroke="#7a1418" stroke-width="1"/>
<rect x="1815.9" y="1202.8" width="13" height="13" fill="#4a6cb3" stroke="#3a2a1a" stroke-width="1.3"/>
<text transform="translate(1834.5,1215.8) scale(0.895,1)" font-size="23">99th percentile</text>
<rect x="1815.9" y="1224.1" width="13" height="13" fill="#f5a83c" stroke="#3a2a1a" stroke-width="1.3"/>
<text transform="translate(1834.5,1237.7) scale(0.895,1)" font-size="23">90th percentile</text>
<rect x="1815.9" y="1245" width="13" height="13" fill="#f29a38" stroke="#3a2a1a" stroke-width="1.3"/>
<text transform="translate(1834.5,1259.8) scale(0.895,1)" font-size="23">50th percentile</text>
<rect x="1815.9" y="1266.9" width="13" height="13" fill="#f08a35" stroke="#3a2a1a" stroke-width="1.3"/>
<text transform="translate(1834.5,1281.1) scale(0.895,1)" font-size="23">10th percentile</text>
<rect x="1815.9" y="1288.3" width="13" height="13" fill="#e8303a" stroke="#3a2a1a" stroke-width="1.3"/>
<text transform="translate(1834.5,1302.5) scale(0.895,1)" font-size="23">1st percentile</text>
<rect x="132.9" y="1816.4" width="50.9" height="136.5" fill="#000"/>
<rect x="203.9" y="1877.6" width="50.9" height="75.3" fill="#ed1c24"/>
<line x1="158.3" y1="1775.7" x2="158.3" y2="1860.5" stroke="#c0c0c0" stroke-width="1.9"/>
<line x1="145.3" y1="1775.7" x2="171.3" y2="1775.7" stroke="#c0c0c0" stroke-width="1.9"/>
<line x1="145.3" y1="1860.5" x2="171.3" y2="1860.5" stroke="#c0c0c0" stroke-width="1.9"/>
<line x1="229.4" y1="1845.9" x2="229.4" y2="1912.5" stroke="#c0c0c0" stroke-width="1.9"/>
<line x1="216.4" y1="1845.9" x2="242.4" y2="1845.9" stroke="#c0c0c0" stroke-width="1.9"/>
<line x1="216.4" y1="1912.5" x2="242.4" y2="1912.5" stroke="#c0c0c0" stroke-width="1.9"/>
<line x1="111" y1="1687.3" x2="111" y2="1954.1" stroke="#000" stroke-width="2.3"/>
<line x1="101" y1="1952.9" x2="276.6" y2="1952.9" stroke="#000" stroke-width="2.3"/>
<line x1="101" y1="1952.9" x2="111" y2="1952.9" stroke="#000" stroke-width="2.3"/>
<text transform="translate(94,1960.3) scale(1.050,1)" font-size="20.5" text-anchor="end">0</text>
<line x1="101" y1="1900" x2="111" y2="1900" stroke="#000" stroke-width="2.3"/>
<text transform="translate(94,1907.4) scale(1.050,1)" font-size="20.5" text-anchor="end">20</text>
<line x1="101" y1="1847.1" x2="111" y2="1847.1" stroke="#000" stroke-width="2.3"/>
<text transform="translate(94,1854.5) scale(1.050,1)" font-size="20.5" text-anchor="end">40</text>
<line x1="101" y1="1794.2" x2="111" y2="1794.2" stroke="#000" stroke-width="2.3"/>
<text transform="translate(94,1801.6) scale(1.050,1)" font-size="20.5" text-anchor="end">60</text>
<line x1="101" y1="1741.3" x2="111" y2="1741.3" stroke="#000" stroke-width="2.3"/>
<text transform="translate(94,1748.7) scale(1.050,1)" font-size="20.5" text-anchor="end">80</text>
<line x1="101" y1="1688.4" x2="111" y2="1688.4" stroke="#000" stroke-width="2.3"/>
<text transform="translate(94,1695.8) scale(1.050,1)" font-size="20.5" text-anchor="end">100</text>
<line x1="158.3" y1="1952.9" x2="158.3" y2="1962.9" stroke="#000" stroke-width="2.3"/>
<text transform="translate(159.8,1971.9) scale(1.100,1) rotate(-45) scale(1.000,1)" font-size="21" text-anchor="end">Control</text>
<line x1="229.4" y1="1952.9" x2="229.4" y2="1962.9" stroke="#000" stroke-width="2.3"/>
<text transform="translate(230.9,1971.9) scale(1.100,1) rotate(-45) scale(1.000,1)" font-size="21" text-anchor="end">Patient</text>
<circle cx="158.1" cy="1743.3" r="2.6" fill="#fff" stroke="#000" stroke-width="1.2"/>
<circle cx="158.1" cy="1785.3" r="2.6" fill="#fff" stroke="#000" stroke-width="1.2"/>
<circle cx="153.4" cy="1817" r="2.6" fill="#fff" stroke="#000" stroke-width="1.2"/>
<circle cx="163.1" cy="1817" r="2.6" fill="#fff" stroke="#000" stroke-width="1.2"/>
<circle cx="148.4" cy="1855.4" r="2.6" fill="#fff" stroke="#000" stroke-width="1.2"/>
<circle cx="158.1" cy="1855.4" r="2.6" fill="#fff" stroke="#000" stroke-width="1.2"/>
<circle cx="168" cy="1855.4" r="2.6" fill="#fff" stroke="#000" stroke-width="1.2"/>
<circle cx="229.2" cy="1826.7" r="2.6" fill="#fff" stroke="#000" stroke-width="1.2"/>
<circle cx="229.2" cy="1850" r="2.6" fill="#fff" stroke="#000" stroke-width="1.2"/>
<circle cx="229.2" cy="1873.6" r="2.6" fill="#fff" stroke="#000" stroke-width="1.2"/>
<circle cx="229.2" cy="1880.6" r="2.6" fill="#fff" stroke="#000" stroke-width="1.2"/>
<circle cx="224.1" cy="1899.4" r="2.6" fill="#fff" stroke="#000" stroke-width="1.2"/>
<circle cx="234.2" cy="1903.9" r="2.6" fill="#fff" stroke="#000" stroke-width="1.2"/>
<circle cx="229.2" cy="1922.4" r="2.6" fill="#fff" stroke="#000" stroke-width="1.2"/>
<text transform="translate(188.8,1658.6) scale(1.080,1)" font-size="23" text-anchor="middle">CD4<tspan dy="-8.3" font-size="14.3">+</tspan><tspan dy="8.3" font-size="1">&#8203;</tspan> CD25<tspan dy="-8.3" font-size="14.3">+</tspan><tspan dy="8.3" font-size="1">&#8203;</tspan></text>
<text transform="translate(52.1,1825.7) rotate(-90) scale(1.080,1)" font-size="23" text-anchor="middle">% CD4<tspan dy="-8.3" font-size="14.3">+</tspan><tspan dy="8.3" font-size="1">&#8203;</tspan> CD25<tspan dy="-8.3" font-size="14.3">+</tspan><tspan dy="8.3" font-size="1">&#8203;</tspan></text>
<text transform="translate(191.4,1718.1) scale(1.120,1)" font-size="20.5" text-anchor="middle">p = 0.0109</text>
<line x1="158.1" y1="1726.8" x2="226.1" y2="1726.8" stroke="#000" stroke-width="2.4"/>
<rect x="405.2" y="1854.4" width="50.5" height="91.3" fill="#000"/>
<rect x="475.4" y="1904.9" width="50.5" height="40.8" fill="#ed1c24"/>
<line x1="430.4" y1="1804.5" x2="430.4" y2="1907.9" stroke="#c0c0c0" stroke-width="1.9"/>
<line x1="417.4" y1="1804.5" x2="443.4" y2="1804.5" stroke="#c0c0c0" stroke-width="1.9"/>
<line x1="417.4" y1="1907.9" x2="443.4" y2="1907.9" stroke="#c0c0c0" stroke-width="1.9"/>
<line x1="500.7" y1="1862.5" x2="500.7" y2="1945.7" stroke="#c0c0c0" stroke-width="1.9"/>
<line x1="487.7" y1="1862.5" x2="513.7" y2="1862.5" stroke="#c0c0c0" stroke-width="1.9"/>
<line x1="487.7" y1="1945.7" x2="513.7" y2="1945.7" stroke="#c0c0c0" stroke-width="1.9"/>
<line x1="384" y1="1690.1" x2="384" y2="1946.8" stroke="#000" stroke-width="2.3"/>
<line x1="374" y1="1945.7" x2="548.1" y2="1945.7" stroke="#000" stroke-width="2.3"/>
<line x1="374" y1="1945.7" x2="384" y2="1945.7" stroke="#000" stroke-width="2.3"/>
<text transform="translate(367,1953) scale(1.050,1)" font-size="20.5" text-anchor="end">0</text>
<line x1="374" y1="1894.8" x2="384" y2="1894.8" stroke="#000" stroke-width="2.3"/>
<text transform="translate(367,1902.2) scale(1.050,1)" font-size="20.5" text-anchor="end">20</text>
<line x1="374" y1="1843.9" x2="384" y2="1843.9" stroke="#000" stroke-width="2.3"/>
<text transform="translate(367,1851.3) scale(1.050,1)" font-size="20.5" text-anchor="end">40</text>
<line x1="374" y1="1793" x2="384" y2="1793" stroke="#000" stroke-width="2.3"/>
<text transform="translate(367,1800.4) scale(1.050,1)" font-size="20.5" text-anchor="end">60</text>
<line x1="374" y1="1742.1" x2="384" y2="1742.1" stroke="#000" stroke-width="2.3"/>
<text transform="translate(367,1749.5) scale(1.050,1)" font-size="20.5" text-anchor="end">80</text>
<line x1="374" y1="1691.3" x2="384" y2="1691.3" stroke="#000" stroke-width="2.3"/>
<text transform="translate(367,1698.6) scale(1.050,1)" font-size="20.5" text-anchor="end">100</text>
<line x1="430.4" y1="1945.7" x2="430.4" y2="1955.7" stroke="#000" stroke-width="2.3"/>
<text transform="translate(431.4,1959.7) scale(1.100,1) rotate(-45) scale(1.000,1)" font-size="21" text-anchor="end">Control</text>
<line x1="500.7" y1="1945.7" x2="500.7" y2="1955.7" stroke="#000" stroke-width="2.3"/>
<text transform="translate(501.7,1959.7) scale(1.100,1) rotate(-45) scale(1.000,1)" font-size="21" text-anchor="end">Patient</text>
<circle cx="430.4" cy="1743.8" r="2.6" fill="#fff" stroke="#000" stroke-width="1.2"/>
<circle cx="430.4" cy="1845.9" r="2.6" fill="#fff" stroke="#000" stroke-width="1.2"/>
<circle cx="430.4" cy="1874.2" r="2.6" fill="#fff" stroke="#000" stroke-width="1.2"/>
<circle cx="425.8" cy="1880" r="2.6" fill="#fff" stroke="#000" stroke-width="1.2"/>
<circle cx="435.1" cy="1880" r="2.6" fill="#fff" stroke="#000" stroke-width="1.2"/>
<circle cx="425.8" cy="1885.7" r="2.6" fill="#fff" stroke="#000" stroke-width="1.2"/>
<circle cx="435.1" cy="1885.7" r="2.6" fill="#fff" stroke="#000" stroke-width="1.2"/>
<circle cx="501.1" cy="1824.1" r="2.6" fill="#fff" stroke="#000" stroke-width="1.2"/>
<circle cx="501.1" cy="1884.3" r="2.6" fill="#fff" stroke="#000" stroke-width="1.2"/>
<circle cx="501.1" cy="1891.1" r="2.6" fill="#fff" stroke="#000" stroke-width="1.2"/>
<circle cx="501.1" cy="1922" r="2.6" fill="#fff" stroke="#000" stroke-width="1.2"/>
<circle cx="501.1" cy="1936.8" r="2.6" fill="#fff" stroke="#000" stroke-width="1.2"/>
<circle cx="496" cy="1944.2" r="2.6" fill="#fff" stroke="#000" stroke-width="1.2"/>
<circle cx="505.7" cy="1942.6" r="2.6" fill="#fff" stroke="#000" stroke-width="1.2"/>
<text transform="translate(463.3,1658.6) scale(1.080,1)" font-size="23" text-anchor="middle">CD8<tspan dy="-8.3" font-size="14.3">+</tspan><tspan dy="8.3" font-size="1">&#8203;</tspan> CD25<tspan dy="-8.3" font-size="14.3">+</tspan><tspan dy="8.3" font-size="1">&#8203;</tspan></text>
<text transform="translate(327,1820.5) rotate(-90) scale(1.080,1)" font-size="23" text-anchor="middle">% CD8<tspan dy="-8.3" font-size="14.3">+</tspan><tspan dy="8.3" font-size="1">&#8203;</tspan> CD25<tspan dy="-8.3" font-size="14.3">+</tspan><tspan dy="8.3" font-size="1">&#8203;</tspan></text>
<text transform="translate(464.1,1719.1) scale(1.120,1)" font-size="20.5" text-anchor="middle">p = 0.0716</text>
<line x1="429.4" y1="1728.2" x2="502.7" y2="1728.2" stroke="#000" stroke-width="2.4"/>
<rect x="709.6" y="1805.3" width="49.1" height="142.9" fill="#000"/>
<rect x="777.5" y="1879.6" width="49.3" height="68.6" fill="#ed1c24"/>
<line x1="734.2" y1="1773" x2="734.2" y2="1840.9" stroke="#c0c0c0" stroke-width="1.9"/>
<line x1="721.2" y1="1773" x2="747.2" y2="1773" stroke="#c0c0c0" stroke-width="1.9"/>
<line x1="721.2" y1="1840.9" x2="747.2" y2="1840.9" stroke="#c0c0c0" stroke-width="1.9"/>
<line x1="802.1" y1="1848.7" x2="802.1" y2="1913.6" stroke="#c0c0c0" stroke-width="1.9"/>
<line x1="789.1" y1="1848.7" x2="815.1" y2="1848.7" stroke="#c0c0c0" stroke-width="1.9"/>
<line x1="789.1" y1="1913.6" x2="815.1" y2="1913.6" stroke="#c0c0c0" stroke-width="1.9"/>
<line x1="689" y1="1682.6" x2="689" y2="1949.4" stroke="#000" stroke-width="2.3"/>
<line x1="679" y1="1948.3" x2="847.5" y2="1948.3" stroke="#000" stroke-width="2.3"/>
<line x1="679" y1="1948.3" x2="689" y2="1948.3" stroke="#000" stroke-width="2.3"/>
<text transform="translate(672,1955.7) scale(1.050,1)" font-size="20.5" text-anchor="end">0</text>
<line x1="679" y1="1895.4" x2="689" y2="1895.4" stroke="#000" stroke-width="2.3"/>
<text transform="translate(672,1902.8) scale(1.050,1)" font-size="20.5" text-anchor="end">20</text>
<line x1="679" y1="1842.5" x2="689" y2="1842.5" stroke="#000" stroke-width="2.3"/>
<text transform="translate(672,1849.9) scale(1.050,1)" font-size="20.5" text-anchor="end">40</text>
<line x1="679" y1="1789.6" x2="689" y2="1789.6" stroke="#000" stroke-width="2.3"/>
<text transform="translate(672,1797) scale(1.050,1)" font-size="20.5" text-anchor="end">60</text>
<line x1="679" y1="1736.7" x2="689" y2="1736.7" stroke="#000" stroke-width="2.3"/>
<text transform="translate(672,1744.1) scale(1.050,1)" font-size="20.5" text-anchor="end">80</text>
<line x1="679" y1="1683.8" x2="689" y2="1683.8" stroke="#000" stroke-width="2.3"/>
<text transform="translate(672,1691.2) scale(1.050,1)" font-size="20.5" text-anchor="end">100</text>
<line x1="734.2" y1="1948.3" x2="734.2" y2="1958.3" stroke="#000" stroke-width="2.3"/>
<text transform="translate(739.2,1968.3) scale(1.100,1) rotate(-45) scale(1.000,1)" font-size="21" text-anchor="end">Control</text>
<line x1="802.1" y1="1948.3" x2="802.1" y2="1958.3" stroke="#000" stroke-width="2.3"/>
<text transform="translate(807.1,1968.3) scale(1.100,1) rotate(-45) scale(1.000,1)" font-size="21" text-anchor="end">Patient</text>
<circle cx="734" cy="1751.8" r="2.6" fill="#fff" stroke="#000" stroke-width="1.2"/>
<circle cx="734" cy="1776.3" r="2.6" fill="#fff" stroke="#000" stroke-width="1.2"/>
<circle cx="734" cy="1801.3" r="2.6" fill="#fff" stroke="#000" stroke-width="1.2"/>
<circle cx="729.4" cy="1816.6" r="2.6" fill="#fff" stroke="#000" stroke-width="1.2"/>
<circle cx="738.9" cy="1816.6" r="2.6" fill="#fff" stroke="#000" stroke-width="1.2"/>
<circle cx="729.4" cy="1843.7" r="2.6" fill="#fff" stroke="#000" stroke-width="1.2"/>
<circle cx="738.9" cy="1843.7" r="2.6" fill="#fff" stroke="#000" stroke-width="1.2"/>
<circle cx="802.1" cy="1839.3" r="2.6" fill="#fff" stroke="#000" stroke-width="1.2"/>
<circle cx="802.1" cy="1845.9" r="2.6" fill="#fff" stroke="#000" stroke-width="1.2"/>
<circle cx="802.1" cy="1859" r="2.6" fill="#fff" stroke="#000" stroke-width="1.2"/>
<circle cx="807.1" cy="1897.8" r="2.6" fill="#fff" stroke="#000" stroke-width="1.2"/>
<circle cx="797" cy="1900.8" r="2.6" fill="#fff" stroke="#000" stroke-width="1.2"/>
<circle cx="797" cy="1913.6" r="2.6" fill="#fff" stroke="#000" stroke-width="1.2"/>
<circle cx="807.1" cy="1912.9" r="2.6" fill="#fff" stroke="#000" stroke-width="1.2"/>
<text transform="translate(765.7,1657.1) scale(1.080,1)" font-size="23" text-anchor="middle">CD4<tspan dy="-8.3" font-size="14.3">+</tspan><tspan dy="8.3" font-size="1">&#8203;</tspan> CD69<tspan dy="-8.3" font-size="14.3">+</tspan><tspan dy="8.3" font-size="1">&#8203;</tspan></text>
<text transform="translate(628.1,1823.1) rotate(-90) scale(1.080,1)" font-size="23" text-anchor="middle">% CD4<tspan dy="-8.3" font-size="14.3">+</tspan><tspan dy="8.3" font-size="1">&#8203;</tspan> CD69<tspan dy="-8.3" font-size="14.3">+</tspan><tspan dy="8.3" font-size="1">&#8203;</tspan></text>
<text transform="translate(767.4,1727.6) scale(1.120,1)" font-size="20.5" text-anchor="middle">p = 0.0012</text>
<line x1="731" y1="1737.9" x2="802.1" y2="1737.9" stroke="#000" stroke-width="2.4"/>
<rect x="967" y="1847.9" width="49.3" height="99.3" fill="#000"/>
<rect x="1035.6" y="1919" width="49.3" height="28.3" fill="#ed1c24"/>
<line x1="991.6" y1="1822.5" x2="991.6" y2="1876.2" stroke="#c0c0c0" stroke-width="1.9"/>
<line x1="978.6" y1="1822.5" x2="1004.6" y2="1822.5" stroke="#c0c0c0" stroke-width="1.9"/>
<line x1="978.6" y1="1876.2" x2="1004.6" y2="1876.2" stroke="#c0c0c0" stroke-width="1.9"/>
<line x1="1060.3" y1="1897.4" x2="1060.3" y2="1944.2" stroke="#c0c0c0" stroke-width="1.9"/>
<line x1="1047.3" y1="1897.4" x2="1073.3" y2="1897.4" stroke="#c0c0c0" stroke-width="1.9"/>
<line x1="1047.3" y1="1944.2" x2="1073.3" y2="1944.2" stroke="#c0c0c0" stroke-width="1.9"/>
<line x1="946.2" y1="1683.6" x2="946.2" y2="1948.4" stroke="#000" stroke-width="2.3"/>
<line x1="936.2" y1="1947.3" x2="1106.3" y2="1947.3" stroke="#000" stroke-width="2.3"/>
<line x1="936.2" y1="1947.3" x2="946.2" y2="1947.3" stroke="#000" stroke-width="2.3"/>
<text transform="translate(929.2,1954.6) scale(1.050,1)" font-size="20.5" text-anchor="end">0</text>
<line x1="936.2" y1="1894.8" x2="946.2" y2="1894.8" stroke="#000" stroke-width="2.3"/>
<text transform="translate(929.2,1902.2) scale(1.050,1)" font-size="20.5" text-anchor="end">20</text>
<line x1="936.2" y1="1842.3" x2="946.2" y2="1842.3" stroke="#000" stroke-width="2.3"/>
<text transform="translate(929.2,1849.7) scale(1.050,1)" font-size="20.5" text-anchor="end">40</text>
<line x1="936.2" y1="1789.8" x2="946.2" y2="1789.8" stroke="#000" stroke-width="2.3"/>
<text transform="translate(929.2,1797.2) scale(1.050,1)" font-size="20.5" text-anchor="end">60</text>
<line x1="936.2" y1="1737.3" x2="946.2" y2="1737.3" stroke="#000" stroke-width="2.3"/>
<text transform="translate(929.2,1744.7) scale(1.050,1)" font-size="20.5" text-anchor="end">80</text>
<line x1="936.2" y1="1684.8" x2="946.2" y2="1684.8" stroke="#000" stroke-width="2.3"/>
<text transform="translate(929.2,1692.2) scale(1.050,1)" font-size="20.5" text-anchor="end">100</text>
<line x1="991.6" y1="1947.3" x2="991.6" y2="1957.3" stroke="#000" stroke-width="2.3"/>
<text transform="translate(993.6,1962.3) scale(1.100,1) rotate(-45) scale(1.000,1)" font-size="21" text-anchor="end">Control</text>
<line x1="1060.3" y1="1947.3" x2="1060.3" y2="1957.3" stroke="#000" stroke-width="2.3"/>
<text transform="translate(1062.3,1962.3) scale(1.100,1) rotate(-45) scale(1.000,1)" font-size="21" text-anchor="end">Patient</text>
<circle cx="991.6" cy="1824.7" r="2.6" fill="#fff" stroke="#000" stroke-width="1.2"/>
<circle cx="986.6" cy="1830.2" r="2.6" fill="#fff" stroke="#000" stroke-width="1.2"/>
<circle cx="996.7" cy="1830.2" r="2.6" fill="#fff" stroke="#000" stroke-width="1.2"/>
<circle cx="986.6" cy="1842.7" r="2.6" fill="#fff" stroke="#000" stroke-width="1.2"/>
<circle cx="996.7" cy="1842.7" r="2.6" fill="#fff" stroke="#000" stroke-width="1.2"/>
<circle cx="987" cy="1887.7" r="2.6" fill="#fff" stroke="#000" stroke-width="1.2"/>
<circle cx="996.3" cy="1887.7" r="2.6" fill="#fff" stroke="#000" stroke-width="1.2"/>
<circle cx="1060.3" cy="1879.2" r="2.6" fill="#fff" stroke="#000" stroke-width="1.2"/>
<circle cx="1060.3" cy="1901.2" r="2.6" fill="#fff" stroke="#000" stroke-width="1.2"/>
<circle cx="1055.2" cy="1924" r="2.6" fill="#fff" stroke="#000" stroke-width="1.2"/>
<circle cx="1065.3" cy="1924" r="2.6" fill="#fff" stroke="#000" stroke-width="1.2"/>
<circle cx="1060.3" cy="1932.1" r="2.6" fill="#fff" stroke="#000" stroke-width="1.2"/>
<circle cx="1055.2" cy="1942.6" r="2.6" fill="#fff" stroke="#000" stroke-width="1.2"/>
<circle cx="1064.9" cy="1942.2" r="2.6" fill="#fff" stroke="#000" stroke-width="1.2"/>
<text transform="translate(1023.5,1657.1) scale(1.080,1)" font-size="23" text-anchor="middle">CD8<tspan dy="-8.3" font-size="14.3">+</tspan><tspan dy="8.3" font-size="1">&#8203;</tspan> CD69<tspan dy="-8.3" font-size="14.3">+</tspan><tspan dy="8.3" font-size="1">&#8203;</tspan></text>
<text transform="translate(886.2,1820.1) rotate(-90) scale(1.080,1)" font-size="23" text-anchor="middle">% CD8<tspan dy="-8.3" font-size="14.3">+</tspan><tspan dy="8.3" font-size="1">&#8203;</tspan> CD69<tspan dy="-8.3" font-size="14.3">+</tspan><tspan dy="8.3" font-size="1">&#8203;</tspan></text>
<text transform="translate(1025.9,1795.4) scale(1.120,1)" font-size="20.5" text-anchor="middle">p = 0.0002</text>
<line x1="992" y1="1802.5" x2="1060.3" y2="1802.5" stroke="#000" stroke-width="2.4"/>
<g>
<path d="M1201.6 1781.7 L1246.1 1781.4 L1255 1778 L1261 1776.1 L1277.3 1775.8 L1283.2 1772.1 L1287.7 1769.6 L1294.4 1769.1 L1299.5 1752 L1304.7 1723.8 L1307 1704.5 L1308.5 1702.3 L1309.9 1706 L1314.4 1731.3 L1319.6 1761 L1323.3 1777.3 L1326.3 1780.5 L1333 1781.7 L1392.3 1781.7" fill="#f5a3a8" stroke="#d9606a" stroke-width="1.2" fill-opacity="1" stroke-linejoin="round"/>
<path d="M1201.6 1833 L1240.2 1833 L1241.9 1826.3 L1243.9 1793.6 L1245.8 1752 L1247.1 1740.6 L1248.6 1752 L1250.9 1772.8 L1253.5 1777.3 L1255.8 1793.6 L1257.7 1811.4 L1259.8 1812.9 L1261.2 1812.2 L1263.2 1815.9 L1266.1 1821.8 L1271.3 1827.8 L1278.8 1827.5 L1287.7 1827 L1290.6 1821.1 L1294.4 1817.7 L1298.1 1818.6 L1302.5 1822.6 L1308.5 1827.8 L1317.4 1832.5 L1392.3 1833" fill="#d2d2d2" stroke="#b0b0b0" stroke-width="1.2" fill-opacity="0.85" stroke-linejoin="round"/>
<path d="M1201.6 1883.9 L1240.2 1883.9 L1241.9 1879.7 L1243.4 1838.1 L1245.4 1805.5 L1247.1 1792.9 L1248.8 1805.5 L1251.3 1830.7 L1254.3 1850 L1257.2 1863.4 L1261.7 1867.8 L1264.7 1873.8 L1268.4 1877.5 L1278.8 1879.4 L1283.2 1880.5 L1289.2 1878.2 L1294.4 1875.7 L1298.1 1877.9 L1302.5 1878.2 L1307 1881.2 L1312.9 1883.9 L1392.3 1883.9" fill="#9c9c9c" stroke="#6e6e6e" stroke-width="1.2" fill-opacity="0.85" stroke-linejoin="round"/>
<path d="M1242.4 1932.4 L1243.9 1897.5 L1245.4 1857.4 L1247.1 1845.6 L1249.1 1857.4 L1251.3 1864.1 L1253.2 1879.7 L1255.8 1899 L1258.7 1901.2 L1261 1903.5 L1263.9 1913.9 L1266.6 1921.3 L1271.3 1921.6 L1278.8 1922 L1283.2 1923.1 L1287.7 1919.8 L1291.4 1910.9 L1294.8 1904.7 L1297.3 1907.2 L1302.5 1918.3 L1308.5 1927.2 L1314.4 1932.4" fill="#6f6f6f" stroke="#1e1e1e" stroke-width="1.2" fill-opacity="0.9" stroke-linejoin="round"/>
</g>
<rect x="1201.6" y="1676.6" width="190.8" height="255.8" fill="none" stroke="#2a2a2a" stroke-width="1.6"/>
<text x="1342.6" y="1772.5" font-size="21.5" style="fill:#d6353c;stroke:#d6353c" letter-spacing="0.8">P1.3</text>
<text x="1348.5" y="1824" font-size="21.5">TC1</text>
<text x="1348.5" y="1874.8" font-size="21.5">NC1</text>
<text x="1348.5" y="1921" font-size="21.5">NC2</text>
<g>
<path d="M1403.8 1781.7 L1454.2 1781.4 L1463.1 1779.5 L1472 1778 L1478.7 1778.3 L1483.9 1774.3 L1489.1 1771.6 L1494.3 1767.6 L1497.3 1752 L1500.2 1732.7 L1502.5 1729 L1505.4 1735.7 L1509.9 1743.1 L1513.6 1755 L1518.1 1768.4 L1522.5 1775.1 L1528.5 1778.8 L1537.4 1781.7 L1593 1781.7" fill="#f5a3a8" stroke="#d9606a" stroke-width="1.2" fill-opacity="1" stroke-linejoin="round"/>
<path d="M1403.8 1832.7 L1442.4 1832.7 L1443.8 1826.3 L1446.1 1786.2 L1448 1758.7 L1449 1756.2 L1450.5 1761 L1452.4 1778.8 L1455 1793.6 L1457.2 1809.9 L1459.4 1818.1 L1463.1 1820.6 L1466.1 1820.3 L1469.1 1823.3 L1472 1828.1 L1483.9 1827.5 L1489.9 1824.8 L1494.3 1821.8 L1498 1820.3 L1501 1823.3 L1506.2 1827.8 L1512.1 1831.5 L1517.3 1832.7 L1593 1832.7" fill="#d2d2d2" stroke="#b0b0b0" stroke-width="1.2" fill-opacity="0.85" stroke-linejoin="round"/>
<path d="M1403.8 1883.9 L1442.4 1883.4 L1444.1 1879.7 L1445.6 1823.3 L1447.1 1793.6 L1448.3 1789.2 L1450.1 1796.6 L1452.7 1823.3 L1455.7 1845.6 L1457.9 1850 L1460.2 1848.5 L1462.4 1857.4 L1464.6 1865.6 L1469.1 1868.6 L1476.5 1873.8 L1483.9 1876 L1489.9 1878.2 L1494.3 1875.7 L1498 1875.3 L1501.7 1879 L1507.7 1881.9 L1516.6 1883.9 L1593 1883.9" fill="#9c9c9c" stroke="#6e6e6e" stroke-width="1.2" fill-opacity="0.85" stroke-linejoin="round"/>
<path d="M1444.1 1932.4 L1445.3 1912.4 L1447.1 1867.8 L1448.6 1853.7 L1449.8 1853 L1451.3 1864.9 L1452.4 1870.8 L1453.5 1869.3 L1455 1878.2 L1456.5 1897.5 L1457.9 1905 L1460.9 1901.2 L1462.4 1903.5 L1464.6 1913.9 L1467.6 1922 L1472 1920.5 L1476.5 1922 L1482.4 1926.5 L1488.4 1924.7 L1495.8 1924.7 L1501.7 1926.5 L1506.2 1929.4 L1509.2 1932.4" fill="#6f6f6f" stroke="#1e1e1e" stroke-width="1.2" fill-opacity="0.9" stroke-linejoin="round"/>
</g>
<rect x="1403.8" y="1677.1" width="189.3" height="255.3" fill="none" stroke="#2a2a2a" stroke-width="1.6"/>
<text x="1537.7" y="1773.6" font-size="21.5" style="fill:#d6353c;stroke:#d6353c" letter-spacing="0.8">P1.3</text>
<text x="1550.7" y="1826" font-size="21.5">TC1</text>
<text x="1546.6" y="1874.8" font-size="21.5">NC1</text>
<text x="1548.5" y="1923.5" font-size="21.5">NC2</text>
<text transform="translate(1306.9,1662.1) scale(1.020,1)" font-size="24.3" text-anchor="middle">CD4<tspan dy="-8.7" font-size="15.1">+</tspan><tspan dy="8.7" font-size="1">&#8203;</tspan></text>
<text transform="translate(1493.1,1662.1) scale(1.020,1)" font-size="24.3" text-anchor="middle">CD8<tspan dy="-8.7" font-size="15.1">+</tspan><tspan dy="8.7" font-size="1">&#8203;</tspan></text>
<line x1="1178.1" y1="1840.4" x2="1178.1" y2="1684.3" stroke="#111" stroke-width="1.8"/>
<polygon points="1178.1,1676.6 1182.6,1687.6 1178.1,1684.9 1173.6,1687.6" fill="#111"/>
<text transform="translate(1182.6,1892.3) rotate(-90)" font-size="20.5" text-anchor="middle">% of Max</text>
<text transform="translate(1201.3,1959) scale(0.946,1)" font-size="19.8">CellTrace Violet</text>
<line x1="1339" y1="1952.3" x2="1585.8" y2="1952.3" stroke="#111" stroke-width="1.8"/>
<polygon points="1593.5,1952.3 1582.5,1956.8 1585.2,1952.3 1582.5,1947.8" fill="#111"/>
<rect x="1717.7" y="1761.6" width="43.9" height="183.3" fill="#000"/>
<rect x="1777.5" y="1847.3" width="44.2" height="97.5" fill="#ed1c24"/>
<line x1="1739.7" y1="1725.8" x2="1739.7" y2="1801.4" stroke="#c0c0c0" stroke-width="1.9"/>
<line x1="1728.7" y1="1725.8" x2="1750.7" y2="1725.8" stroke="#c0c0c0" stroke-width="1.9"/>
<line x1="1728.7" y1="1801.4" x2="1750.7" y2="1801.4" stroke="#c0c0c0" stroke-width="1.9"/>
<line x1="1799.6" y1="1807.8" x2="1799.6" y2="1890" stroke="#c0c0c0" stroke-width="1.9"/>
<line x1="1788.6" y1="1807.8" x2="1810.6" y2="1807.8" stroke="#c0c0c0" stroke-width="1.9"/>
<line x1="1788.6" y1="1890" x2="1810.6" y2="1890" stroke="#c0c0c0" stroke-width="1.9"/>
<line x1="1700.1" y1="1699" x2="1700.1" y2="1946" stroke="#000" stroke-width="2.3"/>
<line x1="1691.6" y1="1944.9" x2="1839" y2="1944.9" stroke="#000" stroke-width="2.3"/>
<line x1="1691.6" y1="1944.9" x2="1700.1" y2="1944.9" stroke="#000" stroke-width="2.3"/>
<text transform="translate(1686.6,1950.9) scale(1.050,1)" font-size="16.8" text-anchor="end">0</text>
<line x1="1691.6" y1="1895.9" x2="1700.1" y2="1895.9" stroke="#000" stroke-width="2.3"/>
<text transform="translate(1686.6,1902) scale(1.050,1)" font-size="16.8" text-anchor="end">20</text>
<line x1="1691.6" y1="1847" x2="1700.1" y2="1847" stroke="#000" stroke-width="2.3"/>
<text transform="translate(1686.6,1853) scale(1.050,1)" font-size="16.8" text-anchor="end">40</text>
<line x1="1691.6" y1="1798" x2="1700.1" y2="1798" stroke="#000" stroke-width="2.3"/>
<text transform="translate(1686.6,1804.1) scale(1.050,1)" font-size="16.8" text-anchor="end">60</text>
<line x1="1691.6" y1="1749.1" x2="1700.1" y2="1749.1" stroke="#000" stroke-width="2.3"/>
<text transform="translate(1686.6,1755.1) scale(1.050,1)" font-size="16.8" text-anchor="end">80</text>
<line x1="1691.6" y1="1700.1" x2="1700.1" y2="1700.1" stroke="#000" stroke-width="2.3"/>
<text transform="translate(1686.6,1706.2) scale(1.050,1)" font-size="16.8" text-anchor="end">100</text>
<line x1="1739.7" y1="1944.9" x2="1739.7" y2="1953.4" stroke="#000" stroke-width="2.3"/>
<text transform="translate(1744.2,1965.9) scale(1.100,1) rotate(-45) scale(1.000,1)" font-size="18.3" text-anchor="end">Control</text>
<line x1="1799.6" y1="1944.9" x2="1799.6" y2="1953.4" stroke="#000" stroke-width="2.3"/>
<text transform="translate(1804.1,1965.9) scale(1.100,1) rotate(-45) scale(1.000,1)" font-size="18.3" text-anchor="end">Patient</text>
<circle cx="1740" cy="1709.7" r="2.3" fill="#fff" stroke="#000" stroke-width="1.2"/>
<circle cx="1735.6" cy="1748.1" r="2.3" fill="#fff" stroke="#000" stroke-width="1.2"/>
<circle cx="1743.7" cy="1748.1" r="2.3" fill="#fff" stroke="#000" stroke-width="1.2"/>
<circle cx="1740" cy="1773.2" r="2.3" fill="#fff" stroke="#000" stroke-width="1.2"/>
<circle cx="1740" cy="1783.8" r="2.3" fill="#fff" stroke="#000" stroke-width="1.2"/>
<circle cx="1740" cy="1793.4" r="2.3" fill="#fff" stroke="#000" stroke-width="1.2"/>
<circle cx="1740" cy="1821.4" r="2.3" fill="#fff" stroke="#000" stroke-width="1.2"/>
<circle cx="1799.7" cy="1808.4" r="2.3" fill="#fff" stroke="#000" stroke-width="1.2"/>
<circle cx="1795.7" cy="1820.8" r="2.3" fill="#fff" stroke="#000" stroke-width="1.2"/>
<circle cx="1803.8" cy="1823.1" r="2.3" fill="#fff" stroke="#000" stroke-width="1.2"/>
<circle cx="1799.7" cy="1853.1" r="2.3" fill="#fff" stroke="#000" stroke-width="1.2"/>
<circle cx="1799.7" cy="1867" r="2.3" fill="#fff" stroke="#000" stroke-width="1.2"/>
<circle cx="1799.7" cy="1920.3" r="2.3" fill="#fff" stroke="#000" stroke-width="1.2"/>
<text transform="translate(1743.4,1643.3) scale(1.060,1)" font-size="20.5" text-anchor="middle">CD4<tspan dy="-7.4" font-size="12.7">+</tspan><tspan dy="7.4" font-size="1">&#8203;</tspan> CellTrace Violet</text>
<text transform="translate(1651.9,1818.5) rotate(-90) scale(1.080,1)" font-size="19.5" text-anchor="middle">% divided</text>
<text transform="translate(1768,1688) scale(1.120,1)" font-size="20.3" text-anchor="middle">p = 0.0039</text>
<line x1="1740.5" y1="1693.8" x2="1799.7" y2="1693.8" stroke="#000" stroke-width="2.4"/>
<rect x="1927.6" y="1771.7" width="42.4" height="172.3" fill="#000"/>
<rect x="1984.7" y="1858.9" width="42.4" height="85.1" fill="#ed1c24"/>
<line x1="1948.8" y1="1758.2" x2="1948.8" y2="1789" stroke="#c0c0c0" stroke-width="1.9"/>
<line x1="1937.8" y1="1758.2" x2="1959.8" y2="1758.2" stroke="#c0c0c0" stroke-width="1.9"/>
<line x1="1937.8" y1="1789" x2="1959.8" y2="1789" stroke="#c0c0c0" stroke-width="1.9"/>
<line x1="2005.9" y1="1811.8" x2="2005.9" y2="1909.4" stroke="#c0c0c0" stroke-width="1.9"/>
<line x1="1994.9" y1="1811.8" x2="2016.9" y2="1811.8" stroke="#c0c0c0" stroke-width="1.9"/>
<line x1="1994.9" y1="1909.4" x2="2016.9" y2="1909.4" stroke="#c0c0c0" stroke-width="1.9"/>
<line x1="1910.8" y1="1691.2" x2="1910.8" y2="1945.2" stroke="#000" stroke-width="2.3"/>
<line x1="1902.3" y1="1944" x2="2043" y2="1944" stroke="#000" stroke-width="2.3"/>
<line x1="1902.3" y1="1944" x2="1910.8" y2="1944" stroke="#000" stroke-width="2.3"/>
<text transform="translate(1897.3,1950.1) scale(1.050,1)" font-size="16.8" text-anchor="end">0</text>
<line x1="1902.3" y1="1893.7" x2="1910.8" y2="1893.7" stroke="#000" stroke-width="2.3"/>
<text transform="translate(1897.3,1899.7) scale(1.050,1)" font-size="16.8" text-anchor="end">20</text>
<line x1="1902.3" y1="1843.3" x2="1910.8" y2="1843.3" stroke="#000" stroke-width="2.3"/>
<text transform="translate(1897.3,1849.4) scale(1.050,1)" font-size="16.8" text-anchor="end">40</text>
<line x1="1902.3" y1="1793" x2="1910.8" y2="1793" stroke="#000" stroke-width="2.3"/>
<text transform="translate(1897.3,1799.1) scale(1.050,1)" font-size="16.8" text-anchor="end">60</text>
<line x1="1902.3" y1="1742.7" x2="1910.8" y2="1742.7" stroke="#000" stroke-width="2.3"/>
<text transform="translate(1897.3,1748.7) scale(1.050,1)" font-size="16.8" text-anchor="end">80</text>
<line x1="1902.3" y1="1692.4" x2="1910.8" y2="1692.4" stroke="#000" stroke-width="2.3"/>
<text transform="translate(1897.3,1698.4) scale(1.050,1)" font-size="16.8" text-anchor="end">100</text>
<line x1="1948.8" y1="1944" x2="1948.8" y2="1952.5" stroke="#000" stroke-width="2.3"/>
<text transform="translate(1953.3,1965) scale(1.100,1) rotate(-45) scale(1.000,1)" font-size="18.3" text-anchor="end">Control</text>
<line x1="2005.9" y1="1944" x2="2005.9" y2="1952.5" stroke="#000" stroke-width="2.3"/>
<text transform="translate(2010.4,1965) scale(1.100,1) rotate(-45) scale(1.000,1)" font-size="18.3" text-anchor="end">Patient</text>
<circle cx="1948.6" cy="1743.1" r="2.3" fill="#fff" stroke="#000" stroke-width="1.2"/>
<circle cx="1936.2" cy="1777.5" r="2.3" fill="#fff" stroke="#000" stroke-width="1.2"/>
<circle cx="1944.3" cy="1778.1" r="2.3" fill="#fff" stroke="#000" stroke-width="1.2"/>
<circle cx="1952.7" cy="1778.1" r="2.3" fill="#fff" stroke="#000" stroke-width="1.2"/>
<circle cx="1960.7" cy="1778.1" r="2.3" fill="#fff" stroke="#000" stroke-width="1.2"/>
<circle cx="1948.6" cy="1785.6" r="2.3" fill="#fff" stroke="#000" stroke-width="1.2"/>
<circle cx="2006.1" cy="1785.6" r="2.3" fill="#fff" stroke="#000" stroke-width="1.2"/>
<circle cx="2006.1" cy="1821.6" r="2.3" fill="#fff" stroke="#000" stroke-width="1.2"/>
<circle cx="2006.1" cy="1867" r="2.3" fill="#fff" stroke="#000" stroke-width="1.2"/>
<circle cx="2006.1" cy="1878.5" r="2.3" fill="#fff" stroke="#000" stroke-width="1.2"/>
<circle cx="2006.1" cy="1892.1" r="2.3" fill="#fff" stroke="#000" stroke-width="1.2"/>
<circle cx="2006.1" cy="1919.2" r="2.3" fill="#fff" stroke="#000" stroke-width="1.2"/>
<text transform="translate(1977.5,1643.3) scale(1.060,1)" font-size="20.5" text-anchor="middle">CD8<tspan dy="-7.4" font-size="12.7">+</tspan><tspan dy="7.4" font-size="1">&#8203;</tspan> CellTrace Violet</text>
<text transform="translate(1858.3,1818.5) rotate(-90) scale(1.080,1)" font-size="19.5" text-anchor="middle">% divided</text>
<text transform="translate(1976.6,1718.3) scale(1.120,1)" font-size="20.3" text-anchor="middle">p = 0.0019</text>
<line x1="1949.8" y1="1726.1" x2="2006.1" y2="1726.1" stroke="#000" stroke-width="2.4"/>
<path d="M177.5 2323.9 L188.2 2313.6 L198.9 2299.7 L207.4 2289 L216 2282.6 L226.7 2280.5 L239.5 2281.6 L248.1 2288 L256.6 2295.5 L265.2 2302.9 L275.8 2312.6 L286.5 2319.6 L299.4 2323.9" fill="#e4e3a2" stroke="none" stroke-width="0" fill-opacity="1"/>
<path d="M235.2 2323.9 L243.8 2320 L252.3 2313.6 L260.9 2305.1 L267.3 2299.7 L272.6 2298 L278 2299.7 L284.4 2306.2 L290.8 2312.6 L297.2 2317.9 L303.6 2321.8 L310 2323.9" fill="#b7dca6" stroke="none" stroke-width="0" fill-opacity="1"/>
<path d="M235.2 2323.9 L243.8 2320 L252.3 2313.6 L260.9 2305.1 L265.2 2302.9 L275.8 2312.6 L286.5 2319.6 L299.4 2323.9" fill="#9acb62" stroke="none" stroke-width="0" fill-opacity="1"/>
<path d="M158.3 2323.9 L163.6 2317.9 L167.9 2302.9 L172.2 2275.2 L176.4 2232.4 L180.7 2185.4 L183.9 2151.2 L187.1 2129.8 L189.3 2126.6 L192 2129.8 L194.6 2142.6 L197.8 2172.5 L201 2211 L204.2 2249.5 L207.4 2285.8 L210.6 2307.2 L213.8 2319 L218.1 2323.9" fill="#aaa7d6" stroke="none" stroke-width="0" fill-opacity="1"/>
<path d="M177.5 2323.9 L188.2 2313.6 L198.9 2299.7 L207 2289.7 L210.6 2307.2 L213.8 2319 L218.1 2323.9" fill="#a7a7a7" stroke="none" stroke-width="0" fill-opacity="1"/>
<path d="M91.6 2322.2 L94.1 2321.8 L98.4 2323.7 L115.5 2323.9 L149.7 2323.9 L154 2322.6 L158.3 2320 L163.6 2313.6 L167.9 2298.7 L172.2 2268.7 L176.4 2223.8 L180.7 2172.5 L183.9 2134.1 L186.1 2110.5 L187.1 2107.3 L188.6 2111.6 L191.4 2114.8 L194.2 2127.6 L197.8 2161.9 L201 2198.2 L204.2 2228.1 L207.4 2249.5 L211.7 2258.1 L218.1 2266.6 L224.5 2271.9 L227.7 2269.8 L229.9 2267 L232 2271.9 L235.2 2270.9 L239.5 2267.7 L243.8 2266.6 L248.1 2266.2 L252.3 2265.5 L256.6 2269.8 L260.9 2278.4 L266.2 2277.7 L269.4 2281.6 L273.7 2292.3 L278 2296.5 L286.5 2309.4 L297.2 2317.9 L307.9 2321.1 L318.6 2321.8 L329.3 2323.3 L350.7 2323.9 L359.2 2323.3 L362.4 2320.5 L364.6 2320" fill="none" stroke="#111" stroke-width="1.3" stroke-linejoin="round"/>
<path d="M91.6 2323.5 L151.9 2323.5 L158.3 2321.8 L163.6 2315.8 L167.9 2300.8 L172.2 2271.9 L176.4 2228.1 L180.7 2179 L183.9 2142.6 L187.1 2119.1 L189.3 2113.8 L192 2117 L194.6 2129.8 L197.8 2164 L201 2202.5 L204.2 2238.8 L207.4 2262.3 L210.6 2274.1 L213.8 2278.4 L218.1 2279.9 L226.7 2279.4 L233.1 2279 L243.8 2280.5 L254.5 2281.1 L265.2 2280.5 L271.6 2282.6 L278 2289 L286.5 2299.7 L295.1 2312.6 L303.6 2319.6 L314.3 2322.6 L329.3 2323.7 L364.6 2323.7" fill="none" stroke="#c0409a" stroke-width="1.3" stroke-linejoin="round"/>
<rect x="91.6" y="2092.4" width="273" height="231.5" fill="none" stroke="#555" stroke-width="1.4"/>
<line x1="91.6" y1="2323.9" x2="91.6" y2="2328.4" stroke="#333" stroke-width="1"/>
<line x1="104" y1="2323.9" x2="104" y2="2326.4" stroke="#333" stroke-width="1"/>
<line x1="116.4" y1="2323.9" x2="116.4" y2="2326.4" stroke="#333" stroke-width="1"/>
<line x1="128.9" y1="2323.9" x2="128.9" y2="2326.4" stroke="#333" stroke-width="1"/>
<line x1="141.3" y1="2323.9" x2="141.3" y2="2326.4" stroke="#333" stroke-width="1"/>
<line x1="153.7" y1="2323.9" x2="153.7" y2="2328.4" stroke="#333" stroke-width="1"/>
<line x1="166.2" y1="2323.9" x2="166.2" y2="2326.4" stroke="#333" stroke-width="1"/>
<line x1="178.6" y1="2323.9" x2="178.6" y2="2326.4" stroke="#333" stroke-width="1"/>
<line x1="191" y1="2323.9" x2="191" y2="2326.4" stroke="#333" stroke-width="1"/>
<line x1="203.5" y1="2323.9" x2="203.5" y2="2326.4" stroke="#333" stroke-width="1"/>
<line x1="215.9" y1="2323.9" x2="215.9" y2="2328.4" stroke="#333" stroke-width="1"/>
<line x1="228.3" y1="2323.9" x2="228.3" y2="2326.4" stroke="#333" stroke-width="1"/>
<line x1="240.8" y1="2323.9" x2="240.8" y2="2326.4" stroke="#333" stroke-width="1"/>
<line x1="253.2" y1="2323.9" x2="253.2" y2="2326.4" stroke="#333" stroke-width="1"/>
<line x1="265.6" y1="2323.9" x2="265.6" y2="2326.4" stroke="#333" stroke-width="1"/>
<line x1="278.1" y1="2323.9" x2="278.1" y2="2328.4" stroke="#333" stroke-width="1"/>
<line x1="290.5" y1="2323.9" x2="290.5" y2="2326.4" stroke="#333" stroke-width="1"/>
<line x1="302.9" y1="2323.9" x2="302.9" y2="2326.4" stroke="#333" stroke-width="1"/>
<line x1="315.4" y1="2323.9" x2="315.4" y2="2326.4" stroke="#333" stroke-width="1"/>
<line x1="327.8" y1="2323.9" x2="327.8" y2="2326.4" stroke="#333" stroke-width="1"/>
<line x1="340.2" y1="2323.9" x2="340.2" y2="2328.4" stroke="#333" stroke-width="1"/>
<line x1="352.7" y1="2323.9" x2="352.7" y2="2326.4" stroke="#333" stroke-width="1"/>
<line x1="86.6" y1="2144.1" x2="91.6" y2="2144.1" stroke="#333" stroke-width="1"/>
<line x1="86.6" y1="2204" x2="91.6" y2="2204" stroke="#333" stroke-width="1"/>
<line x1="86.6" y1="2263.8" x2="91.6" y2="2263.8" stroke="#333" stroke-width="1"/>
<line x1="86.6" y1="2323.9" x2="91.6" y2="2323.9" stroke="#333" stroke-width="1"/>
<line x1="89.1" y1="2308.9" x2="91.6" y2="2308.9" stroke="#333" stroke-width="1"/>
<line x1="89.1" y1="2294" x2="91.6" y2="2294" stroke="#333" stroke-width="1"/>
<line x1="89.1" y1="2279" x2="91.6" y2="2279" stroke="#333" stroke-width="1"/>
<line x1="89.1" y1="2249.1" x2="91.6" y2="2249.1" stroke="#333" stroke-width="1"/>
<line x1="89.1" y1="2234.1" x2="91.6" y2="2234.1" stroke="#333" stroke-width="1"/>
<line x1="89.1" y1="2219.1" x2="91.6" y2="2219.1" stroke="#333" stroke-width="1"/>
<line x1="89.1" y1="2189.2" x2="91.6" y2="2189.2" stroke="#333" stroke-width="1"/>
<line x1="89.1" y1="2174.3" x2="91.6" y2="2174.3" stroke="#333" stroke-width="1"/>
<line x1="89.1" y1="2159.3" x2="91.6" y2="2159.3" stroke="#333" stroke-width="1"/>
<line x1="89.1" y1="2129.4" x2="91.6" y2="2129.4" stroke="#333" stroke-width="1"/>
<line x1="89.1" y1="2114.4" x2="91.6" y2="2114.4" stroke="#333" stroke-width="1"/>
<line x1="89.1" y1="2099.4" x2="91.6" y2="2099.4" stroke="#333" stroke-width="1"/>
<text x="88.1" y="2344.6" font-size="14.5" text-anchor="middle">0</text>
<text x="157.6" y="2344.6" font-size="14.5" text-anchor="middle">50K</text>
<text x="217.1" y="2344.6" font-size="14.5" text-anchor="middle">100K</text>
<text x="279" y="2344.6" font-size="14.5" text-anchor="middle">150K</text>
<text x="347" y="2344.6" font-size="14.5" text-anchor="middle">200K</text>
<text transform="translate(221.8,2080.6) scale(1.060,1)" font-size="24" text-anchor="middle">Ctrl</text>
<text transform="translate(63.1,2208.2) rotate(-90) scale(0.970,1)" font-size="21.5" text-anchor="middle">Cell count</text>
<text transform="translate(210,2370.3) scale(1.020,1)" font-size="22.5" text-anchor="middle">Dye fluorescence</text>
<rect x="221.3" y="2097.7" width="12.8" height="9.6" fill="#aaa7d6"/>
<text transform="translate(237.8,2107.3) scale(1.120,1)" font-size="15">G1</text>
<text transform="translate(357.1,2107.3) scale(1.120,1)" font-size="15" text-anchor="end">53%</text>
<rect x="221.3" y="2113.8" width="12.8" height="9.6" fill="#a8a57e"/>
<text transform="translate(237.8,2123.8) scale(1.120,1)" font-size="15">S</text>
<text transform="translate(357.1,2123.8) scale(1.120,1)" font-size="15" text-anchor="end">30%</text>
<rect x="221.3" y="2130.9" width="12.8" height="9.2" fill="#7cc576"/>
<text transform="translate(237.8,2139.4) scale(1.120,1)" font-size="15" style="fill:#e0262d;stroke:#e0262d">G2/M</text>
<text transform="translate(356,2139.4) scale(1.120,1)" font-size="15" text-anchor="end" style="fill:#e0262d;stroke:#e0262d">16%</text>
<polygon points="294.7,2301.7 306.8,2283.3 308.6,2294 319,2297.2" fill="#ed1c24"/>
<path d="M456.9 2325.8 L469.7 2323.3 L482.5 2316.8 L495.4 2306.2 L506.1 2293.3 L516.7 2279.4 L527.4 2266.6 L536 2259.1 L543.5 2256.3 L551 2258.1 L559.5 2264.5 L568.1 2274.1 L576.6 2285.8 L585.2 2299.7 L593.7 2311.5 L602.3 2319 L610.8 2323.3 L621.5 2325.8" fill="#b9dea8" stroke="none" stroke-width="0" fill-opacity="1"/>
<path d="M461.2 2325.8 L478.3 2324.3 L542.4 2323.7 L585.2 2324.3 L606.5 2325.8" fill="#c9c98a" stroke="none" stroke-width="0" fill-opacity="1"/>
<path d="M468.6 2325.8 L474 2320 L478.3 2302.9 L482.5 2270.9 L486.8 2228.1 L491.1 2185.4 L494.3 2155.4 L497.1 2142.6 L498.6 2141.5 L500.7 2144.8 L503.5 2159.7 L507.1 2193.9 L510.3 2232.4 L513.5 2270.9 L516.7 2300.8 L520 2317.9 L524.2 2325.8" fill="#aaa7d6" stroke="none" stroke-width="0" fill-opacity="1"/>
<path d="M468.6 2325.8 L469.7 2323.3 L482.5 2316.8 L495.4 2306.2 L506.1 2293.3 L514.2 2282.6 L516.7 2300.8 L520 2317.9 L524.2 2325.8" fill="#5fbfa0" stroke="none" stroke-width="0" fill-opacity="1"/>
<path d="M409.4 2323.9 L412 2322.6 L415.2 2323.9 L420.5 2325.6 L452.6 2325.4 L467.6 2323.9 L472.9 2319 L477.2 2302.9 L481.5 2270.9 L485.7 2228.1 L490 2181.1 L493.7 2136.2 L496 2114.8 L497.5 2107.3 L499 2114.8 L501.8 2131.9 L505 2166.1 L508.2 2206.7 L510.8 2217.4 L512.9 2222.8 L515.7 2226 L518.9 2245.2 L523.2 2254.8 L529.6 2259.1 L536 2255.9 L538.6 2253.8 L541.3 2262.3 L545 2260.2 L548.8 2255.9 L552 2257 L554.8 2251.6 L558.4 2262.3 L561.6 2268.7 L565.9 2270.9 L570.2 2277.3 L576.6 2285.8 L585.2 2299.7 L593.7 2311.1 L602.3 2318.6 L617.2 2323.3 L649.3 2325 L666.4 2325.4 L669.6 2323.5 L671.7 2323" fill="none" stroke="#111" stroke-width="1.3" stroke-linejoin="round"/>
<path d="M409.4 2325.4 L452.6 2325 L465.4 2323.3 L471.9 2319 L476.1 2305.1 L480.4 2275.2 L484.7 2232.4 L489 2187.5 L492.8 2146.9 L495.8 2125.5 L498.6 2121.2 L501.4 2129.8 L504.3 2155.4 L507.8 2189.6 L510.8 2221.7 L514.2 2249.5 L517.8 2263.4 L521 2267.7 L525.3 2266.6 L531.7 2262.3 L538.1 2258.1 L543.5 2255.9 L551 2257.6 L559.5 2264 L568.1 2273.7 L576.6 2285.4 L585.2 2299.3 L593.7 2311.1 L602.3 2318.6 L610.8 2322.8 L627.9 2325 L671.7 2325.4" fill="none" stroke="#c0409a" stroke-width="1.3" stroke-linejoin="round"/>
<rect x="409.4" y="2091.3" width="262.3" height="234.5" fill="none" stroke="#555" stroke-width="1.4"/>
<line x1="409.4" y1="2325.8" x2="409.4" y2="2330.3" stroke="#333" stroke-width="1"/>
<line x1="421.5" y1="2325.8" x2="421.5" y2="2328.3" stroke="#333" stroke-width="1"/>
<line x1="433.5" y1="2325.8" x2="433.5" y2="2328.3" stroke="#333" stroke-width="1"/>
<line x1="445.6" y1="2325.8" x2="445.6" y2="2328.3" stroke="#333" stroke-width="1"/>
<line x1="457.6" y1="2325.8" x2="457.6" y2="2328.3" stroke="#333" stroke-width="1"/>
<line x1="469.7" y1="2325.8" x2="469.7" y2="2330.3" stroke="#333" stroke-width="1"/>
<line x1="481.7" y1="2325.8" x2="481.7" y2="2328.3" stroke="#333" stroke-width="1"/>
<line x1="493.8" y1="2325.8" x2="493.8" y2="2328.3" stroke="#333" stroke-width="1"/>
<line x1="505.8" y1="2325.8" x2="505.8" y2="2328.3" stroke="#333" stroke-width="1"/>
<line x1="517.9" y1="2325.8" x2="517.9" y2="2328.3" stroke="#333" stroke-width="1"/>
<line x1="529.9" y1="2325.8" x2="529.9" y2="2330.3" stroke="#333" stroke-width="1"/>
<line x1="542" y1="2325.8" x2="542" y2="2328.3" stroke="#333" stroke-width="1"/>
<line x1="554" y1="2325.8" x2="554" y2="2328.3" stroke="#333" stroke-width="1"/>
<line x1="566.1" y1="2325.8" x2="566.1" y2="2328.3" stroke="#333" stroke-width="1"/>
<line x1="578.1" y1="2325.8" x2="578.1" y2="2328.3" stroke="#333" stroke-width="1"/>
<line x1="590.2" y1="2325.8" x2="590.2" y2="2330.3" stroke="#333" stroke-width="1"/>
<line x1="602.2" y1="2325.8" x2="602.2" y2="2328.3" stroke="#333" stroke-width="1"/>
<line x1="614.3" y1="2325.8" x2="614.3" y2="2328.3" stroke="#333" stroke-width="1"/>
<line x1="626.3" y1="2325.8" x2="626.3" y2="2328.3" stroke="#333" stroke-width="1"/>
<line x1="638.4" y1="2325.8" x2="638.4" y2="2328.3" stroke="#333" stroke-width="1"/>
<line x1="650.4" y1="2325.8" x2="650.4" y2="2330.3" stroke="#333" stroke-width="1"/>
<line x1="662.4" y1="2325.8" x2="662.4" y2="2328.3" stroke="#333" stroke-width="1"/>
<line x1="404.4" y1="2108" x2="409.4" y2="2108" stroke="#333" stroke-width="1"/>
<line x1="404.4" y1="2180.5" x2="409.4" y2="2180.5" stroke="#333" stroke-width="1"/>
<line x1="404.4" y1="2252.7" x2="409.4" y2="2252.7" stroke="#333" stroke-width="1"/>
<line x1="404.4" y1="2325.4" x2="409.4" y2="2325.4" stroke="#333" stroke-width="1"/>
<line x1="406.9" y1="2307.3" x2="409.4" y2="2307.3" stroke="#333" stroke-width="1"/>
<line x1="406.9" y1="2289.2" x2="409.4" y2="2289.2" stroke="#333" stroke-width="1"/>
<line x1="406.9" y1="2271" x2="409.4" y2="2271" stroke="#333" stroke-width="1"/>
<line x1="406.9" y1="2234.8" x2="409.4" y2="2234.8" stroke="#333" stroke-width="1"/>
<line x1="406.9" y1="2216.7" x2="409.4" y2="2216.7" stroke="#333" stroke-width="1"/>
<line x1="406.9" y1="2198.6" x2="409.4" y2="2198.6" stroke="#333" stroke-width="1"/>
<line x1="406.9" y1="2162.3" x2="409.4" y2="2162.3" stroke="#333" stroke-width="1"/>
<line x1="406.9" y1="2144.2" x2="409.4" y2="2144.2" stroke="#333" stroke-width="1"/>
<line x1="406.9" y1="2126.1" x2="409.4" y2="2126.1" stroke="#333" stroke-width="1"/>
<text x="406" y="2344.6" font-size="14.5" text-anchor="middle">0</text>
<text x="469.7" y="2344.6" font-size="14.5" text-anchor="middle">50K</text>
<text x="533.4" y="2344.6" font-size="14.5" text-anchor="middle">100K</text>
<text x="595.8" y="2344.6" font-size="14.5" text-anchor="middle">150K</text>
<text x="651.9" y="2344.6" font-size="14.5" text-anchor="middle">200K</text>
<text transform="translate(551,2080) scale(1.060,1)" font-size="24" text-anchor="middle">G5 KO</text>
<text transform="translate(393.8,2210.4) rotate(-90) scale(0.970,1)" font-size="21.5" text-anchor="middle">Cell count</text>
<text transform="translate(546.2,2370.9) scale(1.020,1)" font-size="22.5" text-anchor="middle">Dye fluorescence</text>
<rect x="549.9" y="2100.3" width="13.3" height="9.8" fill="#aaa7d6"/>
<text transform="translate(567,2110.1) scale(1.120,1)" font-size="15">G1</text>
<text transform="translate(666,2110.1) scale(1.120,1)" font-size="15" text-anchor="end">44%</text>
<rect x="549.9" y="2117" width="13.3" height="9.6" fill="#a8a57e"/>
<text transform="translate(567,2126.6) scale(1.120,1)" font-size="15">S</text>
<text transform="translate(664.3,2126.6) scale(1.120,1)" font-size="15" text-anchor="end">3%</text>
<rect x="549.9" y="2133.4" width="13.3" height="9.8" fill="#7cc576"/>
<text transform="translate(567,2143.3) scale(1.120,1)" font-size="15" style="fill:#e0262d;stroke:#e0262d">G2/M</text>
<text transform="translate(668.1,2143.3) scale(1.120,1)" font-size="15" text-anchor="end" style="fill:#e0262d;stroke:#e0262d">53%</text>
<polygon points="595.4,2301.7 608.7,2282.9 610.4,2294 620.9,2297.2" fill="#ed1c24"/>
<rect x="246.7" y="2469.9" width="22" height="165.4" fill="#a9a3d6"/>
<rect x="279" y="2486.8" width="22" height="148.5" fill="#a9a3d6"/>
<rect x="333.4" y="2563.4" width="22" height="71.9" fill="#a9a57c"/>
<rect x="366" y="2627.2" width="21.7" height="8" fill="#a9a57c"/>
<rect x="420.1" y="2608.8" width="22.3" height="26.4" fill="#7dc671"/>
<rect x="453" y="2526.3" width="21.4" height="109" fill="#7dc671"/>
<line x1="257.7" y1="2447" x2="257.7" y2="2493" stroke="#8a8a8a" stroke-width="1.9"/>
<line x1="251.2" y1="2447" x2="264.2" y2="2447" stroke="#8a8a8a" stroke-width="1.9"/>
<line x1="251.2" y1="2493" x2="264.2" y2="2493" stroke="#8a8a8a" stroke-width="1.9"/>
<line x1="290" y1="2461" x2="290" y2="2511.4" stroke="#8a8a8a" stroke-width="1.9"/>
<line x1="283.5" y1="2461" x2="296.5" y2="2461" stroke="#8a8a8a" stroke-width="1.9"/>
<line x1="283.5" y1="2511.4" x2="296.5" y2="2511.4" stroke="#8a8a8a" stroke-width="1.9"/>
<line x1="344.4" y1="2547.9" x2="344.4" y2="2578.2" stroke="#8a8a8a" stroke-width="1.9"/>
<line x1="337.9" y1="2547.9" x2="350.9" y2="2547.9" stroke="#8a8a8a" stroke-width="1.9"/>
<line x1="337.9" y1="2578.2" x2="350.9" y2="2578.2" stroke="#8a8a8a" stroke-width="1.9"/>
<line x1="376.9" y1="2621.3" x2="376.9" y2="2631.7" stroke="#8a8a8a" stroke-width="1.9"/>
<line x1="370.4" y1="2621.3" x2="383.4" y2="2621.3" stroke="#8a8a8a" stroke-width="1.9"/>
<line x1="370.4" y1="2631.7" x2="383.4" y2="2631.7" stroke="#8a8a8a" stroke-width="1.9"/>
<line x1="431.2" y1="2598.4" x2="431.2" y2="2618.3" stroke="#8a8a8a" stroke-width="1.9"/>
<line x1="424.7" y1="2598.4" x2="437.7" y2="2598.4" stroke="#8a8a8a" stroke-width="1.9"/>
<line x1="424.7" y1="2618.3" x2="437.7" y2="2618.3" stroke="#8a8a8a" stroke-width="1.9"/>
<line x1="463.7" y1="2499.5" x2="463.7" y2="2552.1" stroke="#8a8a8a" stroke-width="1.9"/>
<line x1="457.2" y1="2499.5" x2="470.2" y2="2499.5" stroke="#8a8a8a" stroke-width="1.9"/>
<line x1="457.2" y1="2552.1" x2="470.2" y2="2552.1" stroke="#8a8a8a" stroke-width="1.9"/>
<line x1="234.8" y1="2420.3" x2="234.8" y2="2636.4" stroke="#000" stroke-width="2.3"/>
<line x1="224.8" y1="2635.2" x2="485.7" y2="2635.2" stroke="#000" stroke-width="2.3"/>
<line x1="224.8" y1="2635.2" x2="234.8" y2="2635.2" stroke="#000" stroke-width="2.3"/>
<text transform="translate(217.8,2642.2) scale(1.050,1)" font-size="19.3" text-anchor="end">0</text>
<line x1="224.8" y1="2581.8" x2="234.8" y2="2581.8" stroke="#000" stroke-width="2.3"/>
<text transform="translate(217.8,2588.7) scale(1.050,1)" font-size="19.3" text-anchor="end">20</text>
<line x1="224.8" y1="2528.3" x2="234.8" y2="2528.3" stroke="#000" stroke-width="2.3"/>
<text transform="translate(217.8,2535.3) scale(1.050,1)" font-size="19.3" text-anchor="end">40</text>
<line x1="224.8" y1="2474.9" x2="234.8" y2="2474.9" stroke="#000" stroke-width="2.3"/>
<text transform="translate(217.8,2481.9) scale(1.050,1)" font-size="19.3" text-anchor="end">60</text>
<line x1="224.8" y1="2421.5" x2="234.8" y2="2421.5" stroke="#000" stroke-width="2.3"/>
<text transform="translate(217.8,2428.4) scale(1.050,1)" font-size="19.3" text-anchor="end">80</text>
<line x1="257.7" y1="2635.2" x2="257.7" y2="2645.2" stroke="#000" stroke-width="2.3"/>
<text transform="translate(267.7,2660.2) scale(1.100,1) rotate(-45) scale(1.000,1)" font-size="21.5" text-anchor="end">Ctrl</text>
<line x1="290" y1="2635.2" x2="290" y2="2645.2" stroke="#000" stroke-width="2.3"/>
<text transform="translate(300,2660.2) scale(1.100,1) rotate(-45) scale(1.000,1)" font-size="21.5" text-anchor="end">G5 KO</text>
<line x1="344.4" y1="2635.2" x2="344.4" y2="2645.2" stroke="#000" stroke-width="2.3"/>
<text transform="translate(354.4,2660.2) scale(1.100,1) rotate(-45) scale(1.000,1)" font-size="21.5" text-anchor="end">Ctrl</text>
<line x1="376.9" y1="2635.2" x2="376.9" y2="2645.2" stroke="#000" stroke-width="2.3"/>
<text transform="translate(386.9,2660.2) scale(1.100,1) rotate(-45) scale(1.000,1)" font-size="21.5" text-anchor="end">G5 KO</text>
<line x1="431.2" y1="2635.2" x2="431.2" y2="2645.2" stroke="#000" stroke-width="2.3"/>
<text transform="translate(441.2,2660.2) scale(1.100,1) rotate(-45) scale(1.000,1)" font-size="21.5" text-anchor="end">Ctrl</text>
<line x1="463.7" y1="2635.2" x2="463.7" y2="2645.2" stroke="#000" stroke-width="2.3"/>
<text transform="translate(473.7,2660.2) scale(1.100,1) rotate(-45) scale(1.000,1)" font-size="21.5" text-anchor="end">G5 KO</text>
<circle cx="257.7" cy="2448.2" r="2.6" fill="#fff" stroke="#000" stroke-width="1.2"/>
<circle cx="252.3" cy="2457.4" r="2.6" fill="#fff" stroke="#000" stroke-width="1.2"/>
<circle cx="262.1" cy="2454.4" r="2.6" fill="#fff" stroke="#000" stroke-width="1.2"/>
<circle cx="252.3" cy="2493.6" r="2.6" fill="#fff" stroke="#000" stroke-width="1.2"/>
<circle cx="262.7" cy="2493.6" r="2.6" fill="#fff" stroke="#000" stroke-width="1.2"/>
<circle cx="290.3" cy="2455" r="2.6" fill="#fff" stroke="#000" stroke-width="1.2"/>
<circle cx="290.3" cy="2467.5" r="2.6" fill="#fff" stroke="#000" stroke-width="1.2"/>
<circle cx="290.3" cy="2492.1" r="2.6" fill="#fff" stroke="#000" stroke-width="1.2"/>
<circle cx="290.3" cy="2498.7" r="2.6" fill="#fff" stroke="#000" stroke-width="1.2"/>
<circle cx="290.3" cy="2518.3" r="2.6" fill="#fff" stroke="#000" stroke-width="1.2"/>
<circle cx="344.4" cy="2542" r="2.6" fill="#fff" stroke="#000" stroke-width="1.2"/>
<circle cx="344.4" cy="2556" r="2.6" fill="#fff" stroke="#000" stroke-width="1.2"/>
<circle cx="344.4" cy="2564" r="2.6" fill="#fff" stroke="#000" stroke-width="1.2"/>
<circle cx="344.4" cy="2571.4" r="2.6" fill="#fff" stroke="#000" stroke-width="1.2"/>
<circle cx="344.4" cy="2582.7" r="2.6" fill="#fff" stroke="#000" stroke-width="1.2"/>
<circle cx="368.4" cy="2619.8" r="2.6" fill="#fff" stroke="#000" stroke-width="1.2"/>
<circle cx="377.3" cy="2622.8" r="2.6" fill="#fff" stroke="#000" stroke-width="1.2"/>
<circle cx="376.4" cy="2628.1" r="2.6" fill="#fff" stroke="#000" stroke-width="1.2"/>
<circle cx="385.3" cy="2628.7" r="2.6" fill="#fff" stroke="#000" stroke-width="1.2"/>
<circle cx="368.4" cy="2630.8" r="2.6" fill="#fff" stroke="#000" stroke-width="1.2"/>
<circle cx="431.4" cy="2594" r="2.6" fill="#fff" stroke="#000" stroke-width="1.2"/>
<circle cx="431.4" cy="2604.4" r="2.6" fill="#fff" stroke="#000" stroke-width="1.2"/>
<circle cx="426" cy="2611.8" r="2.6" fill="#fff" stroke="#000" stroke-width="1.2"/>
<circle cx="436.7" cy="2611.8" r="2.6" fill="#fff" stroke="#000" stroke-width="1.2"/>
<circle cx="431.4" cy="2621.9" r="2.6" fill="#fff" stroke="#000" stroke-width="1.2"/>
<circle cx="464" cy="2493.6" r="2.6" fill="#fff" stroke="#000" stroke-width="1.2"/>
<circle cx="459" cy="2518.3" r="2.6" fill="#fff" stroke="#000" stroke-width="1.2"/>
<circle cx="469.1" cy="2516.8" r="2.6" fill="#fff" stroke="#000" stroke-width="1.2"/>
<circle cx="464" cy="2538.1" r="2.6" fill="#fff" stroke="#000" stroke-width="1.2"/>
<circle cx="464" cy="2562.5" r="2.6" fill="#fff" stroke="#000" stroke-width="1.2"/>
<text transform="translate(186.4,2522.4) rotate(-90) scale(1.000,1)" font-size="20.5" text-anchor="middle">Cell cycle %</text>
<text transform="translate(360.1,2521.2) scale(1.120,1)" font-size="20.8" text-anchor="middle">p &lt; 0.0001</text>
<line x1="343.8" y1="2530.1" x2="377" y2="2530.1" stroke="#000" stroke-width="2.4"/>
<text transform="translate(444.7,2474.3) scale(1.120,1)" font-size="20.8" text-anchor="middle">p = 0.0002</text>
<line x1="427.5" y1="2481.1" x2="466.4" y2="2481.1" stroke="#000" stroke-width="2"/>
<rect x="519" y="2402.5" width="19.3" height="12.5" fill="#a9a3d6"/>
<text transform="translate(544.2,2415.5) scale(1.030,1)" font-size="20.5">G0/G1</text>
<rect x="519" y="2429.2" width="19.3" height="11.6" fill="#a9a57c"/>
<text transform="translate(544.2,2441.7) scale(1.030,1)" font-size="20.5">S</text>
<rect x="519" y="2450.6" width="19.3" height="11.9" fill="#7dc671"/>
<text transform="translate(544.2,2463) scale(1.030,1)" font-size="20.5">G2/M</text>
<line x1="865.5" y1="2202.6" x2="865.5" y2="2234.7" stroke="#c6c6c6" stroke-width="2"/>
<line x1="858" y1="2202.6" x2="873" y2="2202.6" stroke="#c6c6c6" stroke-width="2"/>
<line x1="893.7" y1="2276.4" x2="893.7" y2="2328.7" stroke="#c6c6c6" stroke-width="2"/>
<line x1="886.2" y1="2276.4" x2="901.2" y2="2276.4" stroke="#c6c6c6" stroke-width="2"/>
<line x1="1006.6" y1="2306.7" x2="1006.6" y2="2330" stroke="#c6c6c6" stroke-width="2"/>
<line x1="999.1" y1="2306.7" x2="1014.1" y2="2306.7" stroke="#c6c6c6" stroke-width="2"/>
<line x1="1034.8" y1="2355.1" x2="1034.8" y2="2377" stroke="#c6c6c6" stroke-width="2"/>
<line x1="1027.3" y1="2355.1" x2="1042.3" y2="2355.1" stroke="#c6c6c6" stroke-width="2"/>
<line x1="1063" y1="2359.9" x2="1063" y2="2386.3" stroke="#c6c6c6" stroke-width="2"/>
<line x1="1055.5" y1="2359.9" x2="1070.5" y2="2359.9" stroke="#c6c6c6" stroke-width="2"/>
<line x1="1119.5" y1="2331.3" x2="1119.5" y2="2344.5" stroke="#c6c6c6" stroke-width="2"/>
<line x1="1112" y1="2331.3" x2="1127" y2="2331.3" stroke="#c6c6c6" stroke-width="2"/>
<line x1="1147.7" y1="2291.4" x2="1147.7" y2="2317.3" stroke="#c6c6c6" stroke-width="2"/>
<line x1="1140.2" y1="2291.4" x2="1155.2" y2="2291.4" stroke="#c6c6c6" stroke-width="2"/>
<line x1="1175.9" y1="2308.1" x2="1175.9" y2="2325.6" stroke="#c6c6c6" stroke-width="2"/>
<line x1="1168.4" y1="2308.1" x2="1183.4" y2="2308.1" stroke="#c6c6c6" stroke-width="2"/>
<line x1="1232.4" y1="2274.2" x2="1232.4" y2="2302.3" stroke="#c6c6c6" stroke-width="2"/>
<line x1="1224.9" y1="2274.2" x2="1239.9" y2="2274.2" stroke="#c6c6c6" stroke-width="2"/>
<line x1="1288.8" y1="2227.2" x2="1288.8" y2="2254.4" stroke="#c6c6c6" stroke-width="2"/>
<line x1="1281.3" y1="2227.2" x2="1296.3" y2="2227.2" stroke="#c6c6c6" stroke-width="2"/>
<line x1="1317" y1="2229.8" x2="1317" y2="2248.7" stroke="#c6c6c6" stroke-width="2"/>
<line x1="1309.5" y1="2229.8" x2="1324.5" y2="2229.8" stroke="#c6c6c6" stroke-width="2"/>
<line x1="1401.7" y1="2243.5" x2="1401.7" y2="2254.9" stroke="#c6c6c6" stroke-width="2"/>
<line x1="1394.2" y1="2243.5" x2="1409.2" y2="2243.5" stroke="#c6c6c6" stroke-width="2"/>
<line x1="893.7" y1="2300.1" x2="893.7" y2="2336.6" stroke="#c6c6c6" stroke-width="2"/>
<line x1="886.2" y1="2300.1" x2="901.2" y2="2300.1" stroke="#c6c6c6" stroke-width="2"/>
<line x1="1006.6" y1="2321.2" x2="1006.6" y2="2360.8" stroke="#c6c6c6" stroke-width="2"/>
<line x1="999.1" y1="2321.2" x2="1014.1" y2="2321.2" stroke="#c6c6c6" stroke-width="2"/>
<line x1="1034.8" y1="2371.8" x2="1034.8" y2="2405.2" stroke="#c6c6c6" stroke-width="2"/>
<line x1="1027.3" y1="2371.8" x2="1042.3" y2="2371.8" stroke="#c6c6c6" stroke-width="2"/>
<line x1="1063" y1="2362.1" x2="1063" y2="2379.2" stroke="#c6c6c6" stroke-width="2"/>
<line x1="1055.5" y1="2362.1" x2="1070.5" y2="2362.1" stroke="#c6c6c6" stroke-width="2"/>
<line x1="1091.3" y1="2421" x2="1091.3" y2="2435.5" stroke="#c6c6c6" stroke-width="2"/>
<line x1="1083.8" y1="2421" x2="1098.8" y2="2421" stroke="#c6c6c6" stroke-width="2"/>
<line x1="1175.9" y1="2312.4" x2="1175.9" y2="2345.4" stroke="#c6c6c6" stroke-width="2"/>
<line x1="1168.4" y1="2312.4" x2="1183.4" y2="2312.4" stroke="#c6c6c6" stroke-width="2"/>
<line x1="1204.1" y1="2277.3" x2="1204.1" y2="2301.9" stroke="#c6c6c6" stroke-width="2"/>
<line x1="1196.6" y1="2277.3" x2="1211.6" y2="2277.3" stroke="#c6c6c6" stroke-width="2"/>
<line x1="1232.4" y1="2310.2" x2="1232.4" y2="2327.4" stroke="#c6c6c6" stroke-width="2"/>
<line x1="1224.9" y1="2310.2" x2="1239.9" y2="2310.2" stroke="#c6c6c6" stroke-width="2"/>
<line x1="1288.8" y1="2236.9" x2="1288.8" y2="2274.7" stroke="#c6c6c6" stroke-width="2"/>
<line x1="1281.3" y1="2236.9" x2="1296.3" y2="2236.9" stroke="#c6c6c6" stroke-width="2"/>
<line x1="1401.7" y1="2246.5" x2="1401.7" y2="2269.8" stroke="#c6c6c6" stroke-width="2"/>
<line x1="1394.2" y1="2246.5" x2="1409.2" y2="2246.5" stroke="#c6c6c6" stroke-width="2"/>
<path d="M865.5 2235.5 L893.7 2336.6 L1006.6 2360.8 L1034.8 2405.2 L1063 2379.2 L1091.3 2435.5 L1119.5 2388 L1147.7 2353.8 L1175.9 2345.4 L1204.1 2301.9 L1232.4 2327.4 L1260.6 2310.2 L1288.8 2274.7 L1317 2262.4 L1401.7 2269.8" fill="none" stroke="#4a6fc0" stroke-width="2.4"/>
<circle cx="865.5" cy="2235.5" r="7" fill="#4a6fc0"/>
<circle cx="893.7" cy="2336.6" r="7" fill="#4a6fc0"/>
<circle cx="1006.6" cy="2360.8" r="7" fill="#4a6fc0"/>
<circle cx="1034.8" cy="2405.2" r="7" fill="#4a6fc0"/>
<circle cx="1063" cy="2379.2" r="7" fill="#4a6fc0"/>
<circle cx="1091.3" cy="2435.5" r="7" fill="#4a6fc0"/>
<circle cx="1119.5" cy="2388" r="7" fill="#4a6fc0"/>
<circle cx="1147.7" cy="2353.8" r="7" fill="#4a6fc0"/>
<circle cx="1175.9" cy="2345.4" r="7" fill="#4a6fc0"/>
<circle cx="1204.1" cy="2301.9" r="7" fill="#4a6fc0"/>
<circle cx="1232.4" cy="2327.4" r="7" fill="#4a6fc0"/>
<circle cx="1260.6" cy="2310.2" r="7" fill="#4a6fc0"/>
<circle cx="1288.8" cy="2274.7" r="7" fill="#4a6fc0"/>
<circle cx="1317" cy="2262.4" r="7" fill="#4a6fc0"/>
<circle cx="1401.7" cy="2269.8" r="7" fill="#4a6fc0"/>
<path d="M865.5 2234.7 L893.7 2328.7 L1006.6 2330 L1034.8 2377 L1063 2386.3 L1091.3 2404.7 L1119.5 2344.5 L1147.7 2317.3 L1175.9 2325.6 L1204.1 2258.8 L1232.4 2302.3 L1260.6 2288.7 L1288.8 2254.4 L1317 2248.7 L1401.7 2254.9" fill="none" stroke="#000" stroke-width="2.4"/>
<circle cx="865.5" cy="2234.7" r="7" fill="#000"/>
<circle cx="893.7" cy="2328.7" r="7" fill="#000"/>
<circle cx="1006.6" cy="2330" r="7" fill="#000"/>
<circle cx="1034.8" cy="2377" r="7" fill="#000"/>
<circle cx="1063" cy="2386.3" r="7" fill="#000"/>
<circle cx="1091.3" cy="2404.7" r="7" fill="#000"/>
<circle cx="1119.5" cy="2344.5" r="7" fill="#000"/>
<circle cx="1147.7" cy="2317.3" r="7" fill="#000"/>
<circle cx="1175.9" cy="2325.6" r="7" fill="#000"/>
<circle cx="1204.1" cy="2258.8" r="7" fill="#000"/>
<circle cx="1232.4" cy="2302.3" r="7" fill="#000"/>
<circle cx="1260.6" cy="2288.7" r="7" fill="#000"/>
<circle cx="1288.8" cy="2254.4" r="7" fill="#000"/>
<circle cx="1317" cy="2248.7" r="7" fill="#000"/>
<circle cx="1401.7" cy="2254.9" r="7" fill="#000"/>
<line x1="852" y1="2177.8" x2="852" y2="2483.8" stroke="#000" stroke-width="2.2"/>
<line x1="840.5" y1="2482.8" x2="1417.4" y2="2482.8" stroke="#000" stroke-width="2.2"/>
<line x1="840.5" y1="2482.8" x2="852" y2="2482.8" stroke="#000" stroke-width="2.2"/>
<text x="837" y="2489.8" font-size="19.5" text-anchor="end">0</text>
<line x1="840.5" y1="2422" x2="852" y2="2422" stroke="#000" stroke-width="2.2"/>
<text x="837" y="2429" font-size="19.5" text-anchor="end">20</text>
<line x1="840.5" y1="2361.2" x2="852" y2="2361.2" stroke="#000" stroke-width="2.2"/>
<text x="837" y="2368.2" font-size="19.5" text-anchor="end">40</text>
<line x1="840.5" y1="2300.4" x2="852" y2="2300.4" stroke="#000" stroke-width="2.2"/>
<text x="837" y="2307.4" font-size="19.5" text-anchor="end">60</text>
<line x1="840.5" y1="2239.6" x2="852" y2="2239.6" stroke="#000" stroke-width="2.2"/>
<text x="837" y="2246.6" font-size="19.5" text-anchor="end">80</text>
<line x1="840.5" y1="2178.8" x2="852" y2="2178.8" stroke="#000" stroke-width="2.2"/>
<text x="837" y="2185.8" font-size="19.5" text-anchor="end">100</text>
<line x1="865.5" y1="2482.8" x2="865.5" y2="2493.8" stroke="#000" stroke-width="2.2"/>
<text x="865.5" y="2516.6" font-size="19.5" text-anchor="middle">2</text>
<line x1="893.7" y1="2482.8" x2="893.7" y2="2493.8" stroke="#000" stroke-width="2.2"/>
<text x="893.7" y="2516.6" font-size="19.5" text-anchor="middle">3</text>
<line x1="921.9" y1="2482.8" x2="921.9" y2="2493.8" stroke="#000" stroke-width="2.2"/>
<text x="921.9" y="2516.6" font-size="19.5" text-anchor="middle">4</text>
<line x1="950.2" y1="2482.8" x2="950.2" y2="2493.8" stroke="#000" stroke-width="2.2"/>
<text x="950.2" y="2516.6" font-size="19.5" text-anchor="middle">5</text>
<line x1="978.4" y1="2482.8" x2="978.4" y2="2493.8" stroke="#000" stroke-width="2.2"/>
<text x="978.4" y="2516.6" font-size="19.5" text-anchor="middle">6</text>
<line x1="1006.6" y1="2482.8" x2="1006.6" y2="2493.8" stroke="#000" stroke-width="2.2"/>
<text x="1006.6" y="2516.6" font-size="19.5" text-anchor="middle">7</text>
<line x1="1034.8" y1="2482.8" x2="1034.8" y2="2493.8" stroke="#000" stroke-width="2.2"/>
<text x="1034.8" y="2516.6" font-size="19.5" text-anchor="middle">8</text>
<line x1="1063" y1="2482.8" x2="1063" y2="2493.8" stroke="#000" stroke-width="2.2"/>
<text x="1063" y="2516.6" font-size="19.5" text-anchor="middle">9</text>
<line x1="1091.3" y1="2482.8" x2="1091.3" y2="2493.8" stroke="#000" stroke-width="2.2"/>
<text x="1091.3" y="2516.6" font-size="19.5" text-anchor="middle">10</text>
<line x1="1119.5" y1="2482.8" x2="1119.5" y2="2493.8" stroke="#000" stroke-width="2.2"/>
<text x="1119.5" y="2516.6" font-size="19.5" text-anchor="middle">11</text>
<line x1="1147.7" y1="2482.8" x2="1147.7" y2="2493.8" stroke="#000" stroke-width="2.2"/>
<text x="1147.7" y="2516.6" font-size="19.5" text-anchor="middle">12</text>
<line x1="1175.9" y1="2482.8" x2="1175.9" y2="2493.8" stroke="#000" stroke-width="2.2"/>
<text x="1175.9" y="2516.6" font-size="19.5" text-anchor="middle">13</text>
<line x1="1204.1" y1="2482.8" x2="1204.1" y2="2493.8" stroke="#000" stroke-width="2.2"/>
<text x="1204.1" y="2516.6" font-size="19.5" text-anchor="middle">14</text>
<line x1="1232.4" y1="2482.8" x2="1232.4" y2="2493.8" stroke="#000" stroke-width="2.2"/>
<text x="1232.4" y="2516.6" font-size="19.5" text-anchor="middle">15</text>
<line x1="1260.6" y1="2482.8" x2="1260.6" y2="2493.8" stroke="#000" stroke-width="2.2"/>
<text x="1260.6" y="2516.6" font-size="19.5" text-anchor="middle">16</text>
<line x1="1288.8" y1="2482.8" x2="1288.8" y2="2493.8" stroke="#000" stroke-width="2.2"/>
<text x="1288.8" y="2516.6" font-size="19.5" text-anchor="middle">17</text>
<line x1="1317" y1="2482.8" x2="1317" y2="2493.8" stroke="#000" stroke-width="2.2"/>
<text x="1317" y="2516.6" font-size="19.5" text-anchor="middle">18</text>
<line x1="1345.2" y1="2482.8" x2="1345.2" y2="2493.8" stroke="#000" stroke-width="2.2"/>
<text x="1345.2" y="2516.6" font-size="19.5" text-anchor="middle">19</text>
<line x1="1373.4" y1="2482.8" x2="1373.4" y2="2493.8" stroke="#000" stroke-width="2.2"/>
<text x="1373.4" y="2516.6" font-size="19.5" text-anchor="middle">20</text>
<line x1="1401.7" y1="2482.8" x2="1401.7" y2="2493.8" stroke="#000" stroke-width="2.2"/>
<text x="1401.7" y="2516.6" font-size="19.5" text-anchor="middle">21</text>
<text transform="translate(799.7,2337) rotate(-90)" font-size="22" text-anchor="middle">% Viable cells</text>
<text x="1123.4" y="2546.7" font-size="22" text-anchor="middle">Days post electroporation</text>
<line x1="926.4" y1="2154.6" x2="957" y2="2154.6" stroke="#000" stroke-width="2"/>
<circle cx="940.3" cy="2154.6" r="7" fill="#000"/>
<text x="966" y="2161.7" font-size="23">Ctrl</text>
<line x1="925.4" y1="2192.7" x2="956.4" y2="2192.7" stroke="#4a6fc0" stroke-width="2"/>
<circle cx="940.3" cy="2192.7" r="7" fill="#4a6fc0"/>
<text x="966" y="2199.5" font-size="23">G5 KO</text>
<rect x="1627.3" y="2241.9" width="49.4" height="214.5" fill="#000"/>
<rect x="1696.8" y="2243" width="49.4" height="213.4" fill="#4060ae"/>
<line x1="1652" y1="2232.2" x2="1652" y2="2254.5" stroke="#c0c0c0" stroke-width="1.9"/>
<line x1="1640" y1="2232.2" x2="1664" y2="2232.2" stroke="#c0c0c0" stroke-width="1.9"/>
<line x1="1640" y1="2254.5" x2="1664" y2="2254.5" stroke="#c0c0c0" stroke-width="1.9"/>
<line x1="1721.5" y1="2235.9" x2="1721.5" y2="2254.5" stroke="#c0c0c0" stroke-width="1.9"/>
<line x1="1709.5" y1="2235.9" x2="1733.5" y2="2235.9" stroke="#c0c0c0" stroke-width="1.9"/>
<line x1="1709.5" y1="2254.5" x2="1733.5" y2="2254.5" stroke="#c0c0c0" stroke-width="1.9"/>
<line x1="1606.1" y1="2224.7" x2="1606.1" y2="2457.5" stroke="#000" stroke-width="2.3"/>
<line x1="1596.1" y1="2456.3" x2="1766.7" y2="2456.3" stroke="#000" stroke-width="2.3"/>
<line x1="1596.1" y1="2456.3" x2="1606.1" y2="2456.3" stroke="#000" stroke-width="2.3"/>
<text transform="translate(1589.1,2463.5) scale(1.050,1)" font-size="20" text-anchor="end">0</text>
<line x1="1596.1" y1="2410.2" x2="1606.1" y2="2410.2" stroke="#000" stroke-width="2.3"/>
<text transform="translate(1589.1,2417.4) scale(1.050,1)" font-size="20" text-anchor="end">20</text>
<line x1="1596.1" y1="2364.2" x2="1606.1" y2="2364.2" stroke="#000" stroke-width="2.3"/>
<text transform="translate(1589.1,2371.4) scale(1.050,1)" font-size="20" text-anchor="end">40</text>
<line x1="1596.1" y1="2318.1" x2="1606.1" y2="2318.1" stroke="#000" stroke-width="2.3"/>
<text transform="translate(1589.1,2325.3) scale(1.050,1)" font-size="20" text-anchor="end">60</text>
<line x1="1596.1" y1="2272" x2="1606.1" y2="2272" stroke="#000" stroke-width="2.3"/>
<text transform="translate(1589.1,2279.2) scale(1.050,1)" font-size="20" text-anchor="end">80</text>
<line x1="1596.1" y1="2225.9" x2="1606.1" y2="2225.9" stroke="#000" stroke-width="2.3"/>
<text transform="translate(1589.1,2233.1) scale(1.050,1)" font-size="20" text-anchor="end">100</text>
<line x1="1652" y1="2456.3" x2="1652" y2="2466.3" stroke="#000" stroke-width="2.3"/>
<text transform="translate(1660,2480.3) scale(1.100,1) rotate(-45) scale(1.000,1)" font-size="21.5" text-anchor="end">Ctrl</text>
<line x1="1721.5" y1="2456.3" x2="1721.5" y2="2466.3" stroke="#000" stroke-width="2.3"/>
<text transform="translate(1729.5,2480.3) scale(1.100,1) rotate(-45) scale(1.000,1)" font-size="21.5" text-anchor="end">G5 KO</text>
<circle cx="1652.2" cy="2230.7" r="2.4" fill="#fff" stroke="#000" stroke-width="1.2"/>
<circle cx="1647" cy="2238.1" r="2.4" fill="#fff" stroke="#000" stroke-width="1.2"/>
<circle cx="1657" cy="2239.6" r="2.4" fill="#fff" stroke="#000" stroke-width="1.2"/>
<circle cx="1647" cy="2243.3" r="2.4" fill="#fff" stroke="#000" stroke-width="1.2"/>
<circle cx="1657" cy="2247.1" r="2.4" fill="#fff" stroke="#000" stroke-width="1.2"/>
<circle cx="1652.2" cy="2263" r="2.4" fill="#fff" stroke="#000" stroke-width="1.2"/>
<circle cx="1716.5" cy="2235.9" r="2.4" fill="#fff" stroke="#000" stroke-width="1.2"/>
<circle cx="1726.5" cy="2233.3" r="2.4" fill="#fff" stroke="#000" stroke-width="1.2"/>
<circle cx="1722.1" cy="2241.9" r="2.4" fill="#fff" stroke="#000" stroke-width="1.2"/>
<circle cx="1722.1" cy="2247.1" r="2.4" fill="#fff" stroke="#000" stroke-width="1.2"/>
<circle cx="1722.1" cy="2252.6" r="2.4" fill="#fff" stroke="#000" stroke-width="1.2"/>
<circle cx="1722.1" cy="2257.5" r="2.4" fill="#fff" stroke="#000" stroke-width="1.2"/>
<text transform="translate(1554.8,2343.7) rotate(-90) scale(1.080,1)" font-size="20.3" text-anchor="middle">% CD25<tspan dy="-7.3" font-size="12.6">+</tspan><tspan dy="7.3" font-size="1">&#8203;</tspan></text>
<text transform="translate(1689.7,2209.1) scale(1.120,1)" font-size="18.9" text-anchor="middle">n.s.</text>
<line x1="1648.5" y1="2215.5" x2="1730.6" y2="2215.5" stroke="#000" stroke-width="2.4"/>
<rect x="1898.6" y="2222.1" width="49.1" height="223.8" fill="#000"/>
<rect x="1966.7" y="2224.4" width="49.1" height="221.6" fill="#4060ae"/>
<line x1="1923.2" y1="2220.3" x2="1923.2" y2="2227.7" stroke="#c0c0c0" stroke-width="1.9"/>
<line x1="1911.2" y1="2220.3" x2="1935.2" y2="2220.3" stroke="#c0c0c0" stroke-width="1.9"/>
<line x1="1911.2" y1="2227.7" x2="1935.2" y2="2227.7" stroke="#c0c0c0" stroke-width="1.9"/>
<line x1="1991.2" y1="2221.4" x2="1991.2" y2="2229.6" stroke="#c0c0c0" stroke-width="1.9"/>
<line x1="1979.2" y1="2221.4" x2="2003.2" y2="2221.4" stroke="#c0c0c0" stroke-width="1.9"/>
<line x1="1979.2" y1="2229.6" x2="2003.2" y2="2229.6" stroke="#c0c0c0" stroke-width="1.9"/>
<line x1="1876.3" y1="2213.6" x2="1876.3" y2="2447.1" stroke="#000" stroke-width="2.3"/>
<line x1="1866.3" y1="2445.9" x2="2036.2" y2="2445.9" stroke="#000" stroke-width="2.3"/>
<line x1="1866.3" y1="2445.9" x2="1876.3" y2="2445.9" stroke="#000" stroke-width="2.3"/>
<text transform="translate(1859.3,2453.1) scale(1.050,1)" font-size="20" text-anchor="end">0</text>
<line x1="1866.3" y1="2399.7" x2="1876.3" y2="2399.7" stroke="#000" stroke-width="2.3"/>
<text transform="translate(1859.3,2406.9) scale(1.050,1)" font-size="20" text-anchor="end">20</text>
<line x1="1866.3" y1="2353.4" x2="1876.3" y2="2353.4" stroke="#000" stroke-width="2.3"/>
<text transform="translate(1859.3,2360.6) scale(1.050,1)" font-size="20" text-anchor="end">40</text>
<line x1="1866.3" y1="2307.2" x2="1876.3" y2="2307.2" stroke="#000" stroke-width="2.3"/>
<text transform="translate(1859.3,2314.4) scale(1.050,1)" font-size="20" text-anchor="end">60</text>
<line x1="1866.3" y1="2261" x2="1876.3" y2="2261" stroke="#000" stroke-width="2.3"/>
<text transform="translate(1859.3,2268.2) scale(1.050,1)" font-size="20" text-anchor="end">80</text>
<line x1="1866.3" y1="2214.7" x2="1876.3" y2="2214.7" stroke="#000" stroke-width="2.3"/>
<text transform="translate(1859.3,2221.9) scale(1.050,1)" font-size="20" text-anchor="end">100</text>
<line x1="1923.2" y1="2445.9" x2="1923.2" y2="2455.9" stroke="#000" stroke-width="2.3"/>
<text transform="translate(1931.2,2469.9) scale(1.100,1) rotate(-45) scale(1.000,1)" font-size="21.5" text-anchor="end">Ctrl</text>
<line x1="1991.2" y1="2445.9" x2="1991.2" y2="2455.9" stroke="#000" stroke-width="2.3"/>
<text transform="translate(1999.2,2469.9) scale(1.100,1) rotate(-45) scale(1.000,1)" font-size="21.5" text-anchor="end">G5 KO</text>
<circle cx="1909.1" cy="2219.5" r="2.4" fill="#fff" stroke="#000" stroke-width="1.2"/>
<circle cx="1918.3" cy="2223.3" r="2.4" fill="#fff" stroke="#000" stroke-width="1.2"/>
<circle cx="1927.6" cy="2222.1" r="2.4" fill="#fff" stroke="#000" stroke-width="1.2"/>
<circle cx="1936.9" cy="2222.9" r="2.4" fill="#fff" stroke="#000" stroke-width="1.2"/>
<circle cx="1922.8" cy="2229.6" r="2.4" fill="#fff" stroke="#000" stroke-width="1.2"/>
<circle cx="1976.7" cy="2222.1" r="2.4" fill="#fff" stroke="#000" stroke-width="1.2"/>
<circle cx="1986.7" cy="2224" r="2.4" fill="#fff" stroke="#000" stroke-width="1.2"/>
<circle cx="1996" cy="2225.9" r="2.4" fill="#fff" stroke="#000" stroke-width="1.2"/>
<circle cx="2005.3" cy="2223.3" r="2.4" fill="#fff" stroke="#000" stroke-width="1.2"/>
<circle cx="1991.6" cy="2232.2" r="2.4" fill="#fff" stroke="#000" stroke-width="1.2"/>
<text transform="translate(1828.8,2332.6) rotate(-90) scale(1.080,1)" font-size="20.3" text-anchor="middle">% CD69<tspan dy="-7.3" font-size="12.6">+</tspan><tspan dy="7.3" font-size="1">&#8203;</tspan></text>
<text transform="translate(1957.4,2201) scale(1.120,1)" font-size="18.9" text-anchor="middle">n.s.</text>
<line x1="1916.5" y1="2207.3" x2="1998.3" y2="2207.3" stroke="#000" stroke-width="2.4"/>
<text x="1.6" y="42.5" font-size="49.5" font-weight="bold" style="fill:#1a1a1a;stroke:#1a1a1a" stroke-width="0">a</text>
<text x="734.3" y="41" font-size="49.5" font-weight="bold" style="fill:#1a1a1a;stroke:#1a1a1a" stroke-width="0">b</text>
<text x="1299.1" y="41" font-size="49.5" font-weight="bold" style="fill:#1a1a1a;stroke:#1a1a1a" stroke-width="0">c</text>
<text x="2.5" y="748" font-size="49.5" font-weight="bold" style="fill:#1a1a1a;stroke:#1a1a1a" stroke-width="0">d</text>
<text x="357.1" y="748" font-size="49.5" font-weight="bold" style="fill:#1a1a1a;stroke:#1a1a1a" stroke-width="0">e</text>
<text x="756.2" y="748" font-size="49.5" font-weight="bold" style="fill:#1a1a1a;stroke:#1a1a1a" stroke-width="0">f</text>
<text x="1390" y="748" font-size="49.5" font-weight="bold" style="fill:#1a1a1a;stroke:#1a1a1a" stroke-width="0">g</text>
<text x="4.3" y="1180.5" font-size="49.5" font-weight="bold" style="fill:#1a1a1a;stroke:#1a1a1a" stroke-width="0">h</text>
<text x="649.6" y="1180.5" font-size="49.5" font-weight="bold" style="fill:#1a1a1a;stroke:#1a1a1a" stroke-width="0">i</text>
<text x="1289.7" y="1180.5" font-size="49.5" font-weight="bold" style="fill:#1a1a1a;stroke:#1a1a1a" stroke-width="0">j</text>
<text x="1.1" y="1630.5" font-size="49.5" font-weight="bold" style="fill:#1a1a1a;stroke:#1a1a1a" stroke-width="0">k</text>
<text x="588.1" y="1630.5" font-size="49.5" font-weight="bold" style="fill:#1a1a1a;stroke:#1a1a1a" stroke-width="0">l</text>
<text x="1125.8" y="1630.5" font-size="49.5" font-weight="bold" style="fill:#1a1a1a;stroke:#1a1a1a" stroke-width="0">m</text>
<text x="4.4" y="2060" font-size="49.5" font-weight="bold" style="fill:#1a1a1a;stroke:#1a1a1a" stroke-width="0">n</text>
<text x="742.1" y="2068.5" font-size="49.5" font-weight="bold" style="fill:#1a1a1a;stroke:#1a1a1a" stroke-width="0">o</text>
<text x="1478.8" y="2068" font-size="49.5" font-weight="bold" style="fill:#1a1a1a;stroke:#1a1a1a" stroke-width="0">p</text>
</svg>
</body></html>
